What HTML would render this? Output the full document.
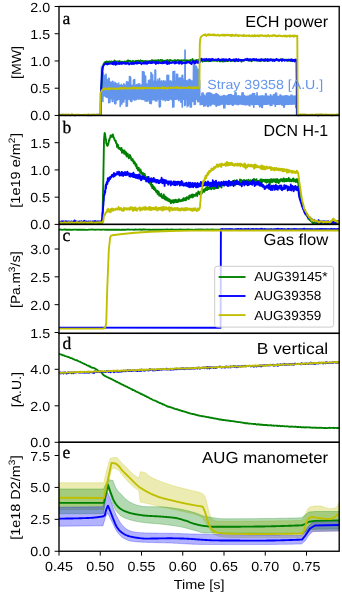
<!DOCTYPE html>
<html><head><meta charset="utf-8"><title>AUG ECH discharge overview</title>
<style>html,body{margin:0;padding:0;background:#fff;width:342px;height:593px;overflow:hidden}svg{display:block;will-change:transform}text{text-rendering:geometricPrecision}</style>
</head><body>
<svg width="342" height="593" viewBox="0 0 342 593"><g id="data">
<path d="M59 115 L60 115 L61 115.04 L62 114.96 L63 114.87 L64 114.93 L65 114.85 L66 115.01 L67 115.2 L68 114.93 L69 114.91 L70 115.07 L71 115.05 L72 115.02 L73 114.86 L74 115 L75 115.1 L76 114.8 L77 114.93 L78 114.71 L79 114.81 L80 114.72 L81 114.96 L82 114.81 L83 115.04 L84 115.02 L85 114.97 L86 114.62 L87 114.92 L88 114.99 L89 115.02 L90 114.77 L91 114.93 L92 114.85 L93 114.88 L94 115.16 L95 114.88 L96 115 L97 115.13 L98 114.91 L99 114.98 L100 115.02 L101 115.01 L101.3 66.3 L101.55 99.02 L101.8 68.37 L102.05 99.86 L102.3 70.04 L102.55 101.27 L102.8 71.91 L103.05 101.72 L103.3 72.61 L103.55 95.27 L103.8 74.1 L104.05 95.83 L104.3 75.52 L104.55 95.9 L104.8 76.51 L105.05 96.33 L105.3 75.7 L105.55 96.74 L105.8 74.2 L106.05 97.06 L106.3 74.29 L106.55 97.09 L106.8 79.39 L107.05 97.35 L107.3 80.03 L107.55 97.59 L107.8 79.71 L108.05 97.82 L108.3 78.4 L108.55 102.81 L108.8 78.12 L109.05 102.5 L109.3 78.07 L109.55 102.67 L109.8 81.62 L110.05 102.61 L110.3 82.46 L110.55 98.76 L110.8 81.93 L111.05 98.84 L111.3 83.01 L111.55 98.93 L111.8 82.43 L112.05 101.5 L112.3 81.23 L112.55 101.78 L112.8 81.06 L113.05 101.6 L113.3 81.84 L113.55 98.77 L113.8 83.62 L114.05 98.84 L114.3 83.7 L114.55 103.77 L114.8 81.95 L115.05 103.67 L115.3 82.47 L115.55 104.07 L115.8 83.51 L116.05 103.57 L116.3 83.24 L116.55 100.08 L116.8 83.72 L117.05 100.11 L117.3 83.64 L117.55 100.13 L117.8 85.23 L118.05 99.32 L118.3 84.84 L118.55 99.3 L118.8 82.69 L119.05 99.32 L119.3 84.63 L119.55 99.35 L119.8 85.21 L120.05 106.74 L120.3 85.48 L120.55 106.01 L120.8 84.81 L121.05 104.18 L121.3 83.98 L121.55 103.83 L121.8 84.89 L122.05 104.26 L122.3 85.27 L122.55 102.22 L122.8 85.37 L123.05 102.06 L123.3 84.86 L123.55 102.04 L123.8 83.42 L124.05 101.87 L124.3 84.56 L124.55 99.04 L124.8 84.3 L125.05 99.05 L125.3 85.72 L125.55 99.06 L125.8 85.75 L126.05 106.52 L126.3 81.85 L126.55 106.21 L126.8 81.68 L127.05 106.27 L127.3 81.89 L127.55 106.08 L127.8 82.2 L128.05 99.01 L128.3 82.15 L128.55 99.01 L128.8 84.18 L129.05 99.65 L129.3 76.41 L129.55 99.7 L129.8 76.72 L130.05 99.64 L130.3 76.5 L130.55 101.44 L130.8 77.2 L131.05 101.55 L131.3 84.84 L131.55 101.69 L131.8 85.43 L132.05 101.31 L132.3 85.8 L132.55 99.26 L132.8 84.8 L133.05 99.23 L133.3 80.28 L133.55 99.24 L133.8 79.31 L134.05 100.26 L134.3 80.2 L134.55 100.26 L134.8 79.35 L135.05 100.17 L135.3 85.8 L135.55 99.72 L135.8 85.13 L136.05 99.66 L136.3 84.56 L136.55 99.68 L136.8 84.66 L137.05 99 L137.3 85.56 L137.55 99 L137.8 84.06 L138.05 99.1 L138.3 83.9 L138.55 99.11 L138.8 83.89 L139.05 99.1 L139.3 85.02 L139.55 99.1 L139.8 83.65 L140.05 99.01 L140.3 85.11 L140.55 99.01 L140.8 85.9 L141.05 99.01 L141.3 84.75 L141.55 99.4 L141.8 85.55 L142.05 99.4 L142.3 71.3 L142.55 99.36 L142.8 72.02 L143.05 99.66 L143.3 71.68 L143.55 99.72 L143.8 71.5 L144.05 99.73 L144.3 71.99 L144.55 99.73 L144.8 75.94 L145.05 101.2 L145.3 75.96 L145.55 101.07 L145.8 75.91 L146.05 101.06 L146.3 85.64 L146.55 101.19 L146.8 83.89 L147.05 101.08 L147.3 85.3 L147.55 101.13 L147.8 83.91 L148.05 101.31 L148.3 80.54 L148.55 99.33 L148.8 80.18 L149.05 99.32 L149.3 80.85 L149.55 103.3 L149.8 79.95 L150.05 103.52 L150.3 82.75 L150.55 103.49 L150.8 72.41 L151.05 103.89 L151.3 72.69 L151.55 103.3 L151.8 73.15 L152.05 99.89 L152.3 74.74 L152.55 100 L152.8 74.77 L153.05 99.98 L153.3 81.75 L153.55 99.96 L153.8 81.11 L154.05 99.31 L154.3 81.94 L154.55 99.3 L154.8 70.05 L155.05 100.96 L155.3 69.96 L155.55 101.01 L155.8 70.08 L156.05 100.97 L156.3 81.12 L156.55 101.09 L156.8 81.22 L157.05 101.18 L157.3 81.62 L157.55 99.18 L157.8 79.06 L158.05 99.17 L158.3 81.26 L158.55 99.2 L158.8 80.86 L159.05 106.38 L159.3 78.25 L159.55 107.25 L159.8 78.48 L160.05 106.34 L160.3 81.95 L160.55 106.56 L160.8 81.4 L161.05 99.23 L161.3 80.62 L161.55 99.24 L161.8 81.74 L162.05 99.24 L162.3 81.99 L162.55 100.01 L162.8 80.97 L163.05 100.05 L163.3 80.92 L163.55 99.95 L163.8 80.64 L164.05 99.61 L164.3 81.01 L164.55 99.67 L164.8 81.56 L165.05 100.98 L165.3 80.93 L165.55 100.92 L165.8 81.9 L166.05 99.87 L166.3 81.7 L166.55 99.84 L166.8 75.26 L167.05 99.9 L167.3 75.13 L167.55 100.5 L167.8 75.32 L168.05 100.41 L168.3 75.57 L168.55 100.51 L168.8 75.21 L169.05 100.49 L169.3 80.89 L169.55 99.04 L169.8 81.19 L170.05 99.04 L170.3 80.57 L170.55 99.05 L170.8 81.46 L171.05 99.04 L171.3 81.15 L171.55 99.65 L171.8 81.79 L172.05 99.63 L172.3 81.89 L172.55 107.13 L172.8 71.51 L173.05 107.23 L173.3 71.67 L173.55 107.07 L173.8 71.62 L174.05 106.82 L174.3 71.36 L174.55 99.41 L174.8 71.06 L175.05 99.4 L175.3 81.96 L175.55 99.39 L175.8 80.91 L176.05 99.38 L176.3 74.25 L176.55 99.15 L176.8 74.12 L177.05 99.17 L177.3 74.01 L177.55 99.15 L177.8 74.39 L178.05 99.16 L178.3 77.86 L178.55 100.62 L178.8 78.32 L179.05 100.73 L179.3 78.11 L179.55 99.12 L179.8 77.87 L180.05 99.12 L180.3 78.2 L180.55 102.19 L180.8 77.96 L181.05 102.23 L181.3 81.23 L181.55 102.26 L181.8 75.55 L182.05 107.27 L182.3 75.35 L182.55 107.08 L182.8 74.94 L183.05 99.49 L183.3 78.61 L183.55 99.5 L183.8 80.24 L184.05 99.49 L184.3 80.56 L184.55 105.7 L184.8 50.01 L185.05 105.43 L185.3 49.81 L185.55 105.14 L185.8 80.41 L186.05 99.75 L186.3 81.73 L186.55 99.67 L186.8 80.25 L187.05 106.88 L187.3 81.15 L187.55 105.96 L187.8 81.66 L188.05 106 L188.3 79.93 L188.55 105.79 L188.8 79.26 L189.05 104.04 L189.3 79.99 L189.55 103.86 L189.8 79.2 L190.05 107.17 L190.3 80.76 L190.55 106.72 L190.8 80.22 L191.05 107.21 L191.3 80.56 L191.55 107.09 L191.8 81.69 L192.05 101.24 L192.3 80.87 L192.55 101.55 L192.8 81.58 L193.05 101.48 L193.3 64.99 L193.55 101.5 L193.8 64.59 L194.05 104.69 L194.3 64.47 L194.55 104.18 L194.8 65.04 L195.05 104.29 L195.3 66.47 L195.55 104.33 L195.8 66.19 L196.05 99.3 L196.3 66.02 L196.55 99.31 L196.8 66.54 L197.05 99.3 L197.3 69.39 L197.55 101.82 L197.8 68.99 L198.05 101.68 L198.3 69.27 L198.55 101.64 L198.8 69.46 L199.05 101.79 L199.3 81.17 L199.55 99.61 L199.8 80.68 L200.05 104.64 L200.3 96.26 L200.55 104.63 L200.8 96.26 L201.05 104.67 L201.3 96.26 L201.55 104.5 L201.8 92.98 L202.05 104.49 L202.3 93.04 L202.55 104.51 L202.8 92.85 L203.05 104.53 L203.3 92.79 L203.55 106.17 L203.8 95.04 L204.05 106.29 L204.3 94.96 L204.55 105.64 L204.8 95.76 L205.05 105.63 L205.3 95.79 L205.55 105.81 L205.8 95.75 L206.05 105.83 L206.3 93.42 L206.55 104.46 L206.8 93.35 L207.05 104.47 L207.3 92.9 L207.55 106.65 L207.8 92.78 L208.05 106.75 L208.3 92.87 L208.55 106.57 L208.8 92.77 L209.05 104.82 L209.3 92.62 L209.55 104.83 L209.8 92.96 L210.05 105.64 L210.3 92.76 L210.55 105.81 L210.8 93.28 L211.05 105.66 L211.3 93.64 L211.55 104.07 L211.8 93.4 L212.05 104.07 L212.3 94.64 L212.55 104.07 L212.8 94.82 L213.05 104.17 L213.3 94.77 L213.55 104.16 L213.8 94.79 L214.05 104.16 L214.3 94.53 L214.55 104.16 L214.8 94.33 L215.05 104.89 L215.3 94.43 L215.55 104.87 L215.8 93.41 L216.05 106.59 L216.3 93.57 L216.55 106.52 L216.8 93.28 L217.05 105.32 L217.3 94.57 L217.55 105.31 L217.8 94.47 L218.05 105.3 L218.3 94.53 L218.55 105.19 L218.8 95.96 L219.05 105.12 L219.3 95.95 L219.55 105.13 L219.8 95.96 L220.05 105.09 L220.3 96.28 L220.55 104.45 L220.8 96.28 L221.05 104.4 L221.3 96.28 L221.55 104.2 L221.8 96.05 L222.05 104.22 L222.3 96.02 L222.55 104.22 L222.8 96.04 L223.05 104.21 L223.3 95.4 L223.55 108.1 L223.8 95.44 L224.05 108.02 L224.3 95.37 L224.55 107.53 L224.8 95.42 L225.05 107.91 L225.3 96.1 L225.55 104.06 L225.8 96.1 L226.05 104.07 L226.3 96.08 L226.55 104.07 L226.8 95.63 L227.05 104.07 L227.3 95.68 L227.55 104.38 L227.8 95.67 L228.05 104.34 L228.3 94.67 L228.55 104.53 L228.8 94.51 L229.05 104.49 L229.3 94.56 L229.55 104.56 L229.8 94.57 L230.05 104.22 L230.3 94.71 L230.55 104.23 L230.8 94.38 L231.05 104.21 L231.3 94.53 L231.55 104.23 L231.8 94.52 L232.05 105.26 L232.3 95.56 L232.55 105.37 L232.8 95.61 L233.05 105.25 L233.3 95.59 L233.55 105.21 L233.8 95.54 L234.05 104.26 L234.3 95.59 L234.55 104.24 L234.8 92.66 L235.05 104.23 L235.3 92.6 L235.55 104.24 L235.8 92.62 L236.05 104.05 L236.3 92.88 L236.55 104.05 L236.8 96.16 L237.05 104.7 L237.3 96.16 L237.55 104.69 L237.8 95.54 L238.05 104.74 L238.3 95.58 L238.55 104.65 L238.8 95.49 L239.05 104.22 L239.3 96.07 L239.55 104.2 L239.8 96.08 L240.05 104.22 L240.3 96.08 L240.55 104.22 L240.8 96.07 L241.05 104.23 L241.3 96.1 L241.55 104.22 L241.8 92.9 L242.05 104.2 L242.3 92.9 L242.55 104.53 L242.8 92.6 L243.05 104.56 L243.3 92.7 L243.55 104.44 L243.8 95.34 L244.05 104.48 L244.3 95.31 L244.55 104.79 L244.8 95.42 L245.05 104.85 L245.3 96.27 L245.55 104.87 L245.8 96.28 L246.05 104.89 L246.3 96.27 L246.55 104.6 L246.8 96.28 L247.05 104.57 L247.3 96.1 L247.55 104.63 L247.8 96.09 L248.05 104.62 L248.3 96.08 L248.55 104.58 L248.8 96.09 L249.05 105.83 L249.3 95.34 L249.55 105.69 L249.8 95.43 L250.05 105.96 L250.3 95.13 L250.55 104.12 L250.8 94.98 L251.05 104.13 L251.3 95.11 L251.55 104.64 L251.8 94.95 L252.05 104.64 L252.3 93.41 L252.55 104.6 L252.8 93.63 L253.05 104.67 L253.3 93.7 L253.55 107.5 L253.8 93.31 L254.05 107.34 L254.3 93.27 L254.55 104.35 L254.8 93.56 L255.05 104.35 L255.3 95.74 L255.55 104.39 L255.8 95.78 L256.05 104.48 L256.3 95.77 L256.55 104.54 L256.8 92.51 L257.05 104.49 L257.3 92.97 L257.55 104.47 L257.8 96.16 L258.05 104.47 L258.3 96.16 L258.55 104.95 L258.8 96.17 L259.05 104.92 L259.3 96.17 L259.55 106.87 L259.8 96.07 L260.05 106.73 L260.3 96.07 L260.55 106.17 L260.8 95.78 L261.05 106.27 L261.3 95.75 L261.55 107.43 L261.8 95.73 L262.05 107.64 L262.3 95.7 L262.55 107.59 L262.8 95.73 L263.05 104.58 L263.3 96.15 L263.55 104.57 L263.8 96.13 L264.05 104.31 L264.3 96.15 L264.55 104.29 L264.8 96.14 L265.05 104.3 L265.3 93.82 L265.55 104.5 L265.8 93.48 L266.05 104.49 L266.3 93.53 L266.55 104.48 L266.8 96.17 L267.05 104.3 L267.3 96.18 L267.55 104.33 L267.8 95.95 L268.05 104.14 L268.3 95.95 L268.55 104.12 L268.8 96.29 L269.05 104.12 L269.3 96.29 L269.55 104.12 L269.8 96.29 L270.05 105.65 L270.3 94.59 L270.55 105.63 L270.8 94.67 L271.05 105.58 L271.3 95.54 L271.55 105.45 L271.8 96.21 L272.05 105.48 L272.3 96.21 L272.55 104.02 L272.8 96.22 L273.05 104.02 L273.3 94.65 L273.55 104.02 L273.8 94.54 L274.05 104.04 L274.3 94.67 L274.55 104.03 L274.8 94.51 L275.05 106.4 L275.3 92.98 L275.55 106.41 L275.8 92.79 L276.05 104.41 L276.3 93.17 L276.55 104.41 L276.8 93.14 L277.05 104.44 L277.3 96.28 L277.55 104.39 L277.8 96.28 L278.05 104.4 L278.3 96.28 L278.55 104.36 L278.8 96.28 L279.05 104.37 L279.3 96.28 L279.55 104.38 L279.8 94.9 L280.05 104.11 L280.3 94.87 L280.55 104.11 L280.8 94.89 L281.05 104.12 L281.3 95.87 L281.55 105.06 L281.8 95.88 L282.05 105.11 L282.3 95.86 L282.55 105.15 L282.8 96.27 L283.05 105.18 L283.3 96.27 L283.55 107.3 L283.8 95.87 L284.05 107.05 L284.3 95.85 L284.55 107.06 L284.8 95.85 L285.05 104.32 L285.3 95.81 L285.55 104.32 L285.8 95.69 L286.05 104.42 L286.3 95.69 L286.55 104.41 L286.8 95.71 L287.05 104.43 L287.3 95.69 L287.55 104.42 L287.8 96.01 L288.05 104.48 L288.3 96.01 L288.55 104.38 L288.8 96 L289.05 104.36 L289.3 96.23 L289.55 104.25 L289.8 96.24 L290.05 104.25 L290.3 96.24 L290.55 104.23 L290.8 95.11 L291.05 104.48 L291.3 95.13 L291.55 104.46 L291.8 95.25 L292.05 104.47 L292.3 95.2 L292.55 104.12 L292.8 96.15 L293.05 104.12 L293.3 96.14 L293.55 104.12 L293.8 96.15 L294.05 104.03 L294.3 96.14 L294.55 104.04 L294.8 96.14 L295.05 104.04 L295.3 95.97 L295.55 107.47 L295.8 96 L296.05 107.83 L296.3 96.06 L296.55 107.45 L296.8 96.05 L297.05 105.17 L297.3 94.45 L297.5 115 L298 114.92 L299 114.91 L300 114.86 L301 115.18 L302 115 L303 115.14 L304 114.96 L305 115.01 L306 114.97 L307 115.07 L308 115.12 L309 115.04 L310 114.9 L311 114.88 L312 115.25 L313 114.96 L314 114.96 L315 115.22 L316 115.16 L317 115.08 L318 114.94 L319 115.35 L320 115.06 L321 115.08 L322 114.97 L323 114.79 L324 114.8 L325 115.06 L326 115.06 L327 114.96 L328 114.82 L329 114.78 L330 114.95 L331 114.78 L332 115.13 L333 115.17 L334 115.42 L335 115.13 L336 114.91 L337 114.87 L338 114.48 L339 114.91" fill="none" stroke="#6495ed" stroke-width="1.2" stroke-linejoin="round" stroke-linecap="butt" />
<path d="M59 115 L60 114.97 L61 115.15 L62 115.09 L63 115.09 L64 115.03 L65 115.1 L66 115.22 L67 114.84 L68 114.93 L69 114.79 L70 115.24 L71 115.19 L72 115.11 L73 114.82 L74 115.03 L75 114.96 L76 115.01 L77 114.97 L78 115.08 L79 114.94 L80 115.13 L81 115.04 L82 114.96 L83 114.98 L84 114.93 L85 115.12 L86 114.96 L87 115.04 L88 114.94 L89 114.78 L90 115.14 L91 114.84 L92 115.1 L93 115.06 L94 114.75 L95 114.86 L96 114.92 L97 114.88 L98 114.82 L99 115.11 L100 114.96 L100.7 115.06 L100.9 93 L101.6 85 L102.2 75 L102.8 68 L103.6 64 L104.8 62.4 L105.5 62 L106 61.71 L106.5 62.03 L107 61.54 L107.5 61.86 L108 62.12 L108.5 61.87 L109 61.63 L109.5 61.34 L110 61.89 L110.5 61.96 L111 61.68 L111.5 61.44 L112 62.02 L112.5 62.88 L113 61.62 L113.5 61.9 L114 61.91 L114.5 60.57 L115 61.77 L115.5 61.39 L116 62.32 L116.5 61.57 L117 61.33 L117.5 61.57 L118 61.73 L118.5 61.39 L119 61.61 L119.5 61.01 L120 61.51 L120.5 61.95 L121 62.48 L121.5 61.9 L122 61.7 L122.5 62.1 L123 62.01 L123.5 62.29 L124 62.02 L124.5 61.47 L125 61.63 L125.5 61.58 L126 61.63 L126.5 61.57 L127 61.12 L127.5 60.51 L128 61.15 L128.5 60.53 L129 61.46 L129.5 61.42 L130 60.66 L130.5 61.71 L131 61.78 L131.5 61.42 L132 62.12 L132.5 62.2 L133 60.81 L133.5 61.8 L134 61.53 L134.5 61.51 L135 61.73 L135.5 60.97 L136 61.02 L136.5 60.9 L137 60.93 L137.5 61.21 L138 60.59 L138.5 60.76 L139 61.48 L139.5 61.18 L140 61.38 L140.5 60.34 L141 60.83 L141.5 60.92 L142 61.18 L142.5 60.89 L143 61.56 L143.5 61.11 L144 61.13 L144.5 61.12 L145 61.42 L145.5 60.88 L146 61.59 L146.5 61.28 L147 61.13 L147.5 61.07 L148 61.28 L148.5 61.49 L149 61.45 L149.5 61.18 L150 61.39 L150.5 61.05 L151 61.55 L151.5 60.97 L152 60.04 L152.5 61.57 L153 61.01 L153.5 60.42 L154 60.85 L154.5 60.54 L155 61.87 L155.5 61.15 L156 60.21 L156.5 61.15 L157 60.72 L157.5 61.76 L158 60.41 L158.5 59.87 L159 60.9 L159.5 60.71 L160 60.67 L160.5 59.89 L161 61.03 L161.5 61.59 L162 59.97 L162.5 61.35 L163 60.56 L163.5 61.86 L164 61 L164.5 60.71 L165 61.28 L165.5 61.02 L166 60.5 L166.5 61.08 L167 60.53 L167.5 59.95 L168 61.66 L168.5 60.58 L169 60.45 L169.5 60.87 L170 60.01 L170.5 60.1 L171 60.48 L171.5 60.46 L172 60.72 L172.5 61.18 L173 60.46 L173.5 60.89 L174 60.93 L174.5 60.16 L175 60.75 L175.5 60.21 L176 61.11 L176.5 60.83 L177 60.62 L177.5 60 L178 60.65 L178.5 60.25 L179 60.9 L179.5 60.52 L180 60.21 L180.5 60.98 L181 60.88 L181.5 60.28 L182 61.07 L182.5 60.4 L183 60.39 L183.5 60.58 L184 60.18 L184.5 60.31 L185 60.43 L185.5 61.18 L186 61.16 L186.5 60.36 L187 61.2 L187.5 60.44 L188 60.63 L188.5 60.85 L189 60.57 L189.5 61.52 L190 60.54 L190.5 59.88 L191 61 L191.5 60.22 L192 60.26 L192.5 59.05 L193 60.84 L193.5 60.75 L194 60.73 L194.5 60.8 L195 61.12 L195.5 60.33 L196 60.76 L196.5 60 L197 60.17 L197.5 60.8 L198 60.49 L198.5 59.71 L199 60.46 L199.5 60.34 L200 60.18 L200.5 60.87 L201 60.62 L201.5 60.09 L202 60.29 L202.5 61.58 L203 60.09 L203.5 60.87 L204 61.04 L204.5 61.04 L205 60.2 L205.5 60.6 L206 60.8 L206.5 61.09 L207 60.44 L207.5 60.2 L208 61.17 L208.5 61.21 L209 60.87 L209.5 60.42 L210 60.87 L210.5 60.73 L211 61.05 L211.5 60.11 L212 60.72 L212.5 60.59 L213 60.15 L213.5 60.74 L214 60.66 L214.5 60.45 L215 60.81 L215.5 59.98 L216 60.59 L216.5 60.8 L217 60.73 L217.5 61.08 L218 60.05 L218.5 59.91 L219 60.69 L219.5 60.78 L220 61.52 L220.5 60.84 L221 60.16 L221.5 60.91 L222 60.16 L222.5 59.87 L223 61.7 L223.5 60.67 L224 60.84 L224.5 60.77 L225 61.32 L225.5 60.63 L226 61.04 L226.5 60.03 L227 59.86 L227.5 61.12 L228 61.13 L228.5 60.69 L229 60.56 L229.5 60.53 L230 60.14 L230.5 61.13 L231 60.73 L231.5 60.65 L232 60.59 L232.5 60.89 L233 60.64 L233.5 60.74 L234 59.87 L234.5 60.62 L235 61.37 L235.5 60.14 L236 60.31 L236.5 60.77 L237 60.79 L237.5 60.63 L238 59.62 L238.5 60.57 L239 59.8 L239.5 59.96 L240 60.57 L240.5 60.18 L241 60.67 L241.5 61.72 L242 60.65 L242.5 60.62 L243 59.88 L243.5 59.99 L244 59.79 L244.5 60.03 L245 59.77 L245.5 59.96 L246 60.16 L246.5 59.79 L247 59.6 L247.5 59.62 L248 60.43 L248.5 60.25 L249 60.67 L249.5 60.68 L250 60.05 L250.5 60.5 L251 59.55 L251.5 61.22 L252 60.73 L252.5 60.09 L253 59.66 L253.5 60.36 L254 59.34 L254.5 59.83 L255 60.52 L255.5 60.21 L256 59.95 L256.5 60.6 L257 59.7 L257.5 60.3 L258 59.94 L258.5 59.78 L259 60.37 L259.5 59.71 L260 61.01 L260.5 59.89 L261 61.05 L261.5 59.66 L262 60.42 L262.5 59.61 L263 59.54 L263.5 60.21 L264 60.44 L264.5 59.56 L265 60.67 L265.5 59.77 L266 60.19 L266.5 60.3 L267 60.39 L267.5 59.32 L268 60.85 L268.5 60.37 L269 59.93 L269.5 59.66 L270 59.35 L270.5 59.5 L271 60.35 L271.5 59.95 L272 59.6 L272.5 59.87 L273 60.8 L273.5 59.95 L274 59.83 L274.5 60.7 L275 60.3 L275.5 60.11 L276 59.81 L276.5 59.39 L277 59.56 L277.5 59.87 L278 59.98 L278.5 60.24 L279 60.32 L279.5 60.17 L280 60.17 L280.5 59.62 L281 59.1 L281.5 59.83 L282 59.63 L282.5 59.77 L283 59.93 L283.5 59.5 L284 59.55 L284.5 60.01 L285 60.1 L285.5 59.75 L286 60.27 L286.5 59.94 L287 59.58 L287.5 60.06 L288 60.88 L288.5 59.73 L289 60.56 L289.5 60.65 L290 60.7 L290.5 59.66 L291 60.93 L291.5 60.07 L292 59.91 L292.5 59.91 L293 60.29 L293.5 60.04 L294 59.93 L294.5 60.59 L295 59.68 L295.5 59.53 L296 60.36 L296.5 60.32 L296.8 115 L297 115.16 L298 114.84 L299 115.16 L300 115.07 L301 115.26 L302 114.81 L303 115.03 L304 114.96 L305 114.76 L306 114.89 L307 115.17 L308 114.93 L309 114.89 L310 115.13 L311 115.15 L312 115.15 L313 114.88 L314 114.99 L315 115.15 L316 114.9 L317 114.89 L318 115.12 L319 115.23 L320 114.83 L321 114.61 L322 114.78 L323 114.85 L324 114.98 L325 115.09 L326 114.98 L327 114.89 L328 115.02 L329 114.86 L330 114.99 L331 114.9 L332 115.4 L333 115.12 L334 114.87 L335 114.85 L336 114.93 L337 114.75 L338 114.89 L339.2 114.89" fill="none" stroke="#008000" stroke-width="1.875" stroke-linejoin="round" stroke-linecap="butt" />
<path d="M59 115 L60 115.13 L61 114.94 L62 114.88 L63 114.8 L64 114.82 L65 114.99 L66 114.97 L67 115.17 L68 114.91 L69 115.16 L70 115.04 L71 115 L72 114.7 L73 114.81 L74 115.11 L75 115.21 L76 115.03 L77 115.11 L78 114.94 L79 114.94 L80 114.9 L81 115.15 L82 115.05 L83 114.96 L84 114.95 L85 115.08 L86 115.05 L87 114.88 L88 115.26 L89 115.04 L90 115 L91 115.22 L92 115.15 L93 114.99 L94 115.08 L95 114.84 L96 114.9 L97 114.66 L98 115.18 L99 114.72 L100 115.1 L100.7 114.88 L100.8 93 L101.2 88 L101.6 80 L102 72 L102.4 68.8 L103.1 66.2 L104 64.8 L105.3 63.9 L105.5 63.06 L105.9 63.49 L106.3 63.73 L106.7 63.92 L107.1 64.55 L107.5 63.77 L107.9 64.05 L108.3 63.23 L108.7 63.94 L109.1 63.63 L109.5 63.28 L109.9 63.48 L110.3 63.49 L110.7 63.62 L111.1 63.73 L111.5 63.23 L111.9 63.09 L112.3 63.9 L112.7 62.55 L113.1 63.14 L113.5 64.33 L113.9 61.98 L114.3 63.08 L114.7 63.83 L115.1 62.54 L115.5 64.87 L115.9 62.01 L116.3 64.22 L116.7 64.28 L117.1 63.92 L117.5 63.29 L117.9 63.6 L118.3 62.91 L118.7 63.84 L119.1 62.77 L119.5 63.23 L119.9 63.92 L120.3 62.75 L120.7 63.16 L121.1 63.44 L121.5 62.61 L121.9 63.98 L122.3 63.52 L122.7 62.5 L123.1 63.3 L123.5 62.89 L123.9 62.95 L124.3 63.35 L124.7 62.91 L125.1 63.82 L125.5 62.9 L125.9 63.82 L126.3 63.25 L126.7 63.74 L127.1 62.96 L127.5 62.98 L127.9 62.61 L128.3 63.56 L128.7 63.75 L129.1 64.39 L129.5 63.93 L129.9 63.35 L130.3 63.09 L130.7 63.42 L131.1 63.18 L131.5 64 L131.9 63.7 L132.3 62.72 L132.7 62.79 L133.1 63.92 L133.5 63.33 L133.9 63.03 L134.3 63.8 L134.7 62.93 L135.1 62.98 L135.5 62.87 L135.9 62.04 L136.3 63.59 L136.7 62.44 L137.1 62.79 L137.5 62.69 L137.9 63.49 L138.3 63.05 L138.7 63.09 L139.1 62.15 L139.5 63.02 L139.9 62.25 L140.3 63.22 L140.7 63.25 L141.1 63.03 L141.5 64.16 L141.9 63.32 L142.3 63.35 L142.7 63.09 L143.1 62.9 L143.5 63.53 L143.9 63.6 L144.3 62.27 L144.7 63.56 L145.1 63.26 L145.5 63.5 L145.9 63.22 L146.3 62.27 L146.7 62.31 L147.1 63.95 L147.5 63.08 L147.9 62.15 L148.3 63.12 L148.7 62.72 L149.1 61.9 L149.5 61.65 L149.9 62.02 L150.3 63.05 L150.7 62.87 L151.1 62.75 L151.5 63.04 L151.9 63.21 L152.3 61.72 L152.7 62.7 L153.1 62.41 L153.5 62.18 L153.9 62.55 L154.3 62.78 L154.7 62.7 L155.1 62.04 L155.5 62.57 L155.9 63.94 L156.3 62.24 L156.7 61.89 L157.1 62.97 L157.5 63.14 L157.9 63.06 L158.3 62.18 L158.7 63.34 L159.1 62.36 L159.5 62.16 L159.9 62.45 L160.3 62.72 L160.7 63.16 L161.1 63.11 L161.5 62.75 L161.9 63.27 L162.3 62.8 L162.7 63.24 L163.1 61.97 L163.5 61.87 L163.9 63.16 L164.3 61.96 L164.7 62.56 L165.1 62.66 L165.5 62.44 L165.9 62.46 L166.3 63.47 L166.7 61.31 L167.1 63.18 L167.5 63.95 L167.9 62.7 L168.3 62.67 L168.7 63.07 L169.1 63.67 L169.5 62.01 L169.9 62.71 L170.3 62.55 L170.7 62.96 L171.1 62.73 L171.5 63 L171.9 62.4 L172.3 62.66 L172.7 62.26 L173.1 62.25 L173.5 62.54 L173.9 62.53 L174.3 61.96 L174.7 63.46 L175.1 62.52 L175.5 61.83 L175.9 63.19 L176.3 62.17 L176.7 62.86 L177.1 62.56 L177.5 62.7 L177.9 62.66 L178.3 62.24 L178.7 62.57 L179.1 63.67 L179.5 61.31 L179.9 62.57 L180.3 62.77 L180.7 61.95 L181.1 61.77 L181.5 63.71 L181.9 62.31 L182.3 63.65 L182.7 62.8 L183.1 62.54 L183.5 62.76 L183.9 62.84 L184.3 63.13 L184.7 62.72 L185.1 62.55 L185.5 62.57 L185.9 63.21 L186.3 62.91 L186.7 61.9 L187.1 62.1 L187.5 62.63 L187.9 62.1 L188.3 62.23 L188.7 61.91 L189.1 62.28 L189.5 62.65 L189.9 62.96 L190.3 62.42 L190.7 63.55 L191.1 62.36 L191.5 64.15 L191.9 62.94 L192.3 62.66 L192.7 62.11 L193.1 60.82 L193.5 62.29 L193.9 62.47 L194.3 63.42 L194.7 61.6 L195.1 63.4 L195.5 62.21 L195.9 62.74 L196.3 60.94 L196.7 62.41 L197.1 62.14 L197.5 62.7 L197.9 62.37 L198.3 61.69 L198.7 62.83 L199.1 62.69 L199.5 62.63 L199.9 61.73 L200.3 60.67 L200.7 59.49 L201.1 58.76 L201.5 58.74 L201.9 60.25 L202.3 59.9 L202.7 59.57 L203.1 59.28 L203.5 59.54 L203.9 59.53 L204.3 59.34 L204.7 59.14 L205.1 60.72 L205.5 59.66 L205.9 59.2 L206.3 58.82 L206.7 59.14 L207.1 59.94 L207.5 59.96 L207.9 59.42 L208.3 59.58 L208.7 59.38 L209.1 58.94 L209.5 60.27 L209.9 59.76 L210.3 60.92 L210.7 59.15 L211.1 59.49 L211.5 60.05 L211.9 59.43 L212.3 58.81 L212.7 59.05 L213.1 59.63 L213.5 59.77 L213.9 59.53 L214.3 60.14 L214.7 60.13 L215.1 59.77 L215.5 59.61 L215.9 59.45 L216.3 59.9 L216.7 60.1 L217.1 59.63 L217.5 59.85 L217.9 59.43 L218.3 58.83 L218.7 59.06 L219.1 60.03 L219.5 59.86 L219.9 60.49 L220.3 59.65 L220.7 60.1 L221.1 60.35 L221.5 60.17 L221.9 59.29 L222.3 59.53 L222.7 59.71 L223.1 59.09 L223.5 59.9 L223.9 60.21 L224.3 59.38 L224.7 60.73 L225.1 59.49 L225.5 59.54 L225.9 59.52 L226.3 59.27 L226.7 59.89 L227.1 59.67 L227.5 60.58 L227.9 60 L228.3 59.96 L228.7 59.55 L229.1 58.9 L229.5 59.63 L229.9 59.21 L230.3 60.2 L230.7 59.67 L231.1 60.6 L231.5 60.09 L231.9 60.15 L232.3 59.82 L232.7 59.81 L233.1 60.06 L233.5 60.21 L233.9 59.31 L234.3 59.98 L234.7 61.15 L235.1 59.66 L235.5 59.57 L235.9 59.33 L236.3 58.92 L236.7 60.37 L237.1 59.76 L237.5 59.89 L237.9 60.74 L238.3 61.11 L238.7 59.24 L239.1 60.31 L239.5 60.08 L239.9 59.96 L240.3 60.01 L240.7 59.73 L241.1 60.62 L241.5 60.09 L241.9 59.94 L242.3 60.44 L242.7 60.25 L243.1 60.01 L243.5 59.94 L243.9 60.73 L244.3 60.05 L244.7 59.72 L245.1 59.3 L245.5 59.59 L245.9 59.2 L246.3 59.84 L246.7 59.92 L247.1 58.66 L247.5 59.8 L247.9 60.15 L248.3 59.88 L248.7 59.27 L249.1 60.49 L249.5 59.42 L249.9 59.13 L250.3 59.21 L250.7 59.8 L251.1 60.35 L251.5 60.46 L251.9 59.94 L252.3 59.17 L252.7 59.47 L253.1 59.34 L253.5 59.74 L253.9 58.87 L254.3 59.91 L254.7 60.21 L255.1 59.77 L255.5 60.11 L255.9 59.35 L256.3 59.07 L256.7 59.52 L257.1 60.51 L257.5 60.45 L257.9 59.63 L258.3 60.55 L258.7 59.71 L259.1 60.73 L259.5 60.17 L259.9 59.66 L260.3 60.35 L260.7 59.49 L261.1 59.4 L261.5 59.13 L261.9 60.07 L262.3 59.9 L262.7 59.89 L263.1 59.71 L263.5 60.74 L263.9 59.72 L264.3 59.55 L264.7 60.64 L265.1 60.74 L265.5 60.15 L265.9 59.01 L266.3 59.64 L266.7 60.32 L267.1 59.99 L267.5 60.84 L267.9 59.24 L268.3 60.37 L268.7 59.65 L269.1 60.73 L269.5 59.97 L269.9 60.58 L270.3 59.66 L270.7 59.25 L271.1 59.41 L271.5 59.7 L271.9 59.47 L272.3 60.7 L272.7 60.78 L273.1 60.2 L273.5 59.48 L273.9 59.99 L274.3 59.68 L274.7 60.86 L275.1 60.24 L275.5 60.34 L275.9 59.86 L276.3 58.97 L276.7 59.66 L277.1 59.48 L277.5 60.3 L277.9 60.15 L278.3 59.66 L278.7 59.89 L279.1 60.97 L279.5 59.59 L279.9 59.61 L280.3 60 L280.7 59.74 L281.1 59.9 L281.5 60.43 L281.9 61.09 L282.3 59.17 L282.7 60.14 L283.1 60.18 L283.5 60.11 L283.9 60.06 L284.3 59.98 L284.7 60.72 L285.1 59.92 L285.5 60.11 L285.9 60.18 L286.3 60.25 L286.7 60.1 L287.1 60.75 L287.5 60.2 L287.9 60.3 L288.3 60.18 L288.7 59.66 L289.1 59.76 L289.5 59.64 L289.9 60.33 L290.3 59.84 L290.7 59.65 L291.1 60.37 L291.5 60.53 L291.9 59.28 L292.3 61.18 L292.7 60.27 L293.1 60.2 L293.5 60.85 L293.9 60.31 L294.3 59.94 L294.7 61.48 L295.1 59.69 L295.5 60.23 L295.9 60.76 L296.3 59.71 L296.8 60.24 L297.1 115 L297.3 115.06 L298.3 115.36 L299.3 114.87 L300.3 114.99 L301.3 115.1 L302.3 115.01 L303.3 114.82 L304.3 115.06 L305.3 115.02 L306.3 115.07 L307.3 115.17 L308.3 115.15 L309.3 115.06 L310.3 115.05 L311.3 114.84 L312.3 114.98 L313.3 115.03 L314.3 114.94 L315.3 115.01 L316.3 114.88 L317.3 115.23 L318.3 115.32 L319.3 114.94 L320.3 115.06 L321.3 114.96 L322.3 115.19 L323.3 115.07 L324.3 115.01 L325.3 114.97 L326.3 115.02 L327.3 114.85 L328.3 115.1 L329.3 114.89 L330.3 115.08 L331.3 115.02 L332.3 115.16 L333.3 115 L334.3 115.15 L335.3 114.86 L336.3 115.09 L337.3 114.97 L338.3 115.03 L339.2 115.01" fill="none" stroke="#0000ff" stroke-width="1.875" stroke-linejoin="round" stroke-linecap="butt" />
<path d="M59 114.8 L60 114.94 L61 114.5 L62 114.85 L63 114.58 L64 114.98 L65 114.5 L66 114.65 L67 114.55 L68 115.05 L69 114.61 L70 114.82 L71 114.72 L72 114.53 L73 114.75 L74 114.9 L75 114.77 L76 114.94 L77 114.75 L78 114.8 L79 114.74 L80 114.85 L81 115.08 L82 114.85 L83 114.83 L84 114.71 L85 114.69 L86 115.02 L87 114.63 L88 114.66 L89 114.79 L90 114.74 L91 115.09 L92 114.45 L93 114.85 L94 114.91 L95 114.63 L96 114.7 L97 114.86 L98 115.04 L99 114.66 L100 114.56 L100.6 114.95 L100.8 93 L101.6 90.5 L103.5 89 L104 89.36 L104.4 88.79 L104.8 88.21 L105.2 89.3 L105.6 88.79 L106 89.17 L106.4 88.81 L106.8 88.7 L107.2 88.66 L107.6 89.23 L108 89.21 L108.4 88.12 L108.8 88.47 L109.2 89.27 L109.6 88.61 L110 88.3 L110.4 88.7 L110.8 88.65 L111.2 88.65 L111.6 88.52 L112 88.56 L112.4 88.5 L112.8 88.73 L113.2 88.37 L113.6 88.51 L114 88.54 L114.4 88.97 L114.8 88.67 L115.2 88.52 L115.6 88.7 L116 88.65 L116.4 88.84 L116.8 88.65 L117.2 89.03 L117.6 88.88 L118 88.45 L118.4 88.33 L118.8 88.7 L119.2 88.58 L119.6 88.38 L120 87.96 L120.4 87.85 L120.8 88.5 L121.2 88.62 L121.6 88.63 L122 87.99 L122.4 88.69 L122.8 88.21 L123.2 88.48 L123.6 88.49 L124 88.12 L124.4 88.18 L124.8 87.73 L125.2 88.07 L125.6 87.8 L126 88.47 L126.4 88.35 L126.8 88.61 L127.2 88.43 L127.6 88.13 L128 88.42 L128.4 88.2 L128.8 88.49 L129.2 88.4 L129.6 88.01 L130 88.3 L130.4 88.31 L130.8 88.2 L131.2 88.56 L131.6 88.8 L132 88.17 L132.4 88.17 L132.8 87.6 L133.2 88.23 L133.6 88.13 L134 87.61 L134.4 88.34 L134.8 88.43 L135.2 88.03 L135.6 88.13 L136 87.95 L136.4 88.46 L136.8 87.78 L137.2 88.13 L137.6 88.81 L138 88.24 L138.4 88.36 L138.8 88.17 L139.2 87.86 L139.6 88.19 L140 88.32 L140.4 87.89 L140.8 88.29 L141.2 88.56 L141.6 88.5 L142 87.71 L142.4 87.88 L142.8 87.69 L143.2 88.49 L143.6 88.35 L144 88.37 L144.4 87.89 L144.8 87.8 L145.2 88.17 L145.6 88.17 L146 87.88 L146.4 88.18 L146.8 88.33 L147.2 88.2 L147.6 87.81 L148 87.49 L148.4 88.04 L148.8 88.16 L149.2 88.03 L149.6 87.98 L150 87.89 L150.4 88.31 L150.8 88.08 L151.2 88.12 L151.6 87.79 L152 87.89 L152.4 88.13 L152.8 87.77 L153.2 87.69 L153.6 87.97 L154 88.42 L154.4 88.11 L154.8 88.49 L155.2 88.01 L155.6 87.95 L156 87.62 L156.4 87.86 L156.8 88.46 L157.2 88.13 L157.6 88.24 L158 88.23 L158.4 88.01 L158.8 87.95 L159.2 88.04 L159.6 88.21 L160 88.14 L160.4 88.14 L160.8 88.04 L161.2 87.76 L161.6 87.91 L162 87.7 L162.4 88.28 L162.8 87.34 L163.2 87.9 L163.6 88.68 L164 87.86 L164.4 87.61 L164.8 87.95 L165.2 88.33 L165.6 87.9 L166 88.12 L166.4 87.97 L166.8 87.82 L167.2 88.87 L167.6 87.94 L168 87.76 L168.4 87.77 L168.8 88.02 L169.2 88.03 L169.6 88.13 L170 87.94 L170.4 87.46 L170.8 88.05 L171.2 87.79 L171.6 87.8 L172 87.43 L172.4 87.7 L172.8 87.65 L173.2 87.86 L173.6 87.43 L174 87.87 L174.4 87.89 L174.8 87.51 L175.2 87.66 L175.6 87.58 L176 88.11 L176.4 87.08 L176.8 87.73 L177.2 87.33 L177.6 87.69 L178 88.07 L178.4 87.62 L178.8 87.85 L179.2 87.55 L179.6 88.38 L180 88.07 L180.4 88.13 L180.8 87.39 L181.2 87.45 L181.6 88.1 L182 87.72 L182.4 87.7 L182.8 87.87 L183.2 87.39 L183.6 87.99 L184 87.76 L184.4 87.9 L184.8 87.55 L185.2 87.9 L185.6 87.53 L186 88.02 L186.4 88.07 L186.8 88 L187.2 87.88 L187.6 87.91 L188 86.9 L188.4 87.96 L188.8 87.63 L189.2 87.73 L189.6 87.61 L190 87.28 L190.4 87.53 L190.8 87.88 L191.2 88.11 L191.6 87.49 L192 87.4 L192.4 88.11 L192.8 87.4 L193.2 88.29 L193.6 87.67 L194 87.39 L194.4 87.95 L194.8 88.15 L195.2 87.21 L195.6 88.11 L196 87.55 L196.4 88.08 L196.8 87.51 L197.2 87.15 L197.6 87.77 L198 87.89 L198.4 88.24 L198.8 88.12 L199.2 87.81 L199.4 87.53 L199.8 44 L200.3 38.5 L201.2 36.6 L202.8 35.5 L203.5 35.02 L203.9 35.07 L204.3 34.86 L204.7 35.03 L205.1 34.21 L205.5 35.14 L205.9 35.04 L206.3 35.93 L206.7 35.27 L207.1 34.81 L207.5 35.15 L207.9 34.5 L208.3 34.69 L208.7 34.23 L209.1 35.36 L209.5 35.04 L209.9 34.39 L210.3 34.78 L210.7 35.15 L211.1 35 L211.5 34.96 L211.9 34.54 L212.3 34.62 L212.7 34.89 L213.1 35.18 L213.5 34.58 L213.9 34.49 L214.3 35.29 L214.7 34.57 L215.1 35.28 L215.5 35 L215.9 35.23 L216.3 35.54 L216.7 35.18 L217.1 35.21 L217.5 34.63 L217.9 34.71 L218.3 35.19 L218.7 35.51 L219.1 35.47 L219.5 35.8 L219.9 35.11 L220.3 35.08 L220.7 35.37 L221.1 35.04 L221.5 35.03 L221.9 34.69 L222.3 35.42 L222.7 34.71 L223.1 35.28 L223.5 34.62 L223.9 35.51 L224.3 34.78 L224.7 35.45 L225.1 34.61 L225.5 35.02 L225.9 35.6 L226.3 34.92 L226.7 35.24 L227.1 35.06 L227.5 34.43 L227.9 35.36 L228.3 35.42 L228.7 34.89 L229.1 35.49 L229.5 35.03 L229.9 34.97 L230.3 35.33 L230.7 35.1 L231.1 36.16 L231.5 34.82 L231.9 35.64 L232.3 35.74 L232.7 34.71 L233.1 34.81 L233.5 35.63 L233.9 35.28 L234.3 35.59 L234.7 35.87 L235.1 35.35 L235.5 35.12 L235.9 34.55 L236.3 35.59 L236.7 35.21 L237.1 35.66 L237.5 35.64 L237.9 35.09 L238.3 36.19 L238.7 35.98 L239.1 35.91 L239.5 35.21 L239.9 35.49 L240.3 35.46 L240.7 35.52 L241.1 35.28 L241.5 35.84 L241.9 35.78 L242.3 35.84 L242.7 35.55 L243.1 36.19 L243.5 35.82 L243.9 34.81 L244.3 35.55 L244.7 35.77 L245.1 36.14 L245.5 35.69 L245.9 35.71 L246.3 35.56 L246.7 36.03 L247.1 35.63 L247.5 35.58 L247.9 35.53 L248.3 35.98 L248.7 35.6 L249.1 35.2 L249.5 36 L249.9 35.53 L250.3 35.9 L250.7 35.91 L251.1 36.2 L251.5 36.14 L251.9 35.57 L252.3 35.71 L252.7 35.32 L253.1 36.35 L253.5 35.92 L253.9 36.25 L254.3 35.65 L254.7 35.04 L255.1 36.3 L255.5 35.79 L255.9 35.8 L256.3 35.77 L256.7 35.98 L257.1 35.94 L257.5 35.19 L257.9 36.13 L258.3 35.56 L258.7 35.58 L259.1 36.35 L259.5 36.06 L259.9 35.62 L260.3 35.09 L260.7 35.79 L261.1 35.92 L261.5 35.71 L261.9 35.3 L262.3 35.45 L262.7 35.29 L263.1 35.8 L263.5 36.01 L263.9 36.08 L264.3 35.47 L264.7 35.8 L265.1 35.91 L265.5 35.54 L265.9 35.66 L266.3 36.46 L266.7 35.78 L267.1 36.02 L267.5 35.56 L267.9 35.72 L268.3 35.11 L268.7 35.7 L269.1 36.12 L269.5 36.44 L269.9 36.12 L270.3 35.94 L270.7 35.73 L271.1 35.5 L271.5 35.66 L271.9 35.94 L272.3 35.45 L272.7 36.06 L273.1 35.39 L273.5 35.12 L273.9 35.39 L274.3 35.16 L274.7 35.27 L275.1 36.15 L275.5 35.69 L275.9 35.84 L276.3 36.17 L276.7 36.21 L277.1 35.6 L277.5 36.25 L277.9 35.92 L278.3 35.79 L278.7 35.95 L279.1 35.3 L279.5 35.53 L279.9 35.77 L280.3 36.03 L280.7 35.69 L281.1 35.78 L281.5 36.17 L281.9 36.32 L282.3 36.1 L282.7 36.28 L283.1 35.7 L283.5 35.74 L283.9 35.96 L284.3 35.75 L284.7 35.68 L285.1 36.44 L285.5 35.8 L285.9 35.54 L286.3 36.05 L286.7 36.53 L287.1 35.92 L287.5 36.32 L287.9 35.74 L288.3 35.73 L288.7 35.66 L289.1 35.86 L289.5 36.56 L289.9 35.51 L290.3 36.5 L290.7 35.57 L291.1 35.85 L291.5 36.23 L291.9 36.16 L292.3 36.04 L292.7 35.37 L293.1 36.08 L293.5 35.6 L293.9 36.86 L294.3 35.89 L294.7 36.04 L295.1 35.57 L295.5 35.81 L295.9 35.53 L296.3 36.33 L296.7 35.9 L297.1 36.19 L297.3 35.76 L297.7 114.8 L298 114.62 L299 114.89 L300 114.55 L301 114.43 L302 114.76 L303 114.53 L304 114.63 L305 114.84 L306 114.58 L307 114.83 L308 114.6 L309 114.92 L310 114.9 L311 114.63 L312 114.67 L313 114.58 L314 114.73 L315 114.87 L316 114.48 L317 114.84 L318 114.5 L319 114.57 L320 114.43 L321 115.02 L322 114.71 L323 114.74 L324 114.6 L325 114.86 L326 114.38 L327 114.7 L328 115.03 L329 114.64 L330 114.7 L331 114.8 L332 114.58 L333 114.7 L334 114.84 L335 114.73 L336 114.76 L337 114.65 L338 114.75 L339.2 114.71" fill="none" stroke="#bfbf00" stroke-width="1.875" stroke-linejoin="round" stroke-linecap="butt" />
<path d="M59 223.04 L60 222.82 L61 222.53 L62 221.87 L63 222.81 L64 222.83 L65 222.32 L66 222 L67 222.26 L68 222.88 L69 222.28 L70 222.46 L71 222.67 L72 222.97 L73 222.59 L74 222.57 L75 222.44 L76 223.09 L77 222.92 L78 222.57 L79 222.18 L80 222.36 L81 222.77 L82 222.38 L83 222.87 L84 222.71 L85 222.69 L86 222.8 L87 222.75 L88 222.34 L89 222.5 L90 223.3 L91 222.24 L92 222.46 L93 222.92 L94 222.55 L95 222.36 L96 222.2 L97 222.76 L98 222.91 L99 223.02 L100 222.62 L101 222.91 L102 222.29 L102.4 222.65 L103.3 180 L104 140 L104.6 133 L105 133.79 L105.25 135.62 L105.5 137.52 L105.75 139.67 L106 139.32 L106.25 143.51 L106.5 143.5 L106.75 143.7 L107 145.38 L107.25 144.81 L107.5 145.92 L107.75 145.49 L108 144.25 L108.25 144.29 L108.5 142.67 L108.75 142.17 L109 139.82 L109.25 140.54 L109.5 138.77 L109.75 138.36 L110 137.9 L110.25 137.87 L110.5 135.6 L110.75 135.36 L111 136.35 L111.25 136.83 L111.5 136.38 L111.75 136.6 L112 136.7 L112.25 135.52 L112.5 134.98 L112.75 134.42 L113 135.01 L113.25 136.01 L113.5 137.28 L113.75 137.73 L114 138 L114.25 138.38 L114.5 139.73 L114.75 139.83 L115 140.46 L115.25 141 L115.5 140.64 L115.75 140.67 L116 142.8 L116.25 143.26 L116.5 143.13 L116.75 143.46 L117 146.82 L117.25 144.17 L117.5 145.27 L117.75 146.06 L118 144.86 L118.25 146.48 L118.5 148.53 L118.75 147.91 L119 147.88 L119.25 148.12 L119.5 147.9 L119.75 149.08 L120 148.19 L120.25 148.2 L120.5 149.04 L120.75 150.17 L121 149.85 L121.25 150.43 L121.5 147.82 L121.75 151.42 L122 152.85 L122.25 152.02 L122.5 150.51 L122.75 150.17 L123 151.58 L123.25 150.47 L123.5 152.5 L123.75 151.41 L124 153.19 L124.25 153.83 L124.5 150.49 L124.75 153.16 L125 152.34 L125.25 151.82 L125.5 152.87 L125.75 153.5 L126 154.97 L126.25 152.45 L126.5 155.31 L126.75 156.48 L127 155.14 L127.25 155.25 L127.5 154.82 L127.75 153.75 L128 155.71 L128.25 155.7 L128.5 156.23 L128.75 158.31 L129 156.54 L129.25 156.38 L129.5 157.73 L129.75 154.83 L130 155.2 L130.25 156.36 L130.5 156.41 L130.75 158.18 L131 157.47 L131.25 159.98 L131.5 160.1 L131.75 159.66 L132 158.79 L132.25 160.2 L132.5 160.75 L132.75 159.13 L133 160.97 L133.25 161.69 L133.5 161.53 L133.75 163.3 L134 163.27 L134.25 161.53 L134.5 162.93 L134.75 162.32 L135 164.2 L135.25 163.08 L135.5 165.36 L135.75 165.2 L136 166.21 L136.25 165.44 L136.5 164.46 L136.75 168.24 L137 166.6 L137.25 168.63 L137.5 168.04 L137.75 168.69 L138 170.3 L138.25 169.12 L138.5 170.52 L138.75 167.78 L139 170.55 L139.25 169.67 L139.5 170.07 L139.75 170.51 L140 171.16 L140.25 172.83 L140.5 169.43 L140.75 171.71 L141 171.21 L141.25 173.47 L141.5 172.1 L141.75 173.31 L142 172.71 L142.25 174.12 L142.5 174.77 L142.75 173.58 L143 174.34 L143.25 173.09 L143.5 175.19 L143.75 176.06 L144 174.87 L144.25 176.92 L144.5 173.86 L144.75 174.38 L145 175.16 L145.25 176.39 L145.5 177.21 L145.75 177.4 L146 177.7 L146.25 178.82 L146.5 177.86 L146.75 177.32 L147 177.63 L147.25 181.44 L147.5 177.05 L147.75 179.62 L148 181.63 L148.25 180.89 L148.5 179.81 L148.75 180.97 L149 182.17 L149.25 182.82 L149.5 180.89 L149.75 182.93 L150 182.68 L150.25 183.87 L150.5 184.46 L150.75 183.01 L151 182.22 L151.25 184.53 L151.5 186.35 L151.75 185.58 L152 185.47 L152.25 188.12 L152.5 184.88 L152.75 187.3 L153 186.12 L153.25 187.14 L153.5 187.56 L153.75 189.43 L154 187.22 L154.25 188.02 L154.5 187.28 L154.75 189.8 L155 189.12 L155.25 190.35 L155.5 189.09 L155.75 190.15 L156 191.93 L156.25 190.97 L156.5 192.12 L156.75 192.33 L157 191.71 L157.25 190.76 L157.5 193.74 L157.75 193.2 L158 194.36 L158.25 191.53 L158.5 192.21 L158.75 191.98 L159 193.48 L159.25 195.66 L159.5 195.33 L159.75 194.87 L160 195.21 L160.25 196.04 L160.5 195.09 L160.75 195.99 L161 195.89 L161.25 193.62 L161.5 195.68 L161.75 197.68 L162 196 L162.25 196.44 L162.5 196.12 L162.75 196.41 L163 198.27 L163.25 196.98 L163.5 196.35 L163.75 194.33 L164 197.16 L164.25 195.87 L164.5 196.18 L164.75 199.1 L165 199.15 L165.25 196.52 L165.5 199.55 L165.75 199.27 L166 198.09 L166.25 199.81 L166.5 197.46 L166.75 198.03 L167 197.91 L167.25 198.38 L167.5 200.59 L167.75 198.4 L168 198.72 L168.25 199.05 L168.5 200.39 L168.75 199.95 L169 201.34 L169.25 199.81 L169.5 199.33 L169.75 200.29 L170 200.98 L170.25 200.09 L170.5 201.48 L170.75 203.23 L171 200.79 L171.25 201.45 L171.5 202.83 L171.75 200.74 L172 200.53 L172.25 200.28 L172.5 201.86 L172.75 201.99 L173 201.3 L173.25 201.5 L173.5 202.8 L173.75 202.38 L174 200.01 L174.25 201.48 L174.5 201.6 L174.75 202.26 L175 201.27 L175.25 200.84 L175.5 201.04 L175.75 199.66 L176 201.51 L176.25 200.92 L176.5 202.04 L176.75 200.48 L177 201.11 L177.25 200.49 L177.5 200.32 L177.75 202.09 L178 200.78 L178.25 201.65 L178.5 199.93 L178.75 201.12 L179 199.17 L179.25 200.35 L179.5 200.25 L179.75 201.3 L180 200.8 L180.25 200.34 L180.5 201.32 L180.75 200.56 L181 200.84 L181.25 201 L181.5 200.04 L181.75 199.72 L182 200.29 L182.25 199.43 L182.5 200.19 L182.75 200.86 L183 200.52 L183.25 199.13 L183.5 198.09 L183.75 199.29 L184 199.12 L184.25 200.32 L184.5 198.67 L184.75 198.76 L185 199.65 L185.25 198.29 L185.5 198.53 L185.75 200.4 L186 200.07 L186.25 199.08 L186.5 198.61 L186.75 197.22 L187 198.73 L187.25 198.11 L187.5 198.19 L187.75 197.32 L188 197.76 L188.25 197.48 L188.5 197.91 L188.75 198.99 L189 197.78 L189.25 195.57 L189.5 196.19 L189.75 195.43 L190 196.15 L190.25 197.46 L190.5 197.18 L190.75 196.02 L191 196.81 L191.25 195.63 L191.5 194.82 L191.75 194.73 L192 195.19 L192.25 197.47 L192.5 194.46 L192.75 197.06 L193 197.03 L193.25 195.34 L193.5 195.37 L193.75 194.66 L194 195.17 L194.25 195.77 L194.5 194.98 L194.75 195.9 L195 195.99 L195.25 195.02 L195.5 194.91 L195.75 194.41 L196 194.75 L196.25 193.13 L196.5 194.63 L196.75 194.33 L197 193.12 L197.25 196.19 L197.5 192.83 L197.75 192.85 L198 193.96 L198.25 191.55 L198.5 192.66 L198.75 191.8 L199 192.29 L199.25 193.08 L199.5 193.46 L199.75 194.19 L200 193.79 L200.25 194.04 L200.5 193.27 L200.75 192.01 L201 193.53 L201.25 191.7 L201.5 191.42 L201.75 193.52 L202 192.6 L202.25 191.86 L202.5 192.27 L202.75 192.25 L203 189.76 L203.25 190.94 L203.5 189.66 L203.75 190.87 L204 189.9 L204.25 191.88 L204.5 190.85 L204.75 189.31 L205 189.99 L205.25 188.6 L205.5 189.76 L205.75 190.15 L206 189.7 L206.25 187.26 L206.5 188.78 L206.75 189.52 L207 189.16 L207.25 189.99 L207.5 187.35 L207.75 189.17 L208 187.87 L208.25 188.69 L208.5 188.83 L208.75 189.06 L209 187.66 L209.25 188.39 L209.5 186.9 L209.75 186.57 L210 188.56 L210.25 187.85 L210.5 186.13 L210.75 186.87 L211 187.71 L211.25 189.25 L211.5 188.64 L211.75 188.31 L212 185.53 L212.25 187.23 L212.5 187.76 L212.75 187.6 L213 187.55 L213.25 186.8 L213.5 188.82 L213.75 188.45 L214 186.73 L214.25 185.73 L214.5 188.84 L214.75 186.03 L215 187.79 L215.25 188.48 L215.5 185.43 L215.75 186.66 L216 185.93 L216.25 186.78 L216.5 186.51 L216.75 188.16 L217 186.68 L217.25 185.99 L217.5 187.12 L217.75 185.59 L218 185.44 L218.25 188.11 L218.5 184.84 L218.75 185.13 L219 185.62 L219.25 184.41 L219.5 183.24 L219.75 186.51 L220 184.51 L220.25 184.71 L220.5 184.83 L220.75 184.13 L221 183.97 L221.25 185.21 L221.5 187.5 L221.75 185.69 L222 185.64 L222.25 183.22 L222.5 184.71 L222.75 183.44 L223 185.43 L223.25 184.32 L223.5 184.54 L223.75 184.35 L224 183.77 L224.25 182.72 L224.5 184.87 L224.75 182.75 L225 182.9 L225.25 183.79 L225.5 183.33 L225.75 184.31 L226 185.07 L226.25 184.23 L226.5 184.15 L226.75 183.93 L227 184.77 L227.25 181.9 L227.5 184.19 L227.75 182.79 L228 182.44 L228.25 183.71 L228.5 183.26 L228.75 184.25 L229 184.76 L229.25 181.13 L229.5 183.46 L229.75 185.56 L230 184.38 L230.25 184.96 L230.5 183.51 L230.75 181.86 L231 182.16 L231.25 184.05 L231.5 184.28 L231.75 182.47 L232 182.92 L232.25 183.45 L232.5 181.3 L232.75 182.74 L233 184.77 L233.25 185.33 L233.5 182.89 L233.75 184.89 L234 182.39 L234.25 182.05 L234.5 180.52 L234.75 183.84 L235 182.41 L235.25 185.23 L235.5 183.09 L235.75 182.9 L236 180.78 L236.25 184.21 L236.5 182.22 L236.75 182.4 L237 180.22 L237.25 183.48 L237.5 183.51 L237.75 181.8 L238 182.5 L238.25 182.79 L238.5 183.35 L238.75 182.42 L239 184.08 L239.25 181.99 L239.5 181.57 L239.75 181.68 L240 179.48 L240.25 181.28 L240.5 183.17 L240.75 182.38 L241 181.23 L241.25 182.45 L241.5 179.95 L241.75 181.76 L242 182.59 L242.25 182.76 L242.5 181.2 L242.75 182.96 L243 183.96 L243.25 181.53 L243.5 182.75 L243.75 180.32 L244 179.88 L244.25 182.57 L244.5 181.96 L244.75 182.12 L245 181.28 L245.25 181.57 L245.5 182.72 L245.75 183.66 L246 181.62 L246.25 180.1 L246.5 183.16 L246.75 182.44 L247 182.51 L247.25 181.97 L247.5 184.21 L247.75 181.84 L248 182.29 L248.25 179.79 L248.5 181.11 L248.75 180.99 L249 181.66 L249.25 182.05 L249.5 180.88 L249.75 183.48 L250 180.53 L250.25 181.16 L250.5 181.87 L250.75 180.29 L251 182.2 L251.25 182.25 L251.5 181.26 L251.75 183.56 L252 181.63 L252.25 181.83 L252.5 180.51 L252.75 179.75 L253 180.83 L253.25 181.15 L253.5 180.99 L253.75 182.27 L254 178.94 L254.25 180.24 L254.5 179.5 L254.75 182.82 L255 180.8 L255.25 180.84 L255.5 180.21 L255.75 182.3 L256 180.91 L256.25 181.57 L256.5 179.18 L256.75 182.54 L257 181.71 L257.25 181.86 L257.5 182.57 L257.75 181.06 L258 181.07 L258.25 181.99 L258.5 181.67 L258.75 180.95 L259 181.24 L259.25 180.66 L259.5 181.92 L259.75 182.14 L260 181.15 L260.25 183.12 L260.5 179.52 L260.75 180.88 L261 182.92 L261.25 180.67 L261.5 179.42 L261.75 182.56 L262 181.66 L262.25 179.83 L262.5 181.89 L262.75 179.99 L263 179.65 L263.25 180.89 L263.5 180.54 L263.75 179.88 L264 180.65 L264.25 179.97 L264.5 181.08 L264.75 180.98 L265 181.78 L265.25 180.51 L265.5 179.58 L265.75 179.59 L266 180.71 L266.25 182.58 L266.5 181.85 L266.75 180.27 L267 181.93 L267.25 179.71 L267.5 181.99 L267.75 180.51 L268 181.72 L268.25 181.56 L268.5 180.6 L268.75 181.23 L269 179.76 L269.25 180.8 L269.5 182.01 L269.75 185.17 L270 181.59 L270.25 180.94 L270.5 179.77 L270.75 181.94 L271 179.08 L271.25 179.97 L271.5 181.18 L271.75 179.53 L272 182.41 L272.25 181.93 L272.5 180.18 L272.75 180.18 L273 179.37 L273.25 179.28 L273.5 181.21 L273.75 181.4 L274 181.1 L274.25 181 L274.5 180.13 L274.75 181.09 L275 179.15 L275.25 180.7 L275.5 182.24 L275.75 182.07 L276 180.18 L276.25 180.31 L276.5 182.11 L276.75 182.53 L277 179.06 L277.25 180.18 L277.5 180.87 L277.75 181.9 L278 179.73 L278.25 181.28 L278.5 180.28 L278.75 183.09 L279 181.04 L279.25 180.43 L279.5 180.21 L279.75 181.67 L280 181.27 L280.25 179.4 L280.5 180.77 L280.75 179.12 L281 179.73 L281.25 179.15 L281.5 179.11 L281.75 179.78 L282 179.46 L282.25 181.05 L282.5 181.32 L282.75 180.22 L283 179.29 L283.25 181.31 L283.5 178.32 L283.75 178.41 L284 181.21 L284.25 181.13 L284.5 181.45 L284.75 180.19 L285 179.08 L285.25 179.87 L285.5 181 L285.75 179.58 L286 179.64 L286.25 178.91 L286.5 179.14 L286.75 181.25 L287 180.84 L287.25 179.12 L287.5 179.2 L287.75 179.74 L288 180.91 L288.25 179.09 L288.5 180.14 L288.75 178.05 L289 178.97 L289.25 180.74 L289.5 181.23 L289.75 179.06 L290 179.46 L290.25 181.11 L290.5 179.85 L290.75 179.68 L291 180.79 L291.25 180.44 L291.5 181.4 L291.75 181.06 L292 179.61 L292.25 180.08 L292.5 180.14 L292.75 178.77 L293 179.16 L293.25 181.21 L293.5 178.5 L293.75 181.22 L294 180.46 L294.25 180.01 L294.5 180.71 L294.75 180.64 L295 181.41 L295.25 179.7 L295.5 179.88 L295.75 179.85 L296 182.09 L296.25 181.1 L296.5 179.12 L296.75 179.73 L297 179.33 L297.25 180.09 L297.5 180.29 L297.75 182.47 L298 179.25 L298.3 183.33 L298.7 185.51 L299.1 187.66 L299.5 190.58 L299.9 193.09 L300.3 195.35 L300.7 197.59 L301.1 198.25 L301.5 201.33 L301.9 202.36 L302.3 204.51 L302.7 205.15 L303.1 206.66 L303.5 207.49 L303.9 208.86 L304.3 209.53 L304.7 210.26 L305.1 211.99 L305.5 212.8 L305.9 214.23 L306.3 213.18 L306.7 214.79 L307.1 216.16 L307.5 215.92 L307.9 217.18 L308.3 218.8 L308.7 218.96 L309.1 218.41 L309.5 219.93 L309.9 220.3 L310.3 220.6 L310.7 220.9 L311.1 221.31 L311.5 221.29 L311.9 221.93 L312.3 222.65 L312.7 222.44 L313.1 223.26 L313.5 222.32 L313.9 221.44 L314.3 222.42 L314.7 222.75 L315.1 222.85 L315.5 222.75 L315.9 222.4 L316.3 223.46 L316.7 222.49 L317.1 223.11 L317.5 222.66 L317.9 222.25 L318.3 223.42 L318.7 221.66 L319.1 222.4 L319.5 222.98 L319.9 222.63 L320.3 223.13 L320.7 222.74 L321.1 222.58 L321.5 223.76 L321.9 222.69 L322.3 222.72 L322.7 222.3 L323.1 222.45 L323.5 223.08 L323.9 223.04 L324.3 222.79 L324.7 222.47 L325.1 223.1 L325.5 222.02 L325.9 222.64 L326.3 222.68 L326.7 222.41 L327.1 222.86 L327.5 222.49 L327.9 222.43 L328.3 223.6 L328.7 223.13 L329.1 223.33 L329.5 222.82 L329.9 223.23 L330.3 223.15 L330.7 223.34 L331.1 223.86 L331.5 222.69 L331.9 222.91 L332.3 222.77 L332.7 221.21 L333.1 222.17 L333.5 222.8 L333.9 223.08 L334.3 222.54 L334.7 223.31 L335.1 223.37 L335.5 222.61 L335.9 223.44 L336.3 223.59 L336.7 223.01 L337.1 222.36 L337.5 223.46 L337.9 222.72 L338.3 222.63 L338.7 222.85 L339.2 222.56" fill="none" stroke="#008000" stroke-width="1.875" stroke-linejoin="round" stroke-linecap="butt" />
<path d="M59 221.87 L59.7 221.77 L60.4 221.93 L61.1 221.7 L61.8 221.22 L62.5 221.44 L63.2 221.81 L63.9 221.36 L64.6 222.52 L65.3 221.42 L66 221.29 L66.7 221.9 L67.4 221.76 L68.1 221.49 L68.8 221.42 L69.5 221.65 L70.2 221.79 L70.9 221.77 L71.6 221.39 L72.3 221.65 L73 221.8 L73.7 221.77 L74.4 220.42 L75.1 221.19 L75.8 221.23 L76.5 221.42 L77.2 221.56 L77.9 221.82 L78.6 221.72 L79.3 221.46 L80 221.51 L80.7 222.12 L81.4 221.29 L82.1 221.61 L82.8 222.05 L83.5 221.62 L84.2 220.78 L84.9 221.63 L85.6 221.36 L86.3 221.46 L87 221.87 L87.7 221.66 L88.4 221.41 L89.1 221.81 L89.8 221.65 L90.5 221.54 L91.2 221.61 L91.9 221.59 L92.6 221.38 L93.3 221.34 L94 221.51 L94.7 221.17 L95.4 221.06 L96.1 221.96 L96.8 221.42 L97.5 221.49 L98.2 221.45 L98.9 221.51 L99.6 221.51 L100.3 221.52 L101 221.22 L101.8 221.83 L102 218.81 L102.2 219.03 L102.4 213.63 L102.6 212.57 L102.8 212.72 L103 209.04 L103.2 206.09 L103.4 205.17 L103.6 201.29 L103.8 200.45 L104 195.52 L104.2 195.46 L104.4 194.12 L104.6 194.45 L104.8 193.75 L105 190.57 L105.2 192.43 L105.4 188.79 L105.6 186.03 L105.8 184.64 L106 188.35 L106.2 185.39 L106.4 183.72 L106.6 182.87 L106.8 181.99 L107 184.46 L107.2 182.27 L107.4 184.05 L107.6 181.19 L107.8 178.15 L108 181.51 L108.2 179.59 L108.4 179.39 L108.6 181.3 L108.8 178.85 L109 180.3 L109.2 178.65 L109.4 177.5 L109.6 178.75 L109.8 177.17 L110 179.11 L110.2 178.53 L110.4 177.2 L110.6 177.67 L110.8 177.48 L111 176.34 L111.2 177.62 L111.4 176.14 L111.6 177.02 L111.8 175.01 L112 176.14 L112.2 176.39 L112.4 174.81 L112.6 175.13 L112.8 174.86 L113 176.24 L113.2 174.37 L113.4 175.63 L113.6 176.87 L113.8 175.4 L114 172.97 L114.2 174.99 L114.4 176.02 L114.6 174.36 L114.8 175.97 L115 175.32 L115.2 175.01 L115.4 174.13 L115.6 173.76 L115.8 174 L116 174.32 L116.2 174.8 L116.4 174.62 L116.6 173.68 L116.8 174.06 L117 174.38 L117.2 171.93 L117.4 172.93 L117.6 172.86 L117.8 173.55 L118 173.43 L118.2 173.42 L118.4 172.66 L118.6 174.48 L118.8 173.98 L119 171.64 L119.2 173.6 L119.4 172.2 L119.6 175.56 L119.8 172.95 L120 172.99 L120.2 173.53 L120.4 173.16 L120.6 173.3 L120.8 175.2 L121 173.58 L121.2 174.28 L121.4 174.6 L121.6 172.05 L121.8 175.25 L122 174.06 L122.2 174.39 L122.4 172.21 L122.6 174.23 L122.8 173.75 L123 172.62 L123.2 176.01 L123.4 173.95 L123.6 172.99 L123.8 173.52 L124 174.39 L124.2 174.66 L124.4 174 L124.6 174.77 L124.8 175.08 L125 171.84 L125.2 172.78 L125.4 172.28 L125.6 173.57 L125.8 175.22 L126 174.32 L126.2 172.32 L126.4 173.26 L126.6 174.89 L126.8 173.06 L127 173.62 L127.2 174.15 L127.4 171.64 L127.6 174.8 L127.8 174.32 L128 174.63 L128.2 172.82 L128.4 173.11 L128.6 173.36 L128.8 174.42 L129 174.24 L129.2 174.35 L129.4 176.39 L129.6 175.85 L129.8 173.46 L130 173.6 L130.2 176.5 L130.4 174.13 L130.6 176.22 L130.8 176.55 L131 174.04 L131.2 174.43 L131.4 174.91 L131.6 173.84 L131.8 173.76 L132 174.51 L132.2 176.08 L132.4 174.58 L132.6 174.93 L132.8 174.68 L133 173.66 L133.2 177.14 L133.4 172.61 L133.6 174.7 L133.8 176.21 L134 173.93 L134.2 176.39 L134.4 177.23 L134.6 174.76 L134.8 176.1 L135 174.58 L135.2 176.58 L135.4 176.14 L135.6 176.35 L135.8 177.79 L136 176.78 L136.2 177.89 L136.4 177.1 L136.6 174.96 L136.8 176.77 L137 177.11 L137.2 174.84 L137.4 178.24 L137.6 176.78 L137.8 177.2 L138 175.75 L138.2 176.96 L138.4 177.29 L138.6 176.59 L138.8 177.13 L139 174.55 L139.2 178.78 L139.4 175.86 L139.6 174.63 L139.8 176.15 L140 176.36 L140.2 178.07 L140.4 176.37 L140.6 177.86 L140.8 176.42 L141 180.28 L141.2 178.34 L141.4 180.08 L141.6 176.57 L141.8 178.64 L142 176.75 L142.2 178.64 L142.4 178.82 L142.6 176.14 L142.8 176.74 L143 176.76 L143.2 176.41 L143.4 177.39 L143.6 177.17 L143.8 176.64 L144 178.55 L144.2 179.14 L144.4 176.96 L144.6 177.92 L144.8 178.65 L145 178.42 L145.2 177.91 L145.4 179.77 L145.6 179.87 L145.8 179.72 L146 178.71 L146.2 181.4 L146.4 181.14 L146.6 178.6 L146.8 178.97 L147 180.58 L147.2 178.22 L147.4 179.7 L147.6 179.31 L147.8 178.44 L148 179.04 L148.2 177.47 L148.4 178.74 L148.6 177.03 L148.8 182.19 L149 181.3 L149.2 181 L149.4 179.92 L149.6 180.79 L149.8 181.15 L150 180.88 L150.2 180.79 L150.4 178.63 L150.6 180.27 L150.8 179.15 L151 178.41 L151.2 178.49 L151.4 180.41 L151.6 181.19 L151.8 178.32 L152 182.09 L152.2 181.79 L152.4 179.61 L152.6 179.54 L152.8 180.04 L153 181.34 L153.2 179.74 L153.4 178.9 L153.6 180.68 L153.8 177.82 L154 180.5 L154.2 181.76 L154.4 180.77 L154.6 181.37 L154.8 181.06 L155 181.37 L155.2 180.71 L155.4 179.57 L155.6 180.32 L155.8 180.54 L156 182.17 L156.2 182.64 L156.4 181.22 L156.6 179.85 L156.8 179.91 L157 180.59 L157.2 182.51 L157.4 181.28 L157.6 180.84 L157.8 180.02 L158 182.03 L158.2 181.35 L158.4 180.97 L158.6 181.19 L158.8 183.12 L159 180.93 L159.2 183.18 L159.4 182.68 L159.6 181.28 L159.8 182.31 L160 181.13 L160.2 180.32 L160.4 181.02 L160.6 180.29 L160.8 182.02 L161 181.46 L161.2 182.15 L161.4 182.49 L161.6 177.79 L161.8 181.94 L162 179.43 L162.2 181.82 L162.4 180.6 L162.6 181.81 L162.8 183.36 L163 179.7 L163.2 182.01 L163.4 181.72 L163.6 179.57 L163.8 182.65 L164 181.95 L164.2 181.33 L164.4 181.1 L164.6 185.86 L164.8 181.55 L165 179.88 L165.2 180.94 L165.4 181.64 L165.6 181.63 L165.8 182.02 L166 180.88 L166.2 182.8 L166.4 181.59 L166.6 180.56 L166.8 181.23 L167 181.77 L167.2 183.27 L167.4 182.85 L167.6 181.88 L167.8 182.33 L168 182.59 L168.2 184.79 L168.4 181.62 L168.6 182.95 L168.8 183.28 L169 181.28 L169.2 182.67 L169.4 182.66 L169.6 181.92 L169.8 183.18 L170 183.75 L170.2 183.89 L170.4 182.33 L170.6 182.8 L170.8 185.42 L171 181.29 L171.2 182.9 L171.4 183.72 L171.6 182.85 L171.8 183.48 L172 182.92 L172.2 183.64 L172.4 184.29 L172.6 182.5 L172.8 183.03 L173 182.74 L173.2 182.34 L173.4 182.82 L173.6 181.51 L173.8 183.78 L174 184.95 L174.2 184.97 L174.4 184.47 L174.6 181.8 L174.8 184.8 L175 182.14 L175.2 182.97 L175.4 185.28 L175.6 181.8 L175.8 184.13 L176 183.49 L176.2 183 L176.4 182.16 L176.6 183.75 L176.8 182.71 L177 184.55 L177.2 184.8 L177.4 181.7 L177.6 182.78 L177.8 183.04 L178 182.03 L178.2 182.14 L178.4 183.62 L178.6 183.29 L178.8 181.59 L179 182.95 L179.2 184.25 L179.4 182.21 L179.6 182.58 L179.8 185.63 L180 185.33 L180.2 181.83 L180.4 182.19 L180.6 184.29 L180.8 182.44 L181 183.6 L181.2 183.39 L181.4 184.63 L181.6 180.96 L181.8 181.38 L182 182.58 L182.2 185.3 L182.4 183.92 L182.6 182.09 L182.8 184.76 L183 185.05 L183.2 183.93 L183.4 183.86 L183.6 184.82 L183.8 185.77 L184 184.53 L184.2 185.02 L184.4 184.35 L184.6 183.98 L184.8 183.37 L185 184.81 L185.2 184.15 L185.4 184.24 L185.6 185.66 L185.8 185.14 L186 185.61 L186.2 182.69 L186.4 185.27 L186.6 183.9 L186.8 183.66 L187 183.62 L187.2 186.11 L187.4 185.66 L187.6 183.82 L187.8 183.33 L188 184.73 L188.2 184.17 L188.4 186.73 L188.6 183 L188.8 182.57 L189 184.47 L189.2 184.81 L189.4 184.97 L189.6 185.73 L189.8 187.32 L190 184.44 L190.2 184.21 L190.4 182.77 L190.6 185.18 L190.8 185.93 L191 184.61 L191.2 186.35 L191.4 184.98 L191.6 186.78 L191.8 185.38 L192 183.72 L192.2 184.24 L192.4 183.18 L192.6 182.95 L192.8 185.37 L193 186.1 L193.2 187.42 L193.4 185.02 L193.6 184.82 L193.8 183.79 L194 186.31 L194.2 185.61 L194.4 184.44 L194.6 186 L194.8 185.86 L195 182.96 L195.2 186.08 L195.4 185.33 L195.6 184.68 L195.8 184.64 L196 187.22 L196.2 186.95 L196.4 187.28 L196.6 183.69 L196.8 184.27 L197 186.13 L197.2 183.57 L197.4 184.14 L197.6 182.83 L197.8 187.2 L198 186.24 L198.2 185.49 L198.4 185.19 L198.6 184.41 L198.8 184.42 L199 185.62 L199.2 184.01 L199.4 186.32 L199.6 184.24 L199.8 183.77 L200 186.36 L200.2 184.61 L200.4 185.43 L200.6 184.25 L200.8 182.04 L201 185.38 L201.2 183.09 L201.4 185.99 L201.6 182.81 L201.8 182.42 L202 185.01 L202.2 185.13 L202.4 184.74 L202.6 183.14 L202.8 185.64 L203 182.8 L203.2 183.99 L203.4 183.58 L203.6 184.06 L203.8 185.52 L204 183.72 L204.2 185.14 L204.4 185.28 L204.6 182.38 L204.8 183.02 L205 183.94 L205.2 183.67 L205.4 184.74 L205.6 182.03 L205.8 185.2 L206 185.21 L206.2 184.1 L206.4 182.63 L206.6 184.28 L206.8 183.61 L207 184.92 L207.2 184.12 L207.4 185.08 L207.6 183.67 L207.8 185.91 L208 181.39 L208.2 182.92 L208.4 184.72 L208.6 182.3 L208.8 184.98 L209 182.62 L209.2 184.18 L209.4 182.95 L209.6 183.5 L209.8 184.23 L210 183.87 L210.2 183.54 L210.4 186.57 L210.6 183.99 L210.8 182.81 L211 185.08 L211.2 184.94 L211.4 185.42 L211.6 186.09 L211.8 182.81 L212 185.2 L212.2 185.29 L212.4 183.92 L212.6 184.21 L212.8 180.3 L213 183.21 L213.2 186.04 L213.4 181.74 L213.6 183.24 L213.8 184.22 L214 184.56 L214.2 185.82 L214.4 181.74 L214.6 183.9 L214.8 184.87 L215 182.26 L215.2 183.78 L215.4 186.08 L215.6 185.39 L215.8 184.45 L216 180.66 L216.2 183.64 L216.4 184.25 L216.6 183.41 L216.8 183.69 L217 187.47 L217.2 183.5 L217.4 182.59 L217.6 184.04 L217.8 183.36 L218 183.36 L218.2 183.62 L218.4 184.65 L218.6 184 L218.8 182.26 L219 183.54 L219.2 184.26 L219.4 183.13 L219.6 185.06 L219.8 184.61 L220 182.48 L220.2 184.04 L220.4 186.03 L220.6 185.52 L220.8 183.57 L221 184.71 L221.2 182.82 L221.4 181.88 L221.6 184.28 L221.8 183.9 L222 184.22 L222.2 183.56 L222.4 183.98 L222.6 182.96 L222.8 184.14 L223 184.57 L223.2 183.49 L223.4 184.53 L223.6 181.42 L223.8 182.6 L224 185.27 L224.2 185.64 L224.4 183.82 L224.6 183.39 L224.8 181.99 L225 183.94 L225.2 184.43 L225.4 181.72 L225.6 184.17 L225.8 184.09 L226 184.03 L226.2 182.15 L226.4 184.15 L226.6 181.7 L226.8 185.29 L227 183.66 L227.2 182.1 L227.4 185.11 L227.6 184.88 L227.8 182.72 L228 186.14 L228.2 182.3 L228.4 183.88 L228.6 184.92 L228.8 180.78 L229 184.7 L229.2 183.42 L229.4 183.48 L229.6 182.21 L229.8 183.9 L230 182.17 L230.2 182.34 L230.4 182.96 L230.6 182.03 L230.8 185.39 L231 181.91 L231.2 182.59 L231.4 183.12 L231.6 183.5 L231.8 184.45 L232 184.48 L232.2 183.14 L232.4 183.04 L232.6 183.54 L232.8 184.49 L233 184.34 L233.2 182.88 L233.4 181.03 L233.6 186.07 L233.8 184.64 L234 183.82 L234.2 183.91 L234.4 182.87 L234.6 182.3 L234.8 183.1 L235 183.23 L235.2 182.75 L235.4 181.75 L235.6 183.12 L235.8 184.19 L236 182.91 L236.2 183.53 L236.4 181.02 L236.6 183.25 L236.8 183.35 L237 182.03 L237.2 181.42 L237.4 183.99 L237.6 182.53 L237.8 184.09 L238 183 L238.2 184.25 L238.4 183.09 L238.6 181.69 L238.8 183.4 L239 183.11 L239.2 184.29 L239.4 182.96 L239.6 183.03 L239.8 184.53 L240 184.9 L240.2 184.41 L240.4 184.74 L240.6 184.04 L240.8 184.42 L241 184.55 L241.2 183.98 L241.4 183.57 L241.6 183.66 L241.8 186.37 L242 183.5 L242.2 183.2 L242.4 183.05 L242.6 183.44 L242.8 183.77 L243 182.12 L243.2 181.1 L243.4 183.83 L243.6 181.55 L243.8 183.79 L244 183.64 L244.2 184.86 L244.4 185.47 L244.6 183.91 L244.8 182.8 L245 182.06 L245.2 182.52 L245.4 183.51 L245.6 180.98 L245.8 183.55 L246 183.45 L246.2 184.23 L246.4 183.06 L246.6 183.58 L246.8 182.57 L247 182.9 L247.2 181.32 L247.4 183.6 L247.6 185.31 L247.8 183.64 L248 183.89 L248.2 182.27 L248.4 185.16 L248.6 182.52 L248.8 184.4 L249 183.57 L249.2 182.29 L249.4 184.67 L249.6 183.45 L249.8 183.65 L250 183.98 L250.2 183.41 L250.4 182.98 L250.6 183.99 L250.8 182.94 L251 183.51 L251.2 182.62 L251.4 181.64 L251.6 182.61 L251.8 182.83 L252 183.44 L252.2 184.84 L252.4 181.39 L252.6 183.57 L252.8 180.76 L253 182.16 L253.2 182.8 L253.4 180.71 L253.6 181.18 L253.8 183.59 L254 183.5 L254.2 183.27 L254.4 182.44 L254.6 185.99 L254.8 183.21 L255 182.37 L255.2 185.42 L255.4 184.15 L255.6 182.97 L255.8 184.86 L256 183.62 L256.2 184.21 L256.4 183.73 L256.6 182.22 L256.8 184.63 L257 183.66 L257.2 182.26 L257.4 182.56 L257.6 184.63 L257.8 183.05 L258 183.56 L258.2 184.29 L258.4 183.67 L258.6 181.69 L258.8 184.29 L259 184.66 L259.2 184.58 L259.4 185.49 L259.6 183.99 L259.8 184.49 L260 185.47 L260.2 183.22 L260.4 185.66 L260.6 185.67 L260.8 184.53 L261 185.81 L261.2 184.84 L261.4 182.97 L261.6 185.6 L261.8 184.85 L262 185.16 L262.2 185.07 L262.4 186.72 L262.6 185.97 L262.8 184.69 L263 186.32 L263.2 186.82 L263.4 185.29 L263.6 185.85 L263.8 186.13 L264 186.07 L264.2 187.23 L264.4 188.04 L264.6 189.1 L264.8 188.27 L265 188.08 L265.2 188.23 L265.4 188.47 L265.6 186.43 L265.8 187.72 L266 187.29 L266.2 186.75 L266.4 186.37 L266.6 186.32 L266.8 186.62 L267 185.47 L267.2 187.59 L267.4 186.94 L267.6 187.11 L267.8 187.4 L268 187.87 L268.2 186.3 L268.4 186.89 L268.6 185.1 L268.8 184.38 L269 184.72 L269.2 188.9 L269.4 184.88 L269.6 187.65 L269.8 188.86 L270 186.55 L270.2 189.07 L270.4 189.34 L270.6 188.26 L270.8 189.99 L271 187.9 L271.2 186.29 L271.4 187.8 L271.6 186.65 L271.8 185.63 L272 185.67 L272.2 189.99 L272.4 186.58 L272.6 187.21 L272.8 186.45 L273 187.42 L273.2 186.98 L273.4 186.79 L273.6 185.84 L273.8 185.61 L274 186.42 L274.2 187.68 L274.4 189.83 L274.6 188.61 L274.8 189.54 L275 187.95 L275.2 187.27 L275.4 185.8 L275.6 187.4 L275.8 184.84 L276 187.06 L276.2 189.38 L276.4 187.84 L276.6 188.81 L276.8 187 L277 185.82 L277.2 186.91 L277.4 187.02 L277.6 188.95 L277.8 189.89 L278 186.64 L278.2 187.11 L278.4 187.37 L278.6 187.14 L278.8 186.08 L279 187.69 L279.2 188.02 L279.4 188.06 L279.6 186.16 L279.8 187.48 L280 185.54 L280.2 188.74 L280.4 186.42 L280.6 187.33 L280.8 187.13 L281 186.97 L281.2 186.41 L281.4 185.57 L281.6 189.78 L281.8 188.01 L282 188.03 L282.2 190.24 L282.4 187.61 L282.6 188.4 L282.8 187.77 L283 189.18 L283.2 188.37 L283.4 188.15 L283.6 187.47 L283.8 188.13 L284 189.19 L284.2 185.31 L284.4 187.66 L284.6 187.32 L284.8 187.47 L285 185.47 L285.2 188.72 L285.4 186.84 L285.6 187.59 L285.8 187.27 L286 185.88 L286.2 187.35 L286.4 185.68 L286.6 186.77 L286.8 187.53 L287 187.91 L287.2 187.99 L287.4 187.77 L287.6 190.51 L287.8 188.47 L288 186.49 L288.2 187.23 L288.4 187.19 L288.6 187.77 L288.8 187.27 L289 186.97 L289.2 189.99 L289.4 188.07 L289.6 187.62 L289.8 187.73 L290 187.78 L290.2 189.72 L290.4 188.63 L290.6 189.41 L290.8 184.33 L291 188.47 L291.2 189.36 L291.4 190.47 L291.6 188.14 L291.8 186.05 L292 188.83 L292.2 187.41 L292.4 185.99 L292.6 187.4 L292.8 189.42 L293 189.6 L293.2 189.04 L293.4 186.92 L293.6 191.21 L293.8 186.79 L294 188.11 L294.2 186.48 L294.4 189.8 L294.6 188.76 L294.8 189.3 L295 188.35 L295.2 188.17 L295.4 188.47 L295.6 186 L295.8 189.47 L296 189.38 L296.2 187.82 L296.4 188.29 L296.6 188.67 L296.8 190.2 L297 188.85 L297.2 188.39 L297.4 187.73 L297.6 186.76 L297.8 188.27 L298 189.5 L298.3 189.87 L298.65 192.68 L299 195.68 L299.35 197.49 L299.7 198.55 L300.05 199.94 L300.4 200.82 L300.75 201.85 L301.1 203.32 L301.45 203.16 L301.8 206.03 L302.15 205.39 L302.5 207.54 L302.85 207.93 L303.2 209.47 L303.55 209.7 L303.9 210 L304.25 212.09 L304.6 212.43 L304.95 213.27 L305.3 213.68 L305.65 214.58 L306 214.82 L306.35 214.82 L306.7 214.1 L307.05 215.14 L307.4 215.79 L307.75 217.16 L308.1 216.66 L308.45 216.73 L308.8 217.85 L309.15 217.41 L309.5 217.82 L309.85 218.28 L310.2 217.58 L310.55 219.32 L310.9 219.27 L311.25 219.11 L311.6 218.86 L311.95 219.94 L312.3 220.92 L312.65 219.96 L313 219.97 L313.35 221.1 L313.7 219.98 L314.05 219.69 L314.4 220.85 L314.75 220.79 L315.1 221.13 L315.45 221.05 L315.8 221.67 L316.15 221.43 L316.5 221.29 L316.85 221.47 L317.2 222.21 L317.55 222.49 L317.9 222.55 L318.25 222.45 L318.6 220.06 L318.95 221.43 L319.3 221.85 L319.65 222.16 L320 221.06 L320.35 222.89 L320.7 222.22 L321.05 221.66 L321.4 222.13 L321.75 221.83 L322.1 221.58 L322.45 222.34 L322.8 221.76 L323.15 221.19 L323.5 221.66 L323.85 221.97 L324.2 221.39 L324.55 222.79 L324.9 221.38 L325.25 223.09 L325.6 222.57 L325.95 221.47 L326.3 222.12 L326.65 222.75 L327 221.92 L327.35 221.32 L327.7 222.11 L328.05 223.23 L328.4 221.14 L328.75 222.37 L329.1 222.04 L329.45 221.97 L329.8 221.81 L330.15 221.85 L330.5 222.66 L330.85 222.4 L331.2 221.44 L331.55 222.98 L331.9 221.26 L332.25 222.44 L332.6 222.15 L332.95 222.76 L333.3 222.26 L333.65 222.68 L334 222.03 L334.35 222.63 L334.7 222.25 L335.05 223.33 L335.4 221.63 L335.75 222.76 L336.1 222.32 L336.45 222.15 L336.8 221.7 L337.15 222.31 L337.5 221.16 L337.85 221.22 L338.2 222.47 L338.55 221.11 L338.9 222.91 L339.2 221.88" fill="none" stroke="#0000ff" stroke-width="1.875" stroke-linejoin="round" stroke-linecap="butt" />
<path d="M59 222.6 L59.5 222.54 L60 222.65 L60.5 222.44 L61 222.41 L61.5 222.48 L62 222.84 L62.5 222.86 L63 222.9 L63.5 222.63 L64 222.46 L64.5 222.02 L65 222.72 L65.5 222.77 L66 222.4 L66.5 222.76 L67 222.91 L67.5 222.55 L68 222.84 L68.5 222.62 L69 222 L69.5 222.38 L70 222.4 L70.5 222.68 L71 222.26 L71.5 222.39 L72 222.23 L72.5 222.51 L73 222.54 L73.5 222.82 L74 222.76 L74.5 222.57 L75 222.6 L75.5 222.56 L76 222.56 L76.5 222.99 L77 221.78 L77.5 222.47 L78 222.62 L78.5 222.86 L79 222.19 L79.5 222.63 L80 222.78 L80.5 222.39 L81 221.95 L81.5 222.42 L82 222.16 L82.5 222.72 L83 222.27 L83.5 223.06 L84 222.57 L84.5 222.28 L85 222.37 L85.5 222.2 L86 222.64 L86.5 222.97 L87 222.46 L87.5 222.8 L88 222.24 L88.5 222.62 L89 223.21 L89.5 222.1 L90 222.89 L90.5 222.88 L91 221.96 L91.5 222.09 L92 222.23 L92.5 222.81 L93 222.39 L93.5 222.47 L94 222.74 L94.5 222.56 L95 222.59 L95.5 222.43 L96 222.86 L96.5 222.29 L97 223.03 L97.5 222.42 L98 222.28 L98.5 222.72 L99 222.66 L99.5 221.93 L100 222.59 L100.5 222.12 L101 222.27 L101.5 222.76 L102 222.26 L102.6 222.63 L103 220.74 L103.25 221.77 L103.5 219.04 L103.75 217.01 L104 215.96 L104.25 215.01 L104.5 215.22 L104.75 214.55 L105 214.81 L105.25 213.56 L105.5 212.97 L105.75 212.88 L106 212.25 L106.25 212.36 L106.5 212.52 L106.75 212.27 L107 210.89 L107.25 209.6 L107.5 210.31 L107.75 211.16 L108 208.73 L108.25 210.37 L108.5 211.08 L108.75 210.14 L109 209.6 L109.25 211.96 L109.5 211.57 L109.75 210.1 L110 211.37 L110.25 211.28 L110.5 209.14 L110.75 212.3 L111 209.15 L111.25 209.65 L111.5 208.87 L111.75 209.79 L112 208.53 L112.25 209.63 L112.5 210.55 L112.75 209.8 L113 209.39 L113.25 210.92 L113.5 208.83 L113.75 210.41 L114 209.32 L114.25 209.75 L114.5 209.59 L114.75 209.66 L115 209.5 L115.25 208.87 L115.5 209.04 L115.75 209.89 L116 209.42 L116.25 208.51 L116.5 208.89 L116.75 208.89 L117 209.43 L117.25 209.62 L117.5 209.53 L117.75 208.89 L118 209.45 L118.25 208.26 L118.5 206.97 L118.75 209.36 L119 208 L119.25 208.59 L119.5 208.36 L119.75 209.91 L120 208.34 L120.25 209.59 L120.5 208.93 L120.75 208.29 L121 207.99 L121.25 209.71 L121.5 209.64 L121.75 209.96 L122 210.85 L122.25 209.51 L122.5 209.51 L122.75 209.16 L123 209.34 L123.25 208.95 L123.5 208.47 L123.75 210.92 L124 207.63 L124.25 209.42 L124.5 209.57 L124.75 209.32 L125 208.36 L125.25 209.01 L125.5 208.77 L125.75 208.24 L126 209.1 L126.25 208.79 L126.5 208.65 L126.75 209.7 L127 208.21 L127.25 209.47 L127.5 208.57 L127.75 209.44 L128 209.13 L128.25 209.26 L128.5 208.22 L128.75 208.38 L129 208.31 L129.25 209.17 L129.5 209.65 L129.75 209.92 L130 208.57 L130.25 209.07 L130.5 207.62 L130.75 207.1 L131 208.25 L131.25 208.41 L131.5 207.66 L131.75 207.46 L132 209.42 L132.25 208.28 L132.5 207.53 L132.75 210.92 L133 209.1 L133.25 208.68 L133.5 209.52 L133.75 208.29 L134 210.28 L134.25 207.62 L134.5 207.82 L134.75 208.8 L135 208.27 L135.25 210.11 L135.5 207.55 L135.75 208.28 L136 209.1 L136.25 209.37 L136.5 209.74 L136.75 209.18 L137 210.75 L137.25 208.48 L137.5 209.02 L137.75 209.6 L138 208.6 L138.25 208.61 L138.5 208.47 L138.75 208.31 L139 207.89 L139.25 208.38 L139.5 207.53 L139.75 209.16 L140 207.49 L140.25 210.58 L140.5 210.27 L140.75 209.76 L141 208.64 L141.25 208.32 L141.5 209.85 L141.75 208.96 L142 209.28 L142.25 208.19 L142.5 209.7 L142.75 208.11 L143 208.88 L143.25 207.32 L143.5 208.23 L143.75 209.2 L144 208.39 L144.25 208.39 L144.5 209.43 L144.75 208.7 L145 209.81 L145.25 206.71 L145.5 209.23 L145.75 209.18 L146 207.44 L146.25 207.64 L146.5 209.48 L146.75 207.83 L147 208.19 L147.25 209.23 L147.5 208.44 L147.75 209.12 L148 207.98 L148.25 208.96 L148.5 209.63 L148.75 208.98 L149 206.84 L149.25 209.25 L149.5 208.74 L149.75 207.92 L150 209.87 L150.25 207.21 L150.5 210.27 L150.75 208.14 L151 210.01 L151.25 208.63 L151.5 207.54 L151.75 208.74 L152 208.94 L152.25 209.12 L152.5 209.55 L152.75 207.89 L153 209.06 L153.25 209.27 L153.5 208.41 L153.75 207.84 L154 207.82 L154.25 209.26 L154.5 209.3 L154.75 207.92 L155 207.49 L155.25 209.67 L155.5 207.3 L155.75 208.74 L156 207.92 L156.25 207.12 L156.5 208.7 L156.75 208.44 L157 209.81 L157.25 210.51 L157.5 208.43 L157.75 209.45 L158 209.46 L158.25 208.13 L158.5 207.84 L158.75 209.93 L159 208.26 L159.25 208.54 L159.5 208.31 L159.75 208.44 L160 208.04 L160.25 209.19 L160.5 209.63 L160.75 208.26 L161 207.41 L161.25 208.63 L161.5 207.34 L161.75 208.06 L162 209.65 L162.25 210.58 L162.5 208.95 L162.75 207.73 L163 209.3 L163.25 206.75 L163.5 208.07 L163.75 209.95 L164 209.3 L164.25 207.51 L164.5 207.28 L164.75 209.42 L165 208.66 L165.25 208.21 L165.5 209.07 L165.75 208.24 L166 207.11 L166.25 209.42 L166.5 208.2 L166.75 207.91 L167 207.63 L167.25 208.98 L167.5 208.1 L167.75 209.31 L168 208.57 L168.25 209.71 L168.5 208.48 L168.75 208.26 L169 207.16 L169.25 207.9 L169.5 209.45 L169.75 211.43 L170 207.79 L170.25 207.98 L170.5 209.15 L170.75 209.28 L171 208.31 L171.25 208.96 L171.5 207.54 L171.75 208.65 L172 209.67 L172.25 210.3 L172.5 208.79 L172.75 208.72 L173 209.33 L173.25 209.89 L173.5 209.37 L173.75 208.33 L174 209.27 L174.25 209.8 L174.5 208.39 L174.75 207.87 L175 209.43 L175.25 209.32 L175.5 209.84 L175.75 209.1 L176 208.49 L176.25 208.67 L176.5 208.18 L176.75 208.26 L177 208.59 L177.25 208.66 L177.5 210.02 L177.75 208.05 L178 209.06 L178.25 208.61 L178.5 210.37 L178.75 209.34 L179 208.81 L179.25 209.82 L179.5 209.2 L179.75 208.75 L180 210.46 L180.25 209.76 L180.5 210.63 L180.75 210.15 L181 209.83 L181.25 209.29 L181.5 208.27 L181.75 209.79 L182 209.25 L182.25 209.77 L182.5 209.19 L182.75 208.62 L183 208.36 L183.25 209.8 L183.5 210.31 L183.75 208.98 L184 209.61 L184.25 210.4 L184.5 208.53 L184.75 208.95 L185 208.29 L185.25 210.24 L185.5 209.47 L185.75 208.86 L186 207.86 L186.25 209.11 L186.5 210.11 L186.75 209.02 L187 208.91 L187.25 209.82 L187.5 208.24 L187.75 209.33 L188 209.79 L188.25 208.63 L188.5 208.6 L188.75 209.51 L189 209.22 L189.25 209.11 L189.5 209.49 L189.75 209.5 L190 208.54 L190.25 208.76 L190.5 209.71 L190.75 210.28 L191 210.48 L191.25 208.62 L191.5 210.27 L191.75 209.99 L192 209.33 L192.25 209.77 L192.5 210.06 L192.75 210.87 L193 208.48 L193.25 209.88 L193.5 209.26 L193.75 209.21 L194 210.35 L194.25 210.08 L194.5 208.54 L194.75 209.16 L195 209.59 L195.25 208.21 L195.5 210.14 L195.75 209.35 L196 209.55 L196.25 209.7 L196.5 210.95 L196.75 209.46 L197 209.13 L197.25 210.9 L197.5 209.02 L197.75 209 L198 208.28 L198.25 210.36 L198.5 209.68 L198.75 209.86 L199 209.6 L199.25 209.35 L199.5 208.81 L199.75 208.2 L200 206.16 L200.25 202.83 L200.5 201.03 L200.75 195.95 L201 194.25 L201.25 192.17 L201.5 192.55 L201.75 188.71 L202 188.76 L202.25 187.68 L202.5 184.71 L202.75 184.42 L203 181.42 L203.25 182.28 L203.5 180.61 L203.75 181.55 L204 180.8 L204.25 179.55 L204.5 180.38 L204.75 179.29 L205 177.94 L205.25 177.35 L205.5 175.94 L205.75 176.69 L206 178.29 L206.25 175.57 L206.5 176.19 L206.75 175.04 L207 175.84 L207.25 175.2 L207.5 174.3 L207.75 172.66 L208 173.39 L208.25 174.49 L208.5 172.94 L208.75 173.34 L209 172.07 L209.25 170.7 L209.5 172.41 L209.75 172.11 L210 171.14 L210.25 171.1 L210.5 171.45 L210.75 170.49 L211 171.07 L211.25 170.39 L211.5 168.37 L211.75 170.02 L212 169.42 L212.25 169.01 L212.5 169.84 L212.75 168.88 L213 169.53 L213.25 169.78 L213.5 168.77 L213.75 167.14 L214 167.66 L214.25 168.86 L214.5 167.7 L214.75 167.07 L215 167.49 L215.25 167.82 L215.5 167.44 L215.75 167.58 L216 166.17 L216.25 166.46 L216.5 166.3 L216.75 166.32 L217 164.4 L217.25 165.79 L217.5 164.69 L217.75 166.81 L218 166.77 L218.25 166.7 L218.5 165.85 L218.75 164.72 L219 165.89 L219.25 164.87 L219.5 165.51 L219.75 164.2 L220 164.42 L220.25 165.26 L220.5 166.32 L220.75 164.76 L221 166.64 L221.25 167.02 L221.5 163.58 L221.75 164.59 L222 163.77 L222.25 164.41 L222.5 164.04 L222.75 164.39 L223 165.21 L223.25 165.18 L223.5 164.61 L223.75 164.4 L224 164.5 L224.25 164.51 L224.5 164.89 L224.75 164.41 L225 164.84 L225.25 163.32 L225.5 165.09 L225.75 165.89 L226 164.58 L226.25 163.24 L226.5 165.57 L226.75 164.16 L227 161.93 L227.25 164.26 L227.5 164.96 L227.75 164.78 L228 165.5 L228.25 164.98 L228.5 164.57 L228.75 162.81 L229 163.54 L229.25 164.63 L229.5 165.05 L229.75 163.62 L230 163.97 L230.25 164.89 L230.5 162.9 L230.75 162.87 L231 164.33 L231.25 164.74 L231.5 164.13 L231.75 162.61 L232 164.57 L232.25 163.44 L232.5 165.11 L232.75 164.49 L233 164.8 L233.25 165.13 L233.5 164.15 L233.75 165.3 L234 165.66 L234.25 164.95 L234.5 165.74 L234.75 164.1 L235 165.41 L235.25 164.87 L235.5 163.82 L235.75 164.6 L236 164.22 L236.25 164.21 L236.5 164.76 L236.75 165.59 L237 164.43 L237.25 164.81 L237.5 163.48 L237.75 164.81 L238 165.7 L238.25 165.42 L238.5 165.14 L238.75 164.31 L239 163.94 L239.25 164.69 L239.5 163.65 L239.75 163.74 L240 165.58 L240.25 164.05 L240.5 166.36 L240.75 163.67 L241 165.26 L241.25 163.94 L241.5 165.1 L241.75 164.11 L242 165.04 L242.25 164.91 L242.5 164.69 L242.75 165.52 L243 166.39 L243.25 164.65 L243.5 165.92 L243.75 165.27 L244 165.2 L244.25 167.1 L244.5 163.46 L244.75 164.74 L245 163.82 L245.25 165.1 L245.5 165.2 L245.75 168.63 L246 165.74 L246.25 166.99 L246.5 166.6 L246.75 165.16 L247 165.96 L247.25 166.99 L247.5 165.76 L247.75 165.82 L248 166.09 L248.25 164.43 L248.5 165.04 L248.75 166.04 L249 166.24 L249.25 165.03 L249.5 165.56 L249.75 165.76 L250 165.76 L250.25 166.5 L250.5 166.03 L250.75 166.11 L251 164.81 L251.25 165.14 L251.5 166.32 L251.75 164.74 L252 166.34 L252.25 165.58 L252.5 165.48 L252.75 166.74 L253 165.65 L253.25 165.52 L253.5 165.7 L253.75 166.35 L254 168.64 L254.25 164.57 L254.5 166.36 L254.75 166.2 L255 167.24 L255.25 166.15 L255.5 164.41 L255.75 167.63 L256 165.62 L256.25 166.52 L256.5 165.44 L256.75 165.7 L257 166.23 L257.25 167.4 L257.5 167.42 L257.75 166.23 L258 167.18 L258.25 166.47 L258.5 166.91 L258.75 166.97 L259 167.39 L259.25 166.38 L259.5 166.81 L259.75 167.14 L260 167.05 L260.25 166.34 L260.5 168.5 L260.75 166.69 L261 167.75 L261.25 167.31 L261.5 168.2 L261.75 165.36 L262 168.97 L262.25 167.09 L262.5 166.26 L262.75 167.44 L263 169.27 L263.25 167.83 L263.5 166.39 L263.75 167.07 L264 168.62 L264.25 166.34 L264.5 167.41 L264.75 167.34 L265 169.46 L265.25 167.41 L265.5 168.8 L265.75 167.15 L266 167.08 L266.25 168.64 L266.5 168.35 L266.75 166.39 L267 168.42 L267.25 168.46 L267.5 167.43 L267.75 168.17 L268 168.24 L268.25 167.64 L268.5 167.58 L268.75 167.54 L269 167.91 L269.25 167.05 L269.5 168.17 L269.75 166.98 L270 168.34 L270.25 168.23 L270.5 167.46 L270.75 169.09 L271 170.04 L271.25 169.55 L271.5 167.31 L271.75 169.57 L272 168.72 L272.25 168.52 L272.5 168.09 L272.75 168.62 L273 169.83 L273.25 169.15 L273.5 168.38 L273.75 168.19 L274 168.44 L274.25 169.32 L274.5 170.43 L274.75 168 L275 168.92 L275.25 168.63 L275.5 168.35 L275.75 169.35 L276 169.52 L276.25 167.89 L276.5 168.24 L276.75 170.16 L277 169.45 L277.25 169.65 L277.5 168.82 L277.75 168.96 L278 169.7 L278.25 168.92 L278.5 168.44 L278.75 169.41 L279 170.2 L279.25 168.61 L279.5 170.4 L279.75 170.13 L280 168.84 L280.25 169.62 L280.5 169.62 L280.75 170.23 L281 170.3 L281.25 168.68 L281.5 168.68 L281.75 170.72 L282 169.99 L282.25 170.29 L282.5 170.26 L282.75 171.31 L283 169.04 L283.25 171.02 L283.5 169.45 L283.75 170.79 L284 171.35 L284.25 169.1 L284.5 170.64 L284.75 170.11 L285 170.14 L285.25 170.46 L285.5 169.58 L285.75 169.7 L286 171.1 L286.25 171.3 L286.5 170.15 L286.75 169.45 L287 172.66 L287.25 171.68 L287.5 171.1 L287.75 169.97 L288 170.38 L288.25 171.12 L288.5 170.15 L288.75 172.34 L289 171.15 L289.25 171.41 L289.5 170.25 L289.75 170.4 L290 170.54 L290.25 171.47 L290.5 171.06 L290.75 171.08 L291 171.63 L291.25 171.59 L291.5 172.69 L291.75 171.32 L292 170.68 L292.25 171.56 L292.5 172.83 L292.75 171.18 L293 171.73 L293.25 171.43 L293.5 172.11 L293.75 172.03 L294 171.17 L294.25 171.7 L294.5 172.72 L294.75 172.89 L295 172.79 L295.25 172.78 L295.5 171.82 L295.75 171.83 L296 172.96 L296.25 171.24 L296.5 172.21 L296.75 170.75 L297 172.02 L297.25 171.79 L297.5 171.42 L297.75 172.95 L298 172.73 L298.3 174.35 L298.6 175.87 L298.95 178.33 L299.3 181.96 L299.65 183.79 L300 186.77 L300.35 188.5 L300.7 191.25 L301.05 193.71 L301.4 196.1 L301.75 198.23 L302.1 199.95 L302.45 201.97 L302.8 202.63 L303.15 204.02 L303.5 205.31 L303.85 208.01 L304.2 209 L304.55 209.24 L304.9 210.02 L305.25 210.1 L305.6 211.06 L305.95 211.93 L306.3 212.6 L306.65 212.88 L307 213.63 L307.35 214.91 L307.7 215.36 L308.05 214.71 L308.4 216.1 L308.75 217.04 L309.1 216.61 L309.45 217.41 L309.8 217.08 L310.15 218.51 L310.5 218.07 L310.85 218.42 L311.2 219.25 L311.55 220.85 L311.9 219.77 L312.25 219.57 L312.6 220.42 L312.95 220.41 L313.3 221.13 L313.65 219.93 L314 219.88 L314.35 220.53 L314.7 220.93 L315.05 221.01 L315.4 221.42 L315.75 220.37 L316.1 220.76 L316.45 221.15 L316.8 221.67 L317.15 221.6 L317.5 221.29 L317.85 221.12 L318.2 222.05 L318.55 222.11 L318.9 222.9 L319.25 221.63 L319.6 222.44 L319.95 221.2 L320.3 221.5 L320.65 221.45 L321 221.55 L321.35 221.38 L321.7 221.53 L322.05 221.76 L322.4 221.59 L322.75 222.09 L323.1 221.77 L323.45 221.82 L323.8 222.48 L324.15 221.98 L324.5 221.91 L324.85 221.85 L325.2 221.89 L325.55 222.13 L325.9 221.53 L326.25 222.4 L326.6 222.59 L326.95 222.42 L327.3 221.7 L327.65 221.22 L328 221.74 L328.35 222.01 L328.7 222.32 L329.05 221.88 L329.4 221.84 L329.75 222.65 L330.1 221.63 L330.45 222.19 L330.8 221.91 L331.15 220.71 L331.5 221.21 L331.85 220.63 L332.2 220.25 L332.55 219.57 L332.9 219 L333.25 219.17 L333.6 218.57 L333.95 219.73 L334.3 220.02 L334.65 220.88 L335 220.97 L335.35 220.49 L335.7 220.51 L336.05 221.51 L336.4 221.46 L336.75 221.05 L337.1 221.5 L337.45 221.91 L337.8 222.5 L338.15 221.37 L338.5 222.11 L338.85 222.85 L339.2 222.02" fill="none" stroke="#bfbf00" stroke-width="1.875" stroke-linejoin="round" stroke-linecap="butt" />
<path d="M59 229.84 L60.5 229.44 L62 229.84 L63.5 229.69 L65 229.51 L66.5 229.77 L68 229.8 L69.5 229.81 L71 229.81 L72.5 229.69 L74 229.62 L75.5 229.65 L77 229.69 L78.5 229.73 L80 229.64 L81.5 229.69 L83 229.77 L84.5 229.72 L86 229.91 L87.5 229.9 L89 229.57 L90.5 229.63 L92 229.56 L93.5 229.57 L95 229.74 L96.5 229.59 L98 229.58 L99.5 229.66 L101 229.76 L102.5 229.65 L104 229.65 L105.5 229.77 L107 229.73 L108.5 229.72 L110 229.77 L111.5 229.58 L113 229.7 L114.5 229.62 L116 229.78 L117.5 229.76 L119 229.57 L120.5 229.81 L122 229.56 L123.5 229.79 L125 229.69 L126.5 229.59 L128 229.56 L129.5 229.64 L131 229.67 L132.5 229.6 L134 229.73 L135.5 229.53 L137 229.67 L138.5 229.67 L140 229.48 L141.5 229.7 L143 229.54 L144.5 229.42 L146 229.61 L147.5 229.64 L149 229.75 L150.5 229.62 L152 229.81 L153.5 229.8 L155 229.77 L156.5 229.79 L158 229.7 L159.5 229.61 L161 229.72 L162.5 229.76 L164 229.68 L165.5 229.63 L167 229.5 L168.5 229.72 L170 229.69 L171.5 229.53 L173 229.67 L174.5 229.73 L176 229.64 L177.5 229.73 L179 229.73 L180.5 229.51 L182 229.62 L183.5 229.7 L185 229.74 L186.5 229.79 L188 229.46 L189.5 229.64 L191 229.72 L192.5 229.77 L194 229.82 L195.5 229.56 L197 229.61 L198.5 229.54 L200 229.73 L201.5 229.52 L203 229.76 L204.5 229.74 L206 229.69 L207.5 229.43 L209 229.58 L210.5 229.72 L212 229.5 L213.5 229.62 L215 229.63 L216.5 229.73 L218 229.67 L219.5 229.67 L221 229.6 L222.5 229.64 L224 229.62 L225.5 229.71 L227 229.62 L228.5 229.74 L230 229.47 L231.5 229.75 L233 229.62 L234.5 229.75 L236 229.64 L237.5 229.72 L239 229.78 L240.5 229.58 L242 229.64 L243.5 229.61 L245 229.65 L246.5 229.47 L248 229.61 L249.5 229.6 L251 229.55 L252.5 229.61 L254 229.47 L255.5 229.76 L257 229.67 L258.5 229.81 L260 229.54 L261.5 229.51 L263 229.65 L264.5 229.46 L266 229.65 L267.5 229.55 L269 229.59 L270.5 229.65 L272 229.63 L273.5 229.8 L275 229.68 L276.5 229.49 L278 229.72 L279.5 229.49 L281 229.63 L282.5 229.49 L284 229.53 L285.5 229.75 L287 229.56 L288.5 229.55 L290 229.56 L291.5 229.58 L293 229.76 L294.5 229.5 L296 229.49 L297.5 229.67 L299 229.45 L300.5 229.57 L302 229.72 L303.5 229.61 L305 229.56 L306.5 229.54 L308 229.52 L309.5 229.55 L311 229.62 L312.5 229.73 L314 229.7 L315.5 229.55 L317 229.53 L318.5 229.67 L320 229.42 L321.5 229.56 L323 229.57 L324.5 229.49 L326 229.5 L327.5 229.63 L329 229.44 L330.5 229.51 L332 229.53 L333.5 229.61 L335 229.46 L336.5 229.7 L338 229.56 L339.2 229.57" fill="none" stroke="#008000" stroke-width="1.875" stroke-linejoin="round" stroke-linecap="butt" />
<path d="M59 327.6 L220.6 327.8 L220.9 229.4 L221 229.2 L221.8 229.12 L222.6 229.04 L223.4 229.57 L224.2 229.34 L225 229.26 L225.8 229.53 L226.6 229.11 L227.4 229.44 L228.2 229.29 L229 229.06 L229.8 229.47 L230.6 228.92 L231.4 229.44 L232.2 229.07 L233 229.38 L233.8 229.62 L234.6 229.42 L235.4 229.13 L236.2 229.28 L237 229.19 L237.8 228.99 L238.6 229.01 L239.4 229.29 L240.2 229.41 L241 228.85 L241.8 229.26 L242.6 229.41 L243.4 229.31 L244.2 229.03 L245 229.53 L245.8 228.98 L246.6 229.44 L247.4 229.67 L248.2 228.78 L249 229.34 L249.8 229.36 L250.6 229.33 L251.4 229.09 L252.2 229.2 L253 228.93 L253.8 229.31 L254.6 229.41 L255.4 229.11 L256.2 229.05 L257 229.16 L257.8 229.28 L258.6 229.29 L259.4 229.25 L260.2 229.29 L261 228.96 L261.8 228.61 L262.6 229.43 L263.4 229.63 L264.2 228.93 L265 229.11 L265.8 229.35 L266.6 229.51 L267.4 229.44 L268.2 229.59 L269 229.26 L269.8 229.38 L270.6 229.38 L271.4 229.17 L272.2 229.57 L273 229.43 L273.8 229.52 L274.6 229.18 L275.4 229.53 L276.2 229.02 L277 229.37 L277.8 228.64 L278.6 229.03 L279.4 229.46 L280.2 229.17 L281 229.32 L281.8 228.88 L282.6 229.65 L283.4 229.42 L284.2 229.27 L285 229.38 L285.8 229.36 L286.6 229.62 L287.4 229.33 L288.2 228.91 L289 229.21 L289.8 229.59 L290.6 229.41 L291.4 229.17 L292.2 229.42 L293 229.3 L293.8 229.42 L294.6 228.89 L295.4 229.06 L296.2 229.44 L297 229.22 L297.8 229.36 L298.6 229.75 L299.4 229.2 L300.2 229.33 L301 229.14 L301.8 229.12 L302.6 229.26 L303.4 228.92 L304.2 228.76 L305 229.61 L305.8 229.25 L306.6 229.55 L307.4 229.3 L308.2 229.31 L309 229.44 L309.8 229.45 L310.6 228.98 L311.4 229.57 L312.2 229.04 L313 229.32 L313.8 229.9 L314.6 229.29 L315.4 229.68 L316.2 229.19 L317 229.43 L317.8 229.29 L318.6 229.38 L319.4 229.07 L320.2 229.05 L321 229.36 L321.8 228.89 L322.6 229.07 L323.4 229.43 L324.2 229.13 L325 229.06 L325.8 229 L326.6 229.31 L327.4 229.19 L328.2 229.31 L329 229.23 L329.8 229.73 L330.6 229.17 L331.4 228.8 L332.2 229.3 L333 229.28 L333.8 229.31 L334.6 228.88 L335.4 229.55 L336.2 229.27 L337 229.27 L337.8 228.89 L338.6 229.39 L339.2 229.26" fill="none" stroke="#0000ff" stroke-width="1.875" stroke-linejoin="round" stroke-linecap="butt" />
<path d="M59 328.6 L103.8 328.5 L105.4 326.8 L106.2 323.7 L107.2 290 L108.8 250 L110.2 237 L111.2 235.6 L112.5 235.2 L120 234.2 L135 232.8 L150 231.8 L170 231 L190 230.6 L220 230.5 L260 230.5 L339.2 230.5" fill="none" stroke="#bfbf00" stroke-width="1.875" stroke-linejoin="round" stroke-linecap="butt" />
<path d="M59 354.05 L59.8 354.11 L60.6 354.29 L61.4 354.73 L62.2 354.88 L63 355.31 L63.8 355.41 L64.6 355.79 L65.4 356.06 L66.2 356.35 L67 356.57 L67.8 356.81 L68.6 357.18 L69.4 357.4 L70.2 357.8 L71 358.07 L71.8 358.16 L72.6 358.73 L73.4 359.22 L74.2 359.41 L75 359.77 L75.8 360.07 L76.6 360.28 L77.4 360.5 L78.2 361.07 L79 361.41 L79.8 361.7 L80.6 362.09 L81.4 362.48 L82.2 362.84 L83 363.27 L83.8 363.64 L84.6 364.08 L85.4 364.33 L86.2 364.77 L87 365.3 L87.8 365.6 L88.6 365.76 L89.4 366.45 L90.2 366.51 L91 367.3 L91.8 367.46 L92.6 367.76 L93.4 367.91 L94.2 368.16 L95 368.56 L95.8 369.05 L96.6 369.41 L97.4 369.98 L98.2 370.5 L99 370.94 L99.8 371.21 L100.6 371.62 L101.4 372.42 L102.2 373.44 L103 374.58 L103.8 375.28 L104.6 375.83 L105.4 376.08 L106.2 376.58 L107 377.05 L107.8 377.28 L108.6 377.71 L109.4 378.19 L110.2 378.49 L111 378.83 L111.8 379.2 L112.6 379.69 L113.4 380.02 L114.2 380.58 L115 380.85 L115.8 381.46 L116.6 381.83 L117.4 381.95 L118.2 382.61 L119 382.84 L119.8 383.45 L120.6 383.75 L121.4 384.09 L122.2 384.57 L123 384.83 L123.8 385.33 L124.6 385.73 L125.4 386.07 L126.2 386.53 L127 386.77 L127.8 387.34 L128.6 387.54 L129.4 388.14 L130.2 388.52 L131 388.95 L131.8 389.2 L132.6 390.01 L133.4 390.03 L134.2 390.48 L135 390.77 L135.8 391.42 L136.6 391.6 L137.4 392.16 L138.2 392.34 L139 392.88 L139.8 393.2 L140.6 393.75 L141.4 394.01 L142.2 394.34 L143 394.89 L143.8 395.11 L144.6 395.53 L145.4 396.13 L146.2 396.23 L147 396.93 L147.8 397.2 L148.6 397.54 L149.4 398.07 L150.2 398.52 L151 398.78 L151.8 399.22 L152.6 399.74 L153.4 400.13 L154.2 400.4 L155 400.66 L155.8 401 L156.6 401.39 L157.4 401.88 L158.2 402.22 L159 402.54 L159.8 403.01 L160.6 403.17 L161.4 403.52 L162.2 403.87 L163 404.48 L163.8 404.38 L164.6 404.99 L165.4 405.36 L166.2 405.67 L167 406.28 L167.8 406.5 L168.6 406.74 L169.4 406.81 L170.2 407.23 L171 407.39 L171.8 407.69 L172.6 407.97 L173.4 408.15 L174.2 408.53 L175 408.9 L175.8 409.09 L176.6 409.26 L177.4 409.27 L178.2 409.87 L179 410.13 L179.8 410.24 L180.6 410.47 L181.4 410.85 L182.2 410.95 L183 411.38 L183.8 411.41 L184.6 411.67 L185.4 412.01 L186.2 412.09 L187 412.49 L187.8 412.8 L188.6 412.83 L189.4 413.32 L190.2 413.38 L191 413.7 L191.8 413.85 L192.6 413.97 L193.4 414.16 L194.2 414.21 L195 414.52 L195.8 414.7 L196.6 415.17 L197.4 415.29 L198.2 415.21 L199 415.65 L199.8 415.78 L200.6 415.86 L201.4 416.1 L202.2 416.28 L203 416.26 L203.8 416.44 L204.6 416.63 L205.4 416.64 L206.2 416.91 L207 417.03 L207.8 417.1 L208.6 417.22 L209.4 417.49 L210.2 417.7 L211 417.78 L211.8 417.79 L212.6 418.12 L213.4 418.2 L214.2 418.4 L215 418.61 L215.8 418.53 L216.6 418.77 L217.4 418.87 L218.2 418.99 L219 419.46 L219.8 419.49 L220.6 419.34 L221.4 419.73 L222.2 419.76 L223 420.06 L223.8 420.05 L224.6 420.13 L225.4 420.27 L226.2 420.41 L227 420.48 L227.8 420.55 L228.6 420.67 L229.4 420.85 L230.2 420.78 L231 421.01 L231.8 421.1 L232.6 421.17 L233.4 421.42 L234.2 421.3 L235 421.52 L235.8 421.58 L236.6 421.85 L237.4 421.85 L238.2 422.03 L239 422.18 L239.8 422.07 L240.6 422.42 L241.4 422.4 L242.2 422.57 L243 422.7 L243.8 422.92 L244.6 423.03 L245.4 423.25 L246.2 423.16 L247 423.19 L247.8 423.28 L248.6 423.51 L249.4 423.71 L250.2 423.66 L251 423.66 L251.8 423.85 L252.6 423.94 L253.4 424.01 L254.2 424.02 L255 423.92 L255.8 424.24 L256.6 424.48 L257.4 424.45 L258.2 424.24 L259 424.55 L259.8 424.41 L260.6 424.9 L261.4 424.76 L262.2 424.67 L263 424.95 L263.8 424.84 L264.6 425.05 L265.4 425.06 L266.2 424.98 L267 425.23 L267.8 425.06 L268.6 425.41 L269.4 425.31 L270.2 425.24 L271 425.2 L271.8 425.63 L272.6 425.66 L273.4 425.4 L274.2 425.78 L275 425.66 L275.8 425.66 L276.6 425.72 L277.4 425.75 L278.2 425.99 L279 425.9 L279.8 425.72 L280.6 426.21 L281.4 426.13 L282.2 425.96 L283 426.09 L283.8 426.08 L284.6 426.23 L285.4 426.32 L286.2 426.35 L287 426.31 L287.8 426.34 L288.6 426.57 L289.4 426.51 L290.2 426.81 L291 426.5 L291.8 426.72 L292.6 426.68 L293.4 426.62 L294.2 426.9 L295 426.8 L295.8 426.72 L296.6 426.82 L297.4 427.01 L298.2 426.8 L299 427.13 L299.8 427.09 L300.6 427.02 L301.4 427.24 L302.2 427.32 L303 427.23 L303.8 427.22 L304.6 427.45 L305.4 427.45 L306.2 427.21 L307 427.33 L307.8 427.37 L308.6 427.39 L309.4 427.3 L310.2 427.61 L311 427.54 L311.8 427.57 L312.6 427.75 L313.4 427.55 L314.2 427.64 L315 427.7 L315.8 427.65 L316.6 427.72 L317.4 427.84 L318.2 427.78 L319 427.96 L319.8 427.75 L320.6 427.89 L321.4 427.73 L322.2 427.89 L323 427.83 L323.8 428.07 L324.6 428 L325.4 427.98 L326.2 428.13 L327 428.09 L327.8 428.02 L328.6 427.86 L329.4 427.78 L330.2 427.95 L331 427.91 L331.8 427.88 L332.6 427.93 L333.4 427.78 L334.2 428.14 L335 427.85 L335.8 427.9 L336.6 428.05 L337.4 427.81 L338.2 428.1 L339.2 428.11" fill="none" stroke="#008000" stroke-width="1.875" stroke-linejoin="round" stroke-linecap="butt" />
<path d="M59 373 L59.5 372.73 L60 372.91 L60.5 372.45 L61 373.5 L61.5 373.04 L62 372.77 L62.5 372.7 L63 373.17 L63.5 373.47 L64 372.53 L64.5 372.75 L65 372.34 L65.5 373.13 L66 372.95 L66.5 373.63 L67 372.83 L67.5 372.71 L68 372.6 L68.5 373.1 L69 372.27 L69.5 373.04 L70 372.86 L70.5 372.6 L71 372.45 L71.5 373.08 L72 373.34 L72.5 372.56 L73 372.87 L73.5 373.25 L74 372.46 L74.5 372.56 L75 372.23 L75.5 372.57 L76 372.58 L76.5 372.45 L77 372.33 L77.5 372.03 L78 372.1 L78.5 372.2 L79 372.73 L79.5 372.33 L80 372.2 L80.5 372.69 L81 372.64 L81.5 372.19 L82 372.22 L82.5 372.63 L83 372.52 L83.5 372.1 L84 372.45 L84.5 372.34 L85 372.71 L85.5 372.04 L86 372.6 L86.5 372.44 L87 371.94 L87.5 372.62 L88 372.55 L88.5 371.8 L89 372.88 L89.5 371.82 L90 371.89 L90.5 372.07 L91 372.42 L91.5 372.34 L92 372.1 L92.5 372.58 L93 372.24 L93.5 372.56 L94 373.02 L94.5 372.13 L95 371.18 L95.5 371.88 L96 371.66 L96.5 372.03 L97 372.02 L97.5 371.56 L98 371.57 L98.5 371.86 L99 371.86 L99.5 371.04 L100 372.23 L100.5 371.89 L101 371.86 L101.5 371.94 L102 371.48 L102.5 371.79 L103 372.14 L103.5 372.13 L104 371.9 L104.5 371.63 L105 371.43 L105.5 372.14 L106 371.85 L106.5 371.51 L107 370.9 L107.5 371.32 L108 370.94 L108.5 372 L109 371.62 L109.5 371.29 L110 371.43 L110.5 372.39 L111 371.9 L111.5 371 L112 371.4 L112.5 371.01 L113 370.82 L113.5 371.45 L114 372.19 L114.5 371.88 L115 371.34 L115.5 371.18 L116 371.36 L116.5 371.63 L117 370.75 L117.5 370.59 L118 371.86 L118.5 371.29 L119 371.73 L119.5 371.24 L120 371.65 L120.5 370.91 L121 371.27 L121.5 371.62 L122 371.42 L122.5 370.89 L123 371.33 L123.5 370.78 L124 370.5 L124.5 371.15 L125 371.43 L125.5 371.22 L126 370.48 L126.5 371.19 L127 371.11 L127.5 370.7 L128 369.98 L128.5 371.17 L129 371.11 L129.5 370.95 L130 370.16 L130.5 370.22 L131 371.07 L131.5 370.98 L132 370.86 L132.5 370.58 L133 370.78 L133.5 370.44 L134 370.5 L134.5 370.29 L135 370.66 L135.5 370.41 L136 370.86 L136.5 370.76 L137 370.21 L137.5 371.11 L138 370.07 L138.5 370.59 L139 370.8 L139.5 370.85 L140 369.61 L140.5 370.71 L141 370.77 L141.5 370.82 L142 369.53 L142.5 370.05 L143 370.23 L143.5 370.09 L144 370.7 L144.5 369.97 L145 370.62 L145.5 370.37 L146 369.64 L146.5 369.79 L147 369.95 L147.5 370.13 L148 370.42 L148.5 369.99 L149 370.36 L149.5 369.47 L150 368.93 L150.5 369.86 L151 370.12 L151.5 369.81 L152 369.57 L152.5 370.05 L153 370.56 L153.5 369.82 L154 369.59 L154.5 369.52 L155 370.49 L155.5 369.77 L156 369.97 L156.5 370.17 L157 370.1 L157.5 369.38 L158 370.01 L158.5 369.96 L159 369.81 L159.5 369.97 L160 369.4 L160.5 369.55 L161 369.38 L161.5 369.81 L162 369.29 L162.5 369.64 L163 369.1 L163.5 369.42 L164 369.31 L164.5 369.38 L165 369.45 L165.5 369.32 L166 369.28 L166.5 368.62 L167 369.71 L167.5 369.08 L168 369.19 L168.5 368.97 L169 369.59 L169.5 368.9 L170 369.38 L170.5 369.59 L171 369.74 L171.5 369.56 L172 369.34 L172.5 368.68 L173 369.53 L173.5 369.48 L174 369.33 L174.5 369.3 L175 369.03 L175.5 368.8 L176 369.34 L176.5 369.39 L177 368.56 L177.5 369.22 L178 368.97 L178.5 369.17 L179 368.94 L179.5 369.21 L180 369.16 L180.5 369.09 L181 368.28 L181.5 369.03 L182 368.74 L182.5 368.31 L183 368.93 L183.5 368.19 L184 368.96 L184.5 369.22 L185 368.43 L185.5 368.91 L186 368.72 L186.5 368.77 L187 368.06 L187.5 368.72 L188 368.53 L188.5 368.72 L189 368.45 L189.5 368.81 L190 368.5 L190.5 368.62 L191 368.84 L191.5 368.41 L192 368.67 L192.5 368.39 L193 368.47 L193.5 368.09 L194 368.52 L194.5 368.65 L195 368.18 L195.5 368.46 L196 368.32 L196.5 367.77 L197 368.25 L197.5 368.57 L198 367.92 L198.5 367.46 L199 368.12 L199.5 367.81 L200 368.67 L200.5 367.98 L201 367.97 L201.5 367.73 L202 368.02 L202.5 367.72 L203 367.58 L203.5 367.85 L204 367.57 L204.5 368.29 L205 367.41 L205.5 367.77 L206 367.54 L206.5 367.28 L207 368.3 L207.5 366.99 L208 368.19 L208.5 367.19 L209 367.68 L209.5 368.41 L210 366.88 L210.5 367.12 L211 368.02 L211.5 367.61 L212 367.34 L212.5 367.5 L213 367.16 L213.5 367.51 L214 367.97 L214.5 367.3 L215 367.46 L215.5 367.81 L216 368.05 L216.5 367.15 L217 367.44 L217.5 367.12 L218 367.07 L218.5 367.14 L219 367.04 L219.5 366.64 L220 366.53 L220.5 366.94 L221 367.22 L221.5 367.57 L222 366.95 L222.5 367.06 L223 367.32 L223.5 367.33 L224 367.01 L224.5 367.01 L225 367.65 L225.5 366.88 L226 366.8 L226.5 366.39 L227 367.08 L227.5 366.82 L228 367.55 L228.5 366.76 L229 367.13 L229.5 367.15 L230 367.38 L230.5 366.34 L231 367.31 L231.5 366.76 L232 366.7 L232.5 366.61 L233 366.56 L233.5 366.55 L234 365.85 L234.5 366.81 L235 366.63 L235.5 366.27 L236 366.55 L236.5 367.34 L237 366.66 L237.5 366.38 L238 367.08 L238.5 366.2 L239 366.4 L239.5 366.24 L240 366.33 L240.5 366.64 L241 366.57 L241.5 366.1 L242 366.29 L242.5 366.34 L243 366.15 L243.5 366.26 L244 366.01 L244.5 365.98 L245 366.23 L245.5 365.84 L246 366.31 L246.5 366.09 L247 365.82 L247.5 365.9 L248 365.93 L248.5 366.02 L249 366.09 L249.5 365.96 L250 365.72 L250.5 366.48 L251 366.28 L251.5 365.99 L252 366.25 L252.5 366.02 L253 365.8 L253.5 365.89 L254 366.75 L254.5 366.16 L255 366.16 L255.5 365.65 L256 365.96 L256.5 366.51 L257 365.86 L257.5 366.06 L258 366.1 L258.5 365.87 L259 366.17 L259.5 365.69 L260 365.76 L260.5 365.36 L261 366.44 L261.5 365.63 L262 365.54 L262.5 365.96 L263 365.3 L263.5 365.44 L264 365.16 L264.5 365.41 L265 365.25 L265.5 365.54 L266 365.29 L266.5 365.11 L267 365.2 L267.5 365.23 L268 365.08 L268.5 365.55 L269 365.44 L269.5 365.24 L270 364.77 L270.5 365.32 L271 364.69 L271.5 365.17 L272 365.1 L272.5 364.86 L273 364.76 L273.5 364.79 L274 365.7 L274.5 364.89 L275 364.89 L275.5 365.26 L276 365.06 L276.5 365.25 L277 364.46 L277.5 364.49 L278 365.96 L278.5 364.8 L279 364.69 L279.5 364.82 L280 365.08 L280.5 364.33 L281 364.8 L281.5 364.68 L282 364.89 L282.5 364.7 L283 364.44 L283.5 364.31 L284 363.76 L284.5 364.89 L285 364.04 L285.5 364.38 L286 365.06 L286.5 364.34 L287 364.66 L287.5 364.36 L288 364.65 L288.5 364.4 L289 364.2 L289.5 364.81 L290 364.24 L290.5 363.86 L291 364.18 L291.5 364.45 L292 363.87 L292.5 364.49 L293 364.46 L293.5 364.9 L294 363.95 L294.5 364.36 L295 363.56 L295.5 363.96 L296 364.11 L296.5 364.19 L297 364.02 L297.5 363.98 L298 363.79 L298.5 363.82 L299 364.05 L299.5 364.12 L300 364.12 L300.5 364.22 L301 364.27 L301.5 363.24 L302 363.65 L302.5 363.75 L303 363.57 L303.5 364.12 L304 364 L304.5 363.69 L305 363.75 L305.5 364.11 L306 363.55 L306.5 363.54 L307 363.93 L307.5 363.76 L308 364.06 L308.5 363.69 L309 363.79 L309.5 363.34 L310 363.19 L310.5 363.48 L311 362.57 L311.5 363.58 L312 363.74 L312.5 363.42 L313 363.3 L313.5 363.72 L314 363.32 L314.5 363.65 L315 364.03 L315.5 363.52 L316 363.57 L316.5 363.4 L317 363.3 L317.5 363.29 L318 363.2 L318.5 363.52 L319 362.59 L319.5 363.02 L320 363.31 L320.5 362.79 L321 363.02 L321.5 362.8 L322 363.16 L322.5 363.28 L323 363.46 L323.5 363.12 L324 362.69 L324.5 362.99 L325 363.08 L325.5 363.34 L326 362.13 L326.5 362.95 L327 362.2 L327.5 363.03 L328 362.92 L328.5 362.91 L329 363.02 L329.5 362.83 L330 362.47 L330.5 362.78 L331 363.05 L331.5 362.58 L332 362.61 L332.5 362.18 L333 362.95 L333.5 362.37 L334 362.27 L334.5 362.35 L335 362.19 L335.5 362.38 L336 362.87 L336.5 362.68 L337 362.88 L337.5 362.88 L338 362.06 L338.5 362.5 L339 362.82 L339.2 363.08" fill="none" stroke="#0000ff" stroke-width="1.875" stroke-linejoin="round" stroke-linecap="butt" />
<path d="M59 372.64 L59.6 372.61 L60.2 372.95 L60.8 372.78 L61.4 372.63 L62 372.87 L62.6 372.62 L63.2 372.32 L63.8 372.72 L64.4 372.73 L65 372.81 L65.6 372.84 L66.2 372.68 L66.8 372.57 L67.4 372.47 L68 372.26 L68.6 372.47 L69.2 372.72 L69.8 372.63 L70.4 372.88 L71 372.44 L71.6 372.1 L72.2 372.58 L72.8 372.6 L73.4 372.15 L74 372.05 L74.6 372.36 L75.2 372.45 L75.8 372.08 L76.4 372.2 L77 372.1 L77.6 372 L78.2 371.95 L78.8 372.21 L79.4 372.09 L80 372.01 L80.6 371.62 L81.2 372.43 L81.8 371.89 L82.4 372.02 L83 371.81 L83.6 372.08 L84.2 371.69 L84.8 371.98 L85.4 371.9 L86 372.09 L86.6 371.68 L87.2 371.75 L87.8 371.8 L88.4 372.23 L89 371.52 L89.6 371.84 L90.2 371.64 L90.8 371.8 L91.4 371.84 L92 371.72 L92.6 371.72 L93.2 371.7 L93.8 371.52 L94.4 371.57 L95 371.27 L95.6 371.5 L96.2 371.39 L96.8 371.47 L97.4 371.64 L98 371.55 L98.6 371.54 L99.2 371.64 L99.8 370.95 L100.4 371.47 L101 371.36 L101.6 371.33 L102.2 371.07 L102.8 371.41 L103.4 371.5 L104 371.45 L104.6 371.22 L105.2 371.34 L105.8 371.37 L106.4 371.52 L107 371.38 L107.6 371.15 L108.2 371.12 L108.8 371.12 L109.4 371.11 L110 370.95 L110.6 371.17 L111.2 370.87 L111.8 370.82 L112.4 371.02 L113 370.82 L113.6 370.86 L114.2 370.49 L114.8 371.02 L115.4 370.85 L116 370.8 L116.6 370.89 L117.2 370.82 L117.8 370.63 L118.4 371.12 L119 370.63 L119.6 370.88 L120.2 371.02 L120.8 370.53 L121.4 370.65 L122 370.45 L122.6 370.79 L123.2 370.5 L123.8 370.33 L124.4 370.77 L125 370.68 L125.6 370.31 L126.2 370.68 L126.8 370.47 L127.4 370.93 L128 370.72 L128.6 370.26 L129.2 370.3 L129.8 370.16 L130.4 370.33 L131 370.29 L131.6 370.4 L132.2 370.26 L132.8 369.94 L133.4 370.04 L134 370.45 L134.6 370.38 L135.2 370.1 L135.8 370.09 L136.4 370.06 L137 370.07 L137.6 369.73 L138.2 370.2 L138.8 369.88 L139.4 370.01 L140 369.48 L140.6 369.98 L141.2 370.17 L141.8 369.47 L142.4 370.16 L143 369.94 L143.6 369.69 L144.2 369.51 L144.8 370.01 L145.4 369.82 L146 369.86 L146.6 369.67 L147.2 369.55 L147.8 369.85 L148.4 369.48 L149 369.81 L149.6 369.3 L150.2 369.42 L150.8 369.3 L151.4 369.8 L152 369.2 L152.6 369.29 L153.2 369.62 L153.8 369.51 L154.4 369.87 L155 369.78 L155.6 369.53 L156.2 369.52 L156.8 369.02 L157.4 369.18 L158 369.27 L158.6 369.27 L159.2 369.02 L159.8 369.09 L160.4 369.08 L161 369.43 L161.6 369.29 L162.2 369.12 L162.8 369.11 L163.4 369.2 L164 368.99 L164.6 369.05 L165.2 368.75 L165.8 369.19 L166.4 369.23 L167 369.09 L167.6 369.09 L168.2 369.05 L168.8 369.35 L169.4 368.98 L170 368.67 L170.6 368.7 L171.2 369.02 L171.8 369.06 L172.4 368.99 L173 368.98 L173.6 368.83 L174.2 368.49 L174.8 368.62 L175.4 368.39 L176 368.64 L176.6 368.43 L177.2 368.69 L177.8 368.62 L178.4 368.26 L179 368.75 L179.6 368.74 L180.2 368.31 L180.8 368.58 L181.4 368.67 L182 368.46 L182.6 368.65 L183.2 368.51 L183.8 368.66 L184.4 368.46 L185 368.38 L185.6 368.49 L186.2 368.52 L186.8 368.4 L187.4 368.24 L188 368.15 L188.6 368.21 L189.2 368.16 L189.8 368.28 L190.4 368.26 L191 368.19 L191.6 368.18 L192.2 368.2 L192.8 368.44 L193.4 368.35 L194 367.99 L194.6 368.16 L195.2 368 L195.8 368.02 L196.4 367.97 L197 367.88 L197.6 367.72 L198.2 367.48 L198.8 367.98 L199.4 368.15 L200 367.72 L200.6 367.97 L201.2 367.78 L201.8 367.88 L202.4 367.65 L203 367.74 L203.6 367.74 L204.2 367.28 L204.8 367.76 L205.4 367.66 L206 367.19 L206.6 367.77 L207.2 367.62 L207.8 367.64 L208.4 367.65 L209 367.47 L209.6 367.32 L210.2 367.42 L210.8 367.4 L211.4 367.89 L212 367.8 L212.6 367.32 L213.2 367.31 L213.8 367.43 L214.4 367.46 L215 367.19 L215.6 367.11 L216.2 367.65 L216.8 367.46 L217.4 366.93 L218 366.87 L218.6 367.03 L219.2 367.21 L219.8 367.25 L220.4 367.05 L221 366.78 L221.6 367.12 L222.2 367.17 L222.8 367.03 L223.4 366.91 L224 367.09 L224.6 366.95 L225.2 366.72 L225.8 366.93 L226.4 366.64 L227 367.06 L227.6 366.94 L228.2 366.63 L228.8 366.84 L229.4 367.02 L230 366.34 L230.6 366.7 L231.2 367.03 L231.8 366.38 L232.4 366.63 L233 366.36 L233.6 366.6 L234.2 366.13 L234.8 366.26 L235.4 366.44 L236 366.55 L236.6 366.58 L237.2 366.56 L237.8 366.68 L238.4 366.57 L239 366.56 L239.6 366.2 L240.2 366.34 L240.8 366.97 L241.4 366.76 L242 366.46 L242.6 366.42 L243.2 366.45 L243.8 366.15 L244.4 366.59 L245 366.11 L245.6 366.15 L246.2 366.56 L246.8 365.71 L247.4 366.16 L248 365.73 L248.6 365.92 L249.2 366.01 L249.8 365.93 L250.4 366.01 L251 365.8 L251.6 365.91 L252.2 365.67 L252.8 365.81 L253.4 365.59 L254 365.96 L254.6 365.56 L255.2 365.92 L255.8 365.68 L256.4 365.68 L257 365.95 L257.6 365.71 L258.2 365.29 L258.8 365.74 L259.4 365.05 L260 365.65 L260.6 365.49 L261.2 365.27 L261.8 365.54 L262.4 365.44 L263 365.87 L263.6 365.36 L264.2 365.81 L264.8 365.68 L265.4 365.26 L266 365.19 L266.6 365.59 L267.2 365.28 L267.8 365.31 L268.4 365.21 L269 364.99 L269.6 365.14 L270.2 365 L270.8 364.86 L271.4 365.08 L272 365.47 L272.6 365.41 L273.2 365.05 L273.8 365.07 L274.4 365.12 L275 365.26 L275.6 365.03 L276.2 364.85 L276.8 364.84 L277.4 365.12 L278 365.39 L278.6 364.73 L279.2 364.42 L279.8 364.96 L280.4 364.76 L281 364.78 L281.6 364.98 L282.2 364.72 L282.8 364.42 L283.4 364.27 L284 364.62 L284.6 364.38 L285.2 364.64 L285.8 364.31 L286.4 364.47 L287 364.22 L287.6 364.42 L288.2 364.38 L288.8 364.56 L289.4 364.69 L290 364.36 L290.6 364.2 L291.2 364.74 L291.8 364.39 L292.4 364.42 L293 364.4 L293.6 364.54 L294.2 364.43 L294.8 364.34 L295.4 364.33 L296 363.98 L296.6 364.01 L297.2 364.09 L297.8 364.1 L298.4 364.06 L299 364.1 L299.6 364.02 L300.2 363.9 L300.8 363.63 L301.4 364.09 L302 364.01 L302.6 363.69 L303.2 363.93 L303.8 363.88 L304.4 363.78 L305 363.37 L305.6 363.47 L306.2 363.56 L306.8 363.97 L307.4 363.45 L308 363.52 L308.6 363.33 L309.2 363.43 L309.8 363.56 L310.4 363.05 L311 362.87 L311.6 363.54 L312.2 363.38 L312.8 363.22 L313.4 363.5 L314 363.47 L314.6 362.83 L315.2 363.19 L315.8 363.41 L316.4 363.02 L317 363.06 L317.6 363.29 L318.2 363.01 L318.8 362.8 L319.4 362.87 L320 362.71 L320.6 363.05 L321.2 362.57 L321.8 363.08 L322.4 362.52 L323 362.83 L323.6 362.5 L324.2 362.7 L324.8 362.93 L325.4 362.92 L326 362.93 L326.6 362.62 L327.2 362.63 L327.8 362.62 L328.4 362.67 L329 362.44 L329.6 362.7 L330.2 362.52 L330.8 362.65 L331.4 362.49 L332 362.5 L332.6 362.19 L333.2 362.22 L333.8 362.01 L334.4 362.18 L335 362.17 L335.6 362.35 L336.2 361.9 L336.8 362.76 L337.4 362.06 L338 362.31 L338.6 362.23 L339.2 361.49" fill="none" stroke="#bfbf00" stroke-width="1.875" stroke-linejoin="round" stroke-linecap="butt" />
<path d="M59 482.8 L103.8 482.8 L104.44 479.78 L105.08 476.88 L105.72 474.11 L106.36 471.48 L107 469 L107.64 466.65 L108.28 464.41 L108.92 462.28 L109.56 460.27 L110.2 458.4 L114 457.5 L117.3 457.8 L118.05 458.7 L118.8 459.58 L119.55 460.44 L120.3 461.28 L121.05 462.1 L121.8 462.9 L122.55 463.67 L123.3 464.41 L124.05 465.13 L124.8 465.84 L125.55 466.56 L126.3 467.3 L127.03 468.05 L127.77 468.82 L128.5 469.59 L129.23 470.36 L129.97 471.1 L130.7 471.8 L131.38 472.42 L132.05 473.02 L132.72 473.61 L133.4 474.19 L134.07 474.75 L134.75 475.29 L135.42 475.81 L136.1 476.3 L136.76 476.76 L137.43 477.2 L138.09 477.61 L138.75 478 L140.3 471.8 L140.97 471.82 L141.64 471.89 L142.31 472 L142.99 472.14 L143.66 472.3 L144.33 472.49 L145 472.7 L145.63 473.01 L146.27 473.5 L146.9 474.09 L147.53 474.72 L148.17 475.31 L148.8 475.8 L149.53 476.26 L150.25 476.69 L150.98 477.1 L151.7 477.5 L152.43 477.88 L153.15 478.24 L153.88 478.59 L154.6 478.93 L155.32 479.26 L156.05 479.58 L156.78 479.89 L157.5 480.2 L158.23 480.51 L158.97 480.81 L159.7 481.1 L160.43 481.39 L161.17 481.67 L161.9 481.95 L162.63 482.23 L163.37 482.5 L164.1 482.76 L164.83 483.02 L165.57 483.28 L166.3 483.53 L167.03 483.78 L167.77 484.03 L168.5 484.27 L169.23 484.51 L169.97 484.74 L170.7 484.97 L171.43 485.2 L172.17 485.43 L172.9 485.65 L173.63 485.87 L174.37 486.09 L175.1 486.3 L175.83 486.51 L176.56 486.72 L177.29 486.92 L178.02 487.11 L178.75 487.31 L179.47 487.5 L180.2 487.68 L180.93 487.87 L181.66 488.05 L182.39 488.23 L183.12 488.4 L183.85 488.58 L184.58 488.76 L185.31 488.93 L186.04 489.1 L186.77 489.28 L187.5 489.45 L188.22 489.63 L188.95 489.8 L189.68 489.98 L190.41 490.15 L191.14 490.33 L191.87 490.52 L192.6 490.7 L193.34 490.88 L194.08 491.05 L194.82 491.22 L195.56 491.38 L196.3 491.55 L197.04 491.72 L197.78 491.91 L198.52 492.12 L199.26 492.35 L200 492.6 L200.7 492.89 L201.4 493.24 L202.1 493.63 L202.8 494.06 L203.5 494.5 L204.17 495.27 L204.83 496.49 L205.5 498 L206.1 499.88 L206.7 502.37 L207.3 505.05 L207.9 507.5 L208.55 509.96 L209.2 512.43 L209.85 514.63 L210.5 516.3 L211.18 517.62 L211.85 518.78 L212.52 519.67 L213.2 520.2 L213.89 520.4 L214.57 520.61 L215.26 520.81 L215.94 521 L216.63 521.16 L217.31 521.26 L218 521.3 L218.73 521.3 L219.47 521.3 L220.2 521.3 L220.93 521.3 L221.67 521.3 L222.4 521.3 L223.13 521.3 L223.87 521.3 L224.6 521.3 L225.33 521.3 L226.07 521.3 L226.8 521.3 L227.53 521.3 L228.27 521.3 L229 521.3 L229.73 521.3 L230.47 521.3 L231.2 521.3 L231.93 521.3 L232.67 521.3 L233.4 521.3 L234.13 521.3 L234.87 521.3 L235.6 521.3 L236.33 521.3 L237.07 521.3 L237.8 521.3 L238.53 521.3 L239.27 521.3 L240 521.3 L240.74 521.3 L241.48 521.3 L242.22 521.3 L242.96 521.29 L243.7 521.29 L244.44 521.29 L245.19 521.28 L245.93 521.28 L246.67 521.28 L247.41 521.27 L248.15 521.26 L248.89 521.26 L249.63 521.25 L250.37 521.24 L251.11 521.24 L251.85 521.23 L252.59 521.22 L253.33 521.21 L254.07 521.2 L254.81 521.19 L255.56 521.18 L256.3 521.17 L257.04 521.16 L257.78 521.15 L258.52 521.14 L259.26 521.13 L260 521.12 L260.74 521.1 L261.48 521.09 L262.22 521.08 L262.96 521.07 L263.7 521.06 L264.44 521.05 L265.19 521.03 L265.93 521.02 L266.67 521.01 L267.41 521 L268.15 520.98 L268.89 520.97 L269.63 520.96 L270.37 520.95 L271.11 520.93 L271.85 520.92 L272.59 520.91 L273.33 520.9 L274.07 520.89 L274.81 520.88 L275.56 520.86 L276.3 520.85 L277.04 520.84 L277.78 520.83 L278.52 520.82 L279.26 520.81 L280 520.8 L280.74 520.79 L281.48 520.78 L282.22 520.77 L282.97 520.76 L283.71 520.75 L284.45 520.74 L285.19 520.73 L285.93 520.72 L286.67 520.71 L287.41 520.7 L288.16 520.69 L288.9 520.68 L289.64 520.67 L290.38 520.66 L291.12 520.65 L291.86 520.64 L292.6 520.63 L293.34 520.62 L294.09 520.61 L294.83 520.6 L295.57 520.59 L296.31 520.57 L297.05 520.56 L297.79 520.55 L298.53 520.54 L299.28 520.53 L300.02 520.52 L300.76 520.51 L301.5 520.5 L305 515.7 L305.75 513.44 L306.5 511.4 L307.25 509.76 L308 508.7 L308.67 508.09 L309.33 507.54 L310 507.08 L310.67 506.71 L311.33 506.48 L312 506.4 L312.73 506.28 L313.45 506.17 L314.18 506.09 L314.91 506.03 L315.64 505.98 L316.36 505.95 L317.09 505.92 L317.82 505.91 L318.55 505.9 L319.27 505.9 L320 505.9 L320.75 505.96 L321.5 506.12 L322.25 506.36 L323 506.65 L323.75 506.97 L324.5 507.28 L325.25 507.57 L326 507.8 L326.67 507.99 L327.33 508.19 L328 508.38 L328.67 508.54 L329.33 508.66 L330 508.7 L330.75 508.68 L331.5 508.62 L332.25 508.52 L333 508.39 L333.75 508.22 L334.5 508.01 L335.25 507.77 L336 507.5 L336.64 507.03 L337.28 506.19 L337.92 505.08 L338.56 503.81 L339.2 502.5 L339.2 531 L312 531.2 L309 532 L305 535.5 L301.5 537.4 L300.76 537.41 L300.02 537.42 L299.28 537.42 L298.54 537.43 L297.79 537.44 L297.05 537.45 L296.31 537.45 L295.57 537.46 L294.83 537.47 L294.09 537.47 L293.35 537.48 L292.61 537.49 L291.87 537.49 L291.12 537.5 L290.38 537.5 L289.64 537.51 L288.9 537.51 L288.16 537.52 L287.42 537.52 L286.68 537.53 L285.94 537.53 L285.2 537.54 L284.46 537.54 L283.71 537.55 L282.97 537.55 L282.23 537.55 L281.49 537.56 L280.75 537.56 L280.01 537.56 L279.27 537.57 L278.53 537.57 L277.79 537.57 L277.04 537.57 L276.3 537.58 L275.56 537.58 L274.82 537.58 L274.08 537.58 L273.34 537.58 L272.6 537.59 L271.86 537.59 L271.12 537.59 L270.38 537.59 L269.63 537.59 L268.89 537.59 L268.15 537.59 L267.41 537.6 L266.67 537.6 L265.93 537.6 L265.19 537.6 L264.45 537.6 L263.71 537.6 L262.96 537.6 L262.22 537.6 L261.48 537.6 L260.74 537.6 L260 537.6 L259.25 537.6 L258.5 537.6 L257.75 537.6 L257 537.6 L256.25 537.6 L255.5 537.6 L254.75 537.59 L254 537.59 L253.25 537.59 L252.5 537.59 L251.75 537.59 L251 537.58 L250.25 537.58 L249.5 537.58 L248.75 537.57 L248 537.57 L247.25 537.57 L246.5 537.56 L245.75 537.56 L245 537.55 L244.25 537.55 L243.5 537.54 L242.75 537.54 L242 537.53 L241.25 537.53 L240.5 537.52 L239.75 537.51 L239 537.51 L238.25 537.5 L237.5 537.49 L236.75 537.48 L236 537.48 L235.25 537.47 L234.5 537.46 L233.75 537.45 L233 537.44 L232.25 537.43 L231.5 537.42 L230.75 537.41 L230 537.4 L229.29 537.39 L228.57 537.36 L227.86 537.33 L227.14 537.29 L226.43 537.24 L225.71 537.18 L225 537.12 L224.29 537.05 L223.57 536.97 L222.86 536.89 L222.14 536.8 L221.43 536.71 L220.71 536.6 L220 536.5 L219.3 536.37 L218.6 536.2 L217.9 536 L217.2 535.76 L216.5 535.49 L215.8 535.21 L215.1 534.9 L214.4 534.57 L213.7 534.24 L213 533.9 L212.25 532.79 L211.5 531.69 L210.75 530.57 L210 529.46 L209.25 528.35 L208.5 527.23 L207.75 526.12 L207 525 L206.29 523.93 L205.57 522.87 L204.86 521.8 L204.14 520.72 L203.43 519.65 L202.71 518.58 L202 517.5 L201.33 517.13 L200.67 516.77 L200 516.41 L199.33 516.07 L198.67 515.77 L198 515.5 L197.25 515.23 L196.5 514.98 L195.75 514.74 L195 514.5 L194.25 514.28 L193.5 514.06 L192.75 513.85 L192 513.65 L191.25 513.46 L190.5 513.27 L189.75 513.09 L189 512.92 L188.25 512.74 L187.5 512.57 L186.75 512.41 L186 512.24 L185.25 512.08 L184.5 511.91 L183.75 511.75 L183 511.58 L182.25 511.42 L181.5 511.25 L180.75 511.08 L180 510.9 L179.26 510.73 L178.52 510.55 L177.78 510.38 L177.04 510.21 L176.3 510.05 L175.56 509.88 L174.81 509.72 L174.07 509.56 L173.33 509.39 L172.59 509.23 L171.85 509.07 L171.11 508.91 L170.37 508.75 L169.63 508.6 L168.89 508.44 L168.15 508.28 L167.41 508.12 L166.67 507.96 L165.93 507.8 L165.19 507.64 L164.44 507.48 L163.7 507.32 L162.96 507.16 L162.22 507 L161.48 506.83 L160.74 506.67 L160 506.5 L159.25 506.33 L158.5 506.15 L157.75 505.98 L157 505.8 L156.25 505.62 L155.5 505.44 L154.75 505.26 L154 505.08 L153.25 504.89 L152.5 504.71 L151.75 504.53 L151 504.35 L150.25 504.17 L149.5 504 L148.75 503.82 L148 503.65 L147.25 503.48 L146.5 503.32 L145.75 503.16 L145 503 L144.33 502.86 L143.66 502.73 L142.99 502.6 L142.31 502.47 L141.64 502.35 L140.97 502.22 L140.3 502.1 L138.75 490.5 L138.06 490.1 L137.38 489.68 L136.69 489.23 L136 488.75 L135.34 488.26 L134.68 487.75 L134.01 487.22 L133.35 486.67 L132.69 486.09 L132.02 485.51 L131.36 484.91 L130.7 484.3 L129.97 483.61 L129.23 482.89 L128.5 482.14 L127.77 481.38 L127.03 480.6 L126.3 479.8 L125.55 478.96 L124.8 478.1 L124.05 477.22 L123.3 476.32 L122.55 475.41 L121.8 474.5 L121.08 473.53 L120.36 472.46 L119.64 471.42 L118.92 470.56 L118.2 470 L117.51 469.67 L116.82 469.36 L116.13 469.08 L115.44 468.83 L114.76 468.61 L114.07 468.44 L113.38 468.31 L112.69 468.23 L112 468.2 L107.5 487 L103.8 509.4 L59 509.6Z" fill="#bfbf00" fill-opacity="0.3" stroke="#bfbf00" stroke-opacity="0.3" stroke-width="0.9" stroke-linejoin="round"/>
<path d="M59 489 L103.6 489 L104.32 487.23 L105.05 485.61 L105.78 484.19 L106.5 483 L107.2 482.01 L107.9 481.13 L108.6 480.38 L109.3 479.8 L112.9 480.5 L113.6 482.45 L114.3 484.3 L115 485.99 L115.7 487.5 L116.4 488.75 L117.08 489.76 L117.75 490.66 L118.42 491.48 L119.1 492.23 L119.78 492.93 L120.45 493.61 L121.12 494.3 L121.8 495 L122.55 495.81 L123.3 496.61 L124.05 497.4 L124.8 498.15 L125.55 498.86 L126.3 499.5 L127.03 500.08 L127.77 500.64 L128.5 501.16 L129.23 501.65 L129.97 502.1 L130.7 502.5 L131.42 502.87 L132.14 503.22 L132.86 503.57 L133.58 503.89 L134.3 504.2 L135.02 504.49 L135.74 504.76 L136.46 505 L137.18 505.21 L137.9 505.4 L138.61 505.57 L139.32 505.73 L140.03 505.9 L140.74 506.05 L141.45 506.19 L142.16 506.31 L142.87 506.42 L143.58 506.5 L144.29 506.57 L145 506.6 L145.75 506.62 L146.5 506.64 L147.25 506.65 L148 506.66 L148.75 506.67 L149.5 506.68 L150.25 506.69 L151 506.7 L151.75 506.7 L152.5 506.71 L153.25 506.71 L154 506.72 L154.75 506.73 L155.5 506.73 L156.25 506.74 L157 506.75 L157.75 506.76 L158.5 506.77 L159.25 506.78 L160 506.8 L160.74 506.82 L161.48 506.85 L162.22 506.88 L162.96 506.93 L163.7 506.97 L164.44 507.03 L165.19 507.09 L165.93 507.16 L166.67 507.23 L167.41 507.3 L168.15 507.39 L168.89 507.47 L169.63 507.56 L170.37 507.66 L171.11 507.75 L171.85 507.85 L172.59 507.96 L173.33 508.06 L174.07 508.17 L174.81 508.29 L175.56 508.4 L176.3 508.51 L177.04 508.63 L177.78 508.75 L178.52 508.86 L179.26 508.98 L180 509.1 L180.75 509.22 L181.5 509.36 L182.25 509.5 L183 509.65 L183.75 509.81 L184.5 509.97 L185.25 510.15 L186 510.33 L186.75 510.51 L187.5 510.7 L188.25 510.9 L189 511.1 L189.75 511.3 L190.5 511.51 L191.25 511.72 L192 511.93 L192.75 512.15 L193.5 512.36 L194.25 512.58 L195 512.8 L195.71 513.02 L196.43 513.27 L197.14 513.53 L197.86 513.81 L198.57 514.09 L199.29 514.38 L200 514.67 L200.71 514.96 L201.43 515.23 L202.14 515.49 L202.86 515.74 L203.57 515.95 L204.29 516.14 L205 516.3 L205.74 516.44 L206.48 516.59 L207.22 516.73 L207.96 516.87 L208.7 517 L209.44 517.14 L210.19 517.27 L210.93 517.4 L211.67 517.52 L212.41 517.65 L213.15 517.76 L213.89 517.88 L214.63 517.98 L215.37 518.09 L216.11 518.18 L216.85 518.28 L217.59 518.36 L218.33 518.44 L219.07 518.51 L219.81 518.58 L220.56 518.63 L221.3 518.68 L222.04 518.72 L222.78 518.76 L223.52 518.78 L224.26 518.8 L225 518.8 L225.74 518.8 L226.49 518.8 L227.23 518.8 L227.98 518.8 L228.72 518.8 L229.47 518.8 L230.21 518.79 L230.96 518.79 L231.7 518.79 L232.45 518.79 L233.19 518.79 L233.94 518.78 L234.68 518.78 L235.43 518.78 L236.17 518.77 L236.91 518.77 L237.66 518.77 L238.4 518.76 L239.15 518.76 L239.89 518.75 L240.64 518.75 L241.38 518.74 L242.13 518.74 L242.87 518.74 L243.62 518.73 L244.36 518.73 L245.11 518.72 L245.85 518.72 L246.6 518.71 L247.34 518.7 L248.09 518.7 L248.83 518.69 L249.57 518.69 L250.32 518.68 L251.06 518.68 L251.81 518.67 L252.55 518.66 L253.3 518.66 L254.04 518.65 L254.79 518.64 L255.53 518.64 L256.28 518.63 L257.02 518.63 L257.77 518.62 L258.51 518.61 L259.26 518.61 L260 518.6 L260.74 518.59 L261.48 518.59 L262.22 518.58 L262.96 518.57 L263.71 518.56 L264.45 518.55 L265.19 518.55 L265.93 518.54 L266.67 518.53 L267.41 518.52 L268.15 518.51 L268.89 518.5 L269.63 518.49 L270.38 518.48 L271.12 518.46 L271.86 518.45 L272.6 518.44 L273.34 518.43 L274.08 518.42 L274.82 518.4 L275.56 518.39 L276.3 518.38 L277.04 518.36 L277.79 518.35 L278.53 518.34 L279.27 518.32 L280.01 518.31 L280.75 518.29 L281.49 518.28 L282.23 518.26 L282.97 518.25 L283.71 518.23 L284.46 518.22 L285.2 518.2 L285.94 518.18 L286.68 518.17 L287.42 518.15 L288.16 518.13 L288.9 518.12 L289.64 518.1 L290.38 518.08 L291.12 518.06 L291.87 518.05 L292.61 518.03 L293.35 518.01 L294.09 517.99 L294.83 517.97 L295.57 517.95 L296.31 517.94 L297.05 517.92 L297.79 517.9 L298.54 517.88 L299.28 517.86 L300.02 517.84 L300.76 517.82 L301.5 517.8 L305 515 L309 512 L315 511.5 L339.2 511.5 L339.2 529 L315 529.2 L309 529.8 L305 532 L301.5 533.5 L300.76 533.49 L300.02 533.48 L299.28 533.47 L298.54 533.46 L297.79 533.45 L297.05 533.44 L296.31 533.43 L295.57 533.42 L294.83 533.41 L294.09 533.4 L293.35 533.4 L292.61 533.39 L291.87 533.38 L291.12 533.37 L290.38 533.36 L289.64 533.35 L288.9 533.34 L288.16 533.33 L287.42 533.32 L286.68 533.31 L285.94 533.31 L285.2 533.3 L284.46 533.29 L283.71 533.28 L282.97 533.27 L282.23 533.26 L281.49 533.26 L280.75 533.25 L280.01 533.24 L279.27 533.23 L278.53 533.23 L277.79 533.22 L277.04 533.21 L276.3 533.21 L275.56 533.2 L274.82 533.19 L274.08 533.19 L273.34 533.18 L272.6 533.17 L271.86 533.17 L271.12 533.16 L270.38 533.16 L269.63 533.15 L268.89 533.15 L268.15 533.14 L267.41 533.14 L266.67 533.13 L265.93 533.13 L265.19 533.12 L264.45 533.12 L263.71 533.11 L262.96 533.11 L262.22 533.11 L261.48 533.11 L260.74 533.1 L260 533.1 L259.26 533.1 L258.51 533.1 L257.77 533.09 L257.03 533.09 L256.28 533.09 L255.54 533.09 L254.8 533.09 L254.05 533.08 L253.31 533.08 L252.57 533.08 L251.82 533.08 L251.08 533.08 L250.34 533.08 L249.59 533.08 L248.85 533.08 L248.11 533.07 L247.36 533.07 L246.62 533.07 L245.88 533.07 L245.14 533.07 L244.39 533.07 L243.65 533.07 L242.91 533.07 L242.16 533.07 L241.42 533.07 L240.68 533.07 L239.93 533.07 L239.19 533.07 L238.45 533.06 L237.7 533.06 L236.96 533.06 L236.22 533.06 L235.47 533.06 L234.73 533.06 L233.99 533.06 L233.24 533.06 L232.5 533.06 L231.76 533.06 L231.01 533.06 L230.27 533.06 L229.53 533.06 L228.78 533.06 L228.04 533.06 L227.3 533.06 L226.55 533.06 L225.81 533.05 L225.07 533.05 L224.32 533.05 L223.58 533.05 L222.84 533.05 L222.09 533.05 L221.35 533.05 L220.61 533.05 L219.86 533.05 L219.12 533.04 L218.38 533.04 L217.64 533.04 L216.89 533.04 L216.15 533.04 L215.41 533.04 L214.66 533.03 L213.92 533.03 L213.18 533.03 L212.43 533.03 L211.69 533.03 L210.95 533.02 L210.2 533.02 L209.46 533.02 L208.72 533.02 L207.97 533.01 L207.23 533.01 L206.49 533.01 L205.74 533 L205 533 L204.29 532.97 L203.57 532.9 L202.86 532.79 L202.14 532.64 L201.43 532.47 L200.71 532.27 L200 532.06 L199.29 531.83 L198.57 531.6 L197.86 531.36 L197.14 531.13 L196.43 530.9 L195.71 530.69 L195 530.5 L194.25 530.31 L193.5 530.11 L192.75 529.91 L192 529.71 L191.25 529.5 L190.5 529.29 L189.75 529.08 L189 528.88 L188.25 528.67 L187.5 528.46 L186.75 528.26 L186 528.06 L185.25 527.87 L184.5 527.68 L183.75 527.49 L183 527.32 L182.25 527.15 L181.5 526.99 L180.75 526.84 L180 526.7 L179.26 526.57 L178.52 526.44 L177.78 526.32 L177.04 526.19 L176.3 526.08 L175.56 525.96 L174.81 525.85 L174.07 525.73 L173.33 525.63 L172.59 525.52 L171.85 525.41 L171.11 525.31 L170.37 525.21 L169.63 525.12 L168.89 525.02 L168.15 524.93 L167.41 524.83 L166.67 524.74 L165.93 524.66 L165.19 524.57 L164.44 524.48 L163.7 524.4 L162.96 524.32 L162.22 524.24 L161.48 524.16 L160.74 524.08 L160 524 L159.25 523.92 L158.5 523.85 L157.75 523.79 L157 523.72 L156.25 523.66 L155.5 523.6 L154.75 523.54 L154 523.49 L153.25 523.43 L152.5 523.38 L151.75 523.32 L151 523.26 L150.25 523.21 L149.5 523.14 L148.75 523.08 L148 523.01 L147.25 522.94 L146.5 522.87 L145.75 522.79 L145 522.7 L144.28 522.61 L143.57 522.52 L142.85 522.42 L142.14 522.32 L141.43 522.22 L140.71 522.1 L140 521.99 L139.28 521.87 L138.56 521.74 L137.85 521.61 L137.13 521.47 L136.42 521.33 L135.7 521.19 L134.99 521.03 L134.27 520.87 L133.56 520.71 L132.84 520.54 L132.13 520.37 L131.41 520.19 L130.7 520 L129.96 519.8 L129.22 519.58 L128.47 519.35 L127.73 519.11 L126.99 518.85 L126.25 518.57 L125.51 518.27 L124.77 517.95 L124.02 517.6 L123.28 517.23 L122.54 516.83 L121.8 516.4 L121.12 515.96 L120.45 515.45 L119.78 514.87 L119.1 514.22 L118.42 513.51 L117.75 512.74 L117.08 511.9 L116.4 511 L115.7 509.92 L115 508.63 L114.3 507.16 L113.6 505.57 L112.9 503.9 L112.3 501.87 L111.7 499.87 L111.1 497.92 L110.5 496 L109.8 493.81 L109.1 491.68 L108.4 489.6 L107.8 490.67 L107.2 492.37 L106.6 494.54 L106 497 L105.4 500.04 L104.8 503.93 L104.2 508.5 L103.6 513.6 L59 513.8Z" fill="#008000" fill-opacity="0.3" stroke="#008000" stroke-opacity="0.3" stroke-width="0.9" stroke-linejoin="round"/>
<path d="M59 507.2 L103 506.8 L105.5 498 L107.5 492.3 L110.2 498.6 L112.9 506.6 L113.6 508.59 L114.3 510.5 L115 512.31 L115.7 513.98 L116.4 515.5 L117.08 516.85 L117.75 518.15 L118.42 519.38 L119.1 520.55 L119.78 521.66 L120.45 522.68 L121.12 523.63 L121.8 524.5 L122.55 525.39 L123.3 526.24 L124.05 527.02 L124.8 527.73 L125.55 528.36 L126.3 528.9 L127.03 529.37 L127.77 529.81 L128.5 530.2 L129.23 530.56 L129.97 530.86 L130.7 531.1 L131.42 531.3 L132.14 531.49 L132.86 531.67 L133.58 531.83 L134.3 531.98 L135.02 532.12 L135.74 532.24 L136.46 532.34 L137.18 532.43 L137.9 532.5 L138.61 532.56 L139.32 532.61 L140.03 532.67 L140.74 532.71 L141.45 532.75 L142.16 532.79 L142.87 532.82 L143.58 532.85 L144.29 532.88 L145 532.9 L145.74 532.92 L146.47 532.94 L147.21 532.96 L147.94 532.97 L148.68 532.99 L149.41 533 L150.15 533.02 L150.88 533.03 L151.62 533.04 L152.35 533.05 L153.09 533.06 L153.82 533.08 L154.56 533.09 L155.29 533.1 L156.03 533.1 L156.76 533.11 L157.5 533.12 L158.24 533.13 L158.97 533.14 L159.71 533.15 L160.44 533.16 L161.18 533.17 L161.91 533.17 L162.65 533.18 L163.38 533.19 L164.12 533.2 L164.85 533.21 L165.59 533.22 L166.32 533.23 L167.06 533.25 L167.79 533.26 L168.53 533.27 L169.26 533.29 L170 533.3 L170.75 533.32 L171.5 533.33 L172.25 533.35 L173 533.37 L173.75 533.39 L174.5 533.41 L175.25 533.43 L176 533.45 L176.75 533.48 L177.5 533.5 L178.25 533.52 L179 533.55 L179.75 533.57 L180.5 533.6 L181.25 533.62 L182 533.65 L182.75 533.67 L183.5 533.7 L184.25 533.73 L185 533.75 L185.75 533.78 L186.5 533.8 L187.25 533.83 L188 533.85 L188.75 533.88 L189.5 533.91 L190.25 533.93 L191 533.96 L191.75 533.98 L192.5 534 L193.25 534.03 L194 534.05 L194.75 534.07 L195.5 534.09 L196.25 534.11 L197 534.13 L197.75 534.15 L198.5 534.17 L199.25 534.18 L200 534.2 L200.74 534.21 L201.48 534.23 L202.22 534.24 L202.96 534.26 L203.7 534.27 L204.44 534.29 L205.19 534.3 L205.93 534.32 L206.67 534.33 L207.41 534.34 L208.15 534.36 L208.89 534.37 L209.63 534.38 L210.37 534.4 L211.11 534.41 L211.85 534.42 L212.59 534.44 L213.33 534.45 L214.07 534.46 L214.81 534.47 L215.56 534.49 L216.3 534.5 L217.04 534.51 L217.78 534.52 L218.52 534.53 L219.26 534.54 L220 534.55 L220.74 534.57 L221.48 534.58 L222.22 534.59 L222.96 534.6 L223.7 534.61 L224.44 534.62 L225.19 534.63 L225.93 534.64 L226.67 534.65 L227.41 534.66 L228.15 534.67 L228.89 534.68 L229.63 534.69 L230.37 534.7 L231.11 534.71 L231.85 534.71 L232.59 534.72 L233.33 534.73 L234.07 534.74 L234.81 534.75 L235.56 534.76 L236.3 534.76 L237.04 534.77 L237.78 534.78 L238.52 534.79 L239.26 534.79 L240 534.8 L240.75 534.81 L241.5 534.81 L242.25 534.82 L243 534.83 L243.75 534.83 L244.5 534.84 L245.25 534.85 L246 534.86 L246.75 534.86 L247.5 534.87 L248.25 534.88 L249 534.88 L249.75 534.89 L250.5 534.9 L251.25 534.9 L252 534.91 L252.75 534.92 L253.5 534.92 L254.25 534.93 L255 534.94 L255.75 534.94 L256.5 534.95 L257.25 534.96 L258 534.96 L258.75 534.97 L259.5 534.97 L260.25 534.98 L261 534.99 L261.75 534.99 L262.5 535 L263.25 535 L264 535.01 L264.75 535.02 L265.5 535.02 L266.25 535.03 L267 535.03 L267.75 535.04 L268.5 535.05 L269.25 535.05 L270 535.06 L270.75 535.06 L271.5 535.07 L272.25 535.07 L273 535.08 L273.75 535.08 L274.5 535.09 L275.25 535.09 L276 535.1 L276.75 535.1 L277.5 535.11 L278.25 535.11 L279 535.12 L279.75 535.12 L280.5 535.12 L281.25 535.13 L282 535.13 L282.75 535.14 L283.5 535.14 L284.25 535.14 L285 535.15 L285.75 535.15 L286.5 535.15 L287.25 535.16 L288 535.16 L288.75 535.16 L289.5 535.17 L290.25 535.17 L291 535.17 L291.75 535.18 L292.5 535.18 L293.25 535.18 L294 535.18 L294.75 535.19 L295.5 535.19 L296.25 535.19 L297 535.19 L297.75 535.19 L298.5 535.19 L299.25 535.2 L300 535.2 L300.75 535.2 L301.5 535.2 L305 531.5 L309 525.5 L313 521.8 L339.2 521.5 L339.2 531 L313 531.5 L309 535 L305 541 L301.5 544 L300.75 544.01 L300 544.03 L299.25 544.04 L298.5 544.05 L297.75 544.07 L297 544.08 L296.25 544.09 L295.5 544.11 L294.75 544.12 L294 544.13 L293.25 544.15 L292.5 544.16 L291.75 544.17 L291 544.18 L290.25 544.19 L289.5 544.2 L288.75 544.22 L288 544.23 L287.25 544.24 L286.5 544.25 L285.75 544.26 L285 544.27 L284.25 544.28 L283.5 544.29 L282.75 544.3 L282 544.31 L281.25 544.32 L280.5 544.33 L279.75 544.34 L279 544.35 L278.25 544.36 L277.5 544.37 L276.75 544.38 L276 544.39 L275.25 544.4 L274.5 544.4 L273.75 544.41 L273 544.42 L272.25 544.43 L271.5 544.44 L270.75 544.44 L270 544.45 L269.25 544.46 L268.5 544.47 L267.75 544.47 L267 544.48 L266.25 544.49 L265.5 544.49 L264.75 544.5 L264 544.5 L263.25 544.51 L262.5 544.52 L261.75 544.52 L261 544.53 L260.25 544.53 L259.5 544.54 L258.75 544.54 L258 544.55 L257.25 544.55 L256.5 544.55 L255.75 544.56 L255 544.56 L254.25 544.57 L253.5 544.57 L252.75 544.57 L252 544.58 L251.25 544.58 L250.5 544.58 L249.75 544.58 L249 544.59 L248.25 544.59 L247.5 544.59 L246.75 544.59 L246 544.59 L245.25 544.6 L244.5 544.6 L243.75 544.6 L243 544.6 L242.25 544.6 L241.5 544.6 L240.75 544.6 L240 544.6 L239.26 544.6 L238.52 544.6 L237.78 544.6 L237.04 544.6 L236.3 544.6 L235.56 544.6 L234.81 544.6 L234.07 544.6 L233.33 544.59 L232.59 544.59 L231.85 544.59 L231.11 544.59 L230.37 544.59 L229.63 544.59 L228.89 544.58 L228.15 544.58 L227.41 544.58 L226.67 544.58 L225.93 544.57 L225.19 544.57 L224.44 544.57 L223.7 544.56 L222.96 544.56 L222.22 544.56 L221.48 544.55 L220.74 544.55 L220 544.55 L219.26 544.54 L218.52 544.54 L217.78 544.53 L217.04 544.53 L216.3 544.53 L215.56 544.52 L214.81 544.52 L214.07 544.51 L213.33 544.51 L212.59 544.5 L211.85 544.5 L211.11 544.49 L210.37 544.49 L209.63 544.48 L208.89 544.48 L208.15 544.47 L207.41 544.46 L206.67 544.46 L205.93 544.45 L205.19 544.45 L204.44 544.44 L203.7 544.43 L202.96 544.43 L202.22 544.42 L201.48 544.41 L200.74 544.41 L200 544.4 L199.25 544.39 L198.5 544.38 L197.75 544.36 L197 544.35 L196.25 544.33 L195.5 544.3 L194.75 544.28 L194 544.25 L193.25 544.22 L192.5 544.19 L191.75 544.16 L191 544.12 L190.25 544.09 L189.5 544.05 L188.75 544.01 L188 543.97 L187.25 543.92 L186.5 543.88 L185.75 543.84 L185 543.8 L184.25 543.75 L183.5 543.71 L182.75 543.66 L182 543.62 L181.25 543.57 L180.5 543.53 L179.75 543.48 L179 543.44 L178.25 543.39 L177.5 543.35 L176.75 543.31 L176 543.27 L175.25 543.23 L174.5 543.19 L173.75 543.16 L173 543.12 L172.25 543.09 L171.5 543.06 L170.75 543.03 L170 543 L169.26 542.98 L168.53 542.95 L167.79 542.93 L167.06 542.91 L166.32 542.89 L165.59 542.87 L164.85 542.85 L164.12 542.83 L163.38 542.81 L162.65 542.79 L161.91 542.78 L161.18 542.76 L160.44 542.74 L159.71 542.73 L158.97 542.71 L158.24 542.7 L157.5 542.68 L156.76 542.66 L156.03 542.65 L155.29 542.63 L154.56 542.61 L153.82 542.59 L153.09 542.57 L152.35 542.55 L151.62 542.53 L150.88 542.51 L150.15 542.49 L149.41 542.47 L148.68 542.44 L147.94 542.42 L147.21 542.39 L146.47 542.36 L145.74 542.33 L145 542.3 L144.28 542.27 L143.57 542.23 L142.85 542.2 L142.14 542.16 L141.43 542.13 L140.71 542.08 L140 542.04 L139.28 541.99 L138.56 541.94 L137.85 541.89 L137.13 541.83 L136.42 541.77 L135.7 541.71 L134.99 541.64 L134.27 541.56 L133.56 541.48 L132.84 541.39 L132.13 541.3 L131.41 541.2 L130.7 541.1 L129.97 540.96 L129.23 540.75 L128.5 540.5 L127.77 540.22 L127.03 539.91 L126.3 539.6 L125.55 539.26 L124.8 538.9 L124.05 538.49 L123.3 538.04 L122.55 537.55 L121.8 537 L121.12 536.45 L120.45 535.82 L119.78 535.12 L119.1 534.35 L118.42 533.53 L117.75 532.64 L117.08 531.69 L116.4 530.7 L115.7 529.55 L115 528.24 L114.3 526.78 L113.6 525.23 L112.9 523.6 L110.2 518.2 L107.5 512.9 L105.5 517 L103 525.8 L59 526.2Z" fill="#0000ff" fill-opacity="0.3" stroke="#0000ff" stroke-opacity="0.3" stroke-width="0.9" stroke-linejoin="round"/>
<path d="M59 502.9 L103.9 502.9 L104.6 499.45 L105.3 496.15 L106 493 L106.67 490.14 L107.33 487.4 L108 484.8 L110.2 491.4 L112.9 498.6 L113.6 500.07 L114.3 501.44 L115 502.7 L115.7 503.82 L116.4 504.8 L117.12 505.68 L117.84 506.48 L118.56 507.2 L119.28 507.84 L120 508.4 L120.67 508.87 L121.35 509.32 L122.03 509.73 L122.7 510.11 L123.38 510.46 L124.05 510.8 L124.73 511.11 L125.4 511.4 L126.06 511.67 L126.72 511.93 L127.39 512.18 L128.05 512.41 L128.71 512.63 L129.38 512.84 L130.04 513.03 L130.7 513.2 L131.42 513.37 L132.14 513.54 L132.86 513.69 L133.58 513.84 L134.3 513.98 L135.02 514.11 L135.74 514.24 L136.46 514.36 L137.18 514.48 L137.9 514.6 L138.61 514.72 L139.32 514.83 L140.03 514.95 L140.74 515.06 L141.45 515.17 L142.16 515.27 L142.87 515.36 L143.58 515.45 L144.29 515.53 L145 515.6 L145.75 515.66 L146.5 515.72 L147.25 515.78 L148 515.83 L148.75 515.88 L149.5 515.92 L150.25 515.96 L151 516 L151.75 516.04 L152.5 516.08 L153.25 516.12 L154 516.15 L154.75 516.19 L155.5 516.23 L156.25 516.27 L157 516.31 L157.75 516.35 L158.5 516.4 L159.25 516.45 L160 516.5 L160.75 516.55 L161.5 516.61 L162.25 516.66 L163 516.72 L163.75 516.77 L164.5 516.83 L165.25 516.89 L166 516.95 L166.75 517.01 L167.5 517.07 L168.25 517.14 L169 517.21 L169.75 517.28 L170.5 517.35 L171.25 517.43 L172 517.52 L172.75 517.61 L173.5 517.7 L174.25 517.8 L175 517.9 L175.71 518.01 L176.43 518.14 L177.14 518.29 L177.86 518.45 L178.57 518.62 L179.29 518.81 L180 519 L180.71 519.21 L181.43 519.42 L182.14 519.63 L182.86 519.85 L183.57 520.07 L184.29 520.29 L185 520.5 L185.71 520.72 L186.43 520.96 L187.14 521.21 L187.86 521.47 L188.57 521.74 L189.29 522.01 L190 522.28 L190.71 522.56 L191.43 522.82 L192.14 523.08 L192.86 523.33 L193.57 523.57 L194.29 523.8 L195 524 L195.73 524.2 L196.45 524.39 L197.18 524.59 L197.91 524.78 L198.64 524.96 L199.36 525.13 L200.09 525.29 L200.82 525.44 L201.55 525.58 L202.27 525.7 L203 525.8 L203.75 525.89 L204.5 525.99 L205.25 526.08 L206 526.17 L206.75 526.25 L207.5 526.34 L208.25 526.42 L209 526.49 L209.75 526.56 L210.5 526.62 L211.25 526.67 L212 526.71 L212.75 526.75 L213.5 526.78 L214.25 526.79 L215 526.8 L215.75 526.8 L216.5 526.8 L217.25 526.8 L218 526.8 L218.75 526.8 L219.5 526.8 L220.25 526.79 L221 526.79 L221.75 526.79 L222.5 526.79 L223.25 526.79 L224 526.78 L224.75 526.78 L225.5 526.78 L226.25 526.78 L227 526.77 L227.75 526.77 L228.5 526.77 L229.25 526.76 L230 526.76 L230.75 526.75 L231.5 526.75 L232.25 526.75 L233 526.74 L233.75 526.74 L234.5 526.73 L235.25 526.73 L236 526.72 L236.75 526.72 L237.5 526.71 L238.25 526.71 L239 526.7 L239.75 526.69 L240.5 526.69 L241.25 526.68 L242 526.68 L242.75 526.67 L243.5 526.66 L244.25 526.66 L245 526.65 L245.75 526.64 L246.5 526.64 L247.25 526.63 L248 526.62 L248.75 526.62 L249.5 526.61 L250.25 526.6 L251 526.59 L251.75 526.59 L252.5 526.58 L253.25 526.57 L254 526.56 L254.75 526.56 L255.5 526.55 L256.25 526.54 L257 526.53 L257.75 526.52 L258.5 526.52 L259.25 526.51 L260 526.5 L260.75 526.49 L261.5 526.48 L262.25 526.47 L263 526.46 L263.75 526.45 L264.5 526.44 L265.25 526.43 L266 526.41 L266.75 526.4 L267.5 526.39 L268.25 526.37 L269 526.36 L269.75 526.34 L270.5 526.33 L271.25 526.31 L272 526.29 L272.75 526.27 L273.5 526.26 L274.25 526.24 L275 526.22 L275.75 526.2 L276.5 526.18 L277.25 526.16 L278 526.14 L278.75 526.11 L279.5 526.09 L280.25 526.07 L281 526.05 L281.75 526.03 L282.5 526 L283.25 525.98 L284 525.95 L284.75 525.93 L285.5 525.91 L286.25 525.88 L287 525.86 L287.75 525.83 L288.5 525.8 L289.25 525.78 L290 525.75 L290.75 525.72 L291.5 525.7 L292.25 525.67 L293 525.64 L293.75 525.62 L294.5 525.59 L295.25 525.56 L296 525.53 L296.75 525.5 L297.5 525.47 L298.25 525.45 L299 525.42 L299.75 525.39 L300.5 525.36 L301.25 525.33 L302 525.3 L305 524 L309 521.8 L315 520.9 L339.2 520.4" fill="none" stroke="#008000" stroke-width="1.875" stroke-linejoin="round" stroke-linecap="butt" />
<path d="M59 518.6 L59.74 518.6 L60.48 518.6 L61.21 518.6 L61.95 518.59 L62.69 518.59 L63.43 518.58 L64.17 518.58 L64.9 518.57 L65.64 518.56 L66.38 518.56 L67.12 518.55 L67.86 518.54 L68.6 518.53 L69.33 518.51 L70.07 518.5 L70.81 518.49 L71.55 518.47 L72.29 518.46 L73.02 518.44 L73.76 518.43 L74.5 518.41 L75.24 518.39 L75.98 518.38 L76.71 518.36 L77.45 518.34 L78.19 518.32 L78.93 518.29 L79.67 518.27 L80.4 518.25 L81.14 518.23 L81.88 518.2 L82.62 518.18 L83.36 518.15 L84.1 518.13 L84.83 518.1 L85.57 518.07 L86.31 518.05 L87.05 518.02 L87.79 517.99 L88.52 517.96 L89.26 517.93 L90 517.9 L90.72 517.87 L91.44 517.82 L92.17 517.77 L92.89 517.71 L93.61 517.64 L94.33 517.57 L95.06 517.49 L95.78 517.4 L96.5 517.31 L97.22 517.22 L97.94 517.12 L98.67 517.02 L99.39 516.92 L100.11 516.82 L100.83 516.71 L101.56 516.61 L102.28 516.5 L103 516.4 L104.8 515.5 L105.45 512.59 L106.1 510.2 L106.7 508.41 L107.3 506.87 L107.9 505.7 L110.2 511 L112.9 518.2 L115.5 524.5 L116.17 525.75 L116.85 526.92 L117.53 527.98 L118.2 528.9 L118.92 529.76 L119.64 530.56 L120.36 531.27 L121.08 531.92 L121.8 532.5 L122.55 533.05 L123.3 533.57 L124.05 534.04 L124.8 534.48 L125.55 534.86 L126.3 535.2 L127.03 535.49 L127.77 535.76 L128.5 536 L129.23 536.22 L129.97 536.42 L130.7 536.6 L131.42 536.77 L132.14 536.92 L132.86 537.07 L133.58 537.21 L134.3 537.35 L135.02 537.47 L135.74 537.59 L136.46 537.7 L137.18 537.8 L137.9 537.9 L138.61 537.99 L139.32 538.09 L140.03 538.18 L140.74 538.28 L141.45 538.36 L142.16 538.44 L142.87 538.51 L143.58 538.56 L144.29 538.59 L145 538.6 L145.74 538.6 L146.47 538.6 L147.21 538.59 L147.94 538.59 L148.68 538.58 L149.41 538.58 L150.15 538.57 L150.88 538.56 L151.62 538.55 L152.35 538.54 L153.09 538.53 L153.82 538.51 L154.56 538.5 L155.29 538.49 L156.03 538.48 L156.76 538.46 L157.5 538.45 L158.24 538.44 L158.97 538.42 L159.71 538.41 L160.44 538.4 L161.18 538.39 L161.91 538.37 L162.65 538.36 L163.38 538.35 L164.12 538.34 L164.85 538.33 L165.59 538.32 L166.32 538.32 L167.06 538.31 L167.79 538.31 L168.53 538.3 L169.26 538.3 L170 538.3 L170.75 538.3 L171.5 538.3 L172.25 538.31 L173 538.32 L173.75 538.33 L174.5 538.34 L175.25 538.35 L176 538.36 L176.75 538.38 L177.5 538.39 L178.25 538.41 L179 538.43 L179.75 538.45 L180.5 538.47 L181.25 538.49 L182 538.51 L182.75 538.53 L183.5 538.55 L184.25 538.58 L185 538.6 L185.75 538.63 L186.5 538.66 L187.25 538.69 L188 538.73 L188.75 538.78 L189.5 538.83 L190.25 538.88 L191 538.93 L191.75 538.99 L192.5 539.05 L193.25 539.11 L194 539.16 L194.75 539.22 L195.5 539.28 L196.25 539.34 L197 539.4 L197.75 539.45 L198.5 539.5 L199.25 539.55 L200 539.6 L200.75 539.65 L201.5 539.69 L202.25 539.74 L203 539.79 L203.75 539.84 L204.5 539.89 L205.25 539.95 L206 540 L206.75 540.05 L207.5 540.09 L208.25 540.14 L209 540.18 L209.75 540.22 L210.5 540.26 L211.25 540.3 L212 540.33 L212.75 540.35 L213.5 540.37 L214.25 540.39 L215 540.4 L215.75 540.41 L216.5 540.41 L217.25 540.42 L218 540.43 L218.75 540.43 L219.5 540.44 L220.25 540.45 L221 540.45 L221.75 540.46 L222.5 540.46 L223.25 540.47 L224 540.48 L224.75 540.48 L225.5 540.49 L226.25 540.49 L227 540.5 L227.75 540.5 L228.5 540.51 L229.25 540.51 L230 540.52 L230.75 540.52 L231.5 540.52 L232.25 540.53 L233 540.53 L233.75 540.54 L234.5 540.54 L235.25 540.54 L236 540.55 L236.75 540.55 L237.5 540.55 L238.25 540.56 L239 540.56 L239.75 540.56 L240.5 540.57 L241.25 540.57 L242 540.57 L242.75 540.57 L243.5 540.58 L244.25 540.58 L245 540.58 L245.75 540.58 L246.5 540.58 L247.25 540.59 L248 540.59 L248.75 540.59 L249.5 540.59 L250.25 540.59 L251 540.59 L251.75 540.59 L252.5 540.6 L253.25 540.6 L254 540.6 L254.75 540.6 L255.5 540.6 L256.25 540.6 L257 540.6 L257.75 540.6 L258.5 540.6 L259.25 540.6 L260 540.6 L260.75 540.6 L261.5 540.6 L262.25 540.6 L263 540.59 L263.75 540.59 L264.5 540.58 L265.25 540.58 L266 540.57 L266.75 540.56 L267.5 540.56 L268.25 540.55 L269 540.54 L269.75 540.53 L270.5 540.52 L271.25 540.51 L272 540.49 L272.75 540.48 L273.5 540.47 L274.25 540.45 L275 540.44 L275.75 540.42 L276.5 540.41 L277.25 540.39 L278 540.37 L278.75 540.35 L279.5 540.34 L280.25 540.32 L281 540.3 L281.75 540.28 L282.5 540.26 L283.25 540.24 L284 540.21 L284.75 540.19 L285.5 540.17 L286.25 540.15 L287 540.12 L287.75 540.1 L288.5 540.08 L289.25 540.05 L290 540.03 L290.75 540 L291.5 539.98 L292.25 539.95 L293 539.93 L293.75 539.9 L294.5 539.87 L295.25 539.85 L296 539.82 L296.75 539.79 L297.5 539.77 L298.25 539.74 L299 539.71 L299.75 539.68 L300.5 539.66 L301.25 539.63 L302 539.6 L305 536 L310 528.5 L315 525.5 L339.2 525" fill="none" stroke="#0000ff" stroke-width="1.875" stroke-linejoin="round" stroke-linecap="butt" />
<path d="M59 497.7 L103.9 498 L104.55 495 L105.2 492 L105.85 489 L106.5 486 L107.15 483 L107.8 480 L108.54 476.58 L109.28 473.16 L110.02 469.74 L110.76 466.32 L111.5 462.9 L115.5 463.5 L116.17 463.89 L116.85 464.37 L117.53 464.9 L118.2 465.5 L118.92 466.26 L119.64 467.17 L120.36 468.16 L121.08 469.12 L121.8 470 L122.55 470.81 L123.3 471.58 L124.05 472.32 L124.8 473.04 L125.55 473.76 L126.3 474.5 L127.03 475.23 L127.77 475.97 L128.5 476.7 L129.23 477.43 L129.97 478.17 L130.7 478.9 L131.45 479.66 L132.2 480.42 L132.95 481.19 L133.7 481.95 L134.45 482.69 L135.2 483.4 L135.93 484.08 L136.67 484.75 L137.4 485.41 L138.13 486.04 L138.87 486.64 L139.6 487.2 L140.28 487.68 L140.95 488.14 L141.62 488.58 L142.3 489.01 L142.97 489.42 L143.65 489.82 L144.32 490.21 L145 490.6 L145.75 491.02 L146.49 491.44 L147.24 491.85 L147.98 492.25 L148.73 492.65 L149.47 493.03 L150.22 493.41 L150.96 493.78 L151.71 494.13 L152.45 494.47 L153.2 494.8 L153.91 495.1 L154.62 495.4 L155.33 495.69 L156.04 495.97 L156.75 496.24 L157.45 496.5 L158.16 496.76 L158.87 497.01 L159.58 497.25 L160.29 497.48 L161 497.7 L161.75 497.92 L162.49 498.13 L163.24 498.33 L163.98 498.53 L164.73 498.72 L165.47 498.9 L166.22 499.08 L166.96 499.26 L167.71 499.44 L168.45 499.62 L169.2 499.8 L169.94 499.98 L170.67 500.16 L171.41 500.34 L172.14 500.51 L172.88 500.69 L173.61 500.87 L174.34 501.04 L175.08 501.21 L175.81 501.39 L176.55 501.56 L177.28 501.73 L178.02 501.9 L178.75 502.07 L179.49 502.23 L180.22 502.4 L180.96 502.56 L181.69 502.72 L182.43 502.88 L183.16 503.04 L183.9 503.2 L184.62 503.35 L185.34 503.5 L186.06 503.65 L186.79 503.8 L187.51 503.95 L188.23 504.1 L188.95 504.24 L189.67 504.39 L190.39 504.53 L191.11 504.67 L191.84 504.8 L192.56 504.94 L193.28 505.07 L194 505.2 L194.72 505.33 L195.43 505.45 L196.15 505.58 L196.87 505.7 L197.58 505.82 L198.3 505.93 L199.02 506.05 L199.73 506.16 L200.45 506.28 L201.17 506.39 L201.88 506.49 L202.6 506.6 L203.28 507.88 L203.95 509.36 L204.62 511.01 L205.3 512.8 L205.95 514.84 L206.6 517.19 L207.25 519.55 L207.9 521.6 L208.55 523.39 L209.2 525.09 L209.85 526.56 L210.5 527.7 L211.2 528.65 L211.9 529.48 L212.6 530.18 L213.3 530.76 L214 531.2 L214.66 531.53 L215.32 531.84 L215.99 532.12 L216.65 532.37 L217.31 532.58 L217.98 532.76 L218.64 532.9 L219.3 533 L220.01 533.08 L220.73 533.16 L221.44 533.23 L222.15 533.29 L222.87 533.35 L223.58 533.41 L224.29 533.46 L225.01 533.5 L225.72 533.55 L226.43 533.58 L227.15 533.61 L227.86 533.64 L228.57 533.66 L229.29 533.68 L230 533.7 L230.75 533.71 L231.5 533.73 L232.25 533.74 L233 533.76 L233.75 533.77 L234.5 533.78 L235.25 533.79 L236 533.81 L236.75 533.82 L237.5 533.83 L238.25 533.84 L239 533.85 L239.75 533.86 L240.5 533.87 L241.25 533.88 L242 533.89 L242.75 533.9 L243.5 533.91 L244.25 533.92 L245 533.92 L245.75 533.93 L246.5 533.94 L247.25 533.94 L248 533.95 L248.75 533.96 L249.5 533.96 L250.25 533.97 L251 533.97 L251.75 533.98 L252.5 533.98 L253.25 533.98 L254 533.99 L254.75 533.99 L255.5 533.99 L256.25 534 L257 534 L257.75 534 L258.5 534 L259.25 534 L260 534 L260.75 534 L261.5 534 L262.25 534 L263 534 L263.75 534 L264.5 533.99 L265.25 533.99 L266 533.99 L266.75 533.99 L267.5 533.99 L268.25 533.98 L269 533.98 L269.75 533.97 L270.5 533.97 L271.25 533.97 L272 533.96 L272.75 533.96 L273.5 533.95 L274.25 533.95 L275 533.94 L275.75 533.93 L276.5 533.93 L277.25 533.92 L278 533.91 L278.75 533.9 L279.5 533.9 L280.25 533.89 L281 533.88 L281.75 533.87 L282.5 533.86 L283.25 533.85 L284 533.84 L284.75 533.83 L285.5 533.82 L286.25 533.81 L287 533.8 L287.75 533.79 L288.5 533.78 L289.25 533.76 L290 533.75 L290.75 533.74 L291.5 533.72 L292.25 533.71 L293 533.7 L293.75 533.68 L294.5 533.67 L295.25 533.65 L296 533.64 L296.75 533.62 L297.5 533.6 L298.25 533.59 L299 533.57 L299.75 533.55 L300.5 533.54 L301.25 533.52 L302 533.5 L302.75 532.72 L303.5 531.5 L304.25 529.76 L305 527.4 L305.75 524.71 L306.5 522.3 L307.25 520.38 L308 519.2 L308.67 518.58 L309.33 518.02 L310 517.56 L310.67 517.21 L311.33 516.98 L312 516.9 L312.73 517.04 L313.45 517.18 L314.18 517.32 L314.91 517.45 L315.64 517.58 L316.36 517.7 L317.09 517.82 L317.82 517.92 L318.55 518.02 L319.27 518.12 L320 518.2 L320.71 518.28 L321.43 518.36 L322.14 518.44 L322.86 518.52 L323.57 518.59 L324.29 518.67 L325 518.74 L325.71 518.8 L326.43 518.86 L327.14 518.9 L327.86 518.94 L328.57 518.97 L329.29 518.99 L330 519 L330.67 518.94 L331.33 518.77 L332 518.51 L332.67 518.2 L333.33 517.85 L334 517.5 L334.75 517 L335.5 516.35 L336.25 515.65 L337 515 L337.73 514.42 L338.47 513.85 L339.2 513.3" fill="none" stroke="#bfbf00" stroke-width="1.875" stroke-linejoin="round" stroke-linecap="butt" />
</g>
<g id="axes" stroke="#000" stroke-width="1.35" fill="none">
<rect x="59" y="6.5" width="280.2" height="108.95"/>
<rect x="59" y="115.45" width="280.2" height="108.95"/>
<rect x="59" y="224.4" width="280.2" height="108.95"/>
<rect x="59" y="333.35" width="280.2" height="108.95"/>
<rect x="59" y="442.3" width="280.2" height="108.95"/>
</g>
<g stroke="#000" stroke-width="1">
<line x1="54.62" y1="115.45" x2="59" y2="115.45"/>
<line x1="54.62" y1="88.21" x2="59" y2="88.21"/>
<line x1="54.62" y1="60.98" x2="59" y2="60.98"/>
<line x1="54.62" y1="33.74" x2="59" y2="33.74"/>
<line x1="54.62" y1="6.5" x2="59" y2="6.5"/>
<line x1="54.62" y1="224.4" x2="59" y2="224.4"/>
<line x1="54.62" y1="197.16" x2="59" y2="197.16"/>
<line x1="54.62" y1="169.93" x2="59" y2="169.93"/>
<line x1="54.62" y1="142.69" x2="59" y2="142.69"/>
<line x1="54.62" y1="332.5" x2="59" y2="332.5"/>
<line x1="54.62" y1="304.67" x2="59" y2="304.67"/>
<line x1="54.62" y1="276.83" x2="59" y2="276.83"/>
<line x1="54.62" y1="249" x2="59" y2="249"/>
<line x1="54.62" y1="442.3" x2="59" y2="442.3"/>
<line x1="54.62" y1="405.8" x2="59" y2="405.8"/>
<line x1="54.62" y1="369.3" x2="59" y2="369.3"/>
<line x1="54.62" y1="551.25" x2="59" y2="551.25"/>
<line x1="54.62" y1="519.33" x2="59" y2="519.33"/>
<line x1="54.62" y1="487.42" x2="59" y2="487.42"/>
<line x1="54.62" y1="455.5" x2="59" y2="455.5"/>
<line x1="59" y1="551.25" x2="59" y2="555.62"/>
<line x1="100.25" y1="551.25" x2="100.25" y2="555.62"/>
<line x1="141.5" y1="551.25" x2="141.5" y2="555.62"/>
<line x1="182.75" y1="551.25" x2="182.75" y2="555.62"/>
<line x1="224" y1="551.25" x2="224" y2="555.62"/>
<line x1="265.25" y1="551.25" x2="265.25" y2="555.62"/>
<line x1="306.5" y1="551.25" x2="306.5" y2="555.62"/>
</g>
<text x="50.25" y="120.45" style="font-family:'Liberation Sans',sans-serif;font-size:13.25px" fill="#000" text-anchor="end" textLength="19.88" lengthAdjust="spacingAndGlyphs" >0.0</text>
<text x="50.25" y="93.21" style="font-family:'Liberation Sans',sans-serif;font-size:13.25px" fill="#000" text-anchor="end" textLength="19.88" lengthAdjust="spacingAndGlyphs" >0.5</text>
<text x="50.25" y="65.97" style="font-family:'Liberation Sans',sans-serif;font-size:13.25px" fill="#000" text-anchor="end" textLength="19.88" lengthAdjust="spacingAndGlyphs" >1.0</text>
<text x="50.25" y="38.74" style="font-family:'Liberation Sans',sans-serif;font-size:13.25px" fill="#000" text-anchor="end" textLength="19.88" lengthAdjust="spacingAndGlyphs" >1.5</text>
<text x="50.25" y="11.5" style="font-family:'Liberation Sans',sans-serif;font-size:13.25px" fill="#000" text-anchor="end" textLength="19.88" lengthAdjust="spacingAndGlyphs" >2.0</text>
<text x="50.25" y="229.4" style="font-family:'Liberation Sans',sans-serif;font-size:13.25px" fill="#000" text-anchor="end" textLength="19.88" lengthAdjust="spacingAndGlyphs" >0.0</text>
<text x="50.25" y="202.16" style="font-family:'Liberation Sans',sans-serif;font-size:13.25px" fill="#000" text-anchor="end" textLength="19.88" lengthAdjust="spacingAndGlyphs" >0.5</text>
<text x="50.25" y="174.93" style="font-family:'Liberation Sans',sans-serif;font-size:13.25px" fill="#000" text-anchor="end" textLength="19.88" lengthAdjust="spacingAndGlyphs" >1.0</text>
<text x="50.25" y="147.69" style="font-family:'Liberation Sans',sans-serif;font-size:13.25px" fill="#000" text-anchor="end" textLength="19.88" lengthAdjust="spacingAndGlyphs" >1.5</text>
<text x="50.25" y="337.5" style="font-family:'Liberation Sans',sans-serif;font-size:13.25px" fill="#000" text-anchor="end" textLength="19.88" lengthAdjust="spacingAndGlyphs" >1.5</text>
<text x="50.25" y="309.67" style="font-family:'Liberation Sans',sans-serif;font-size:13.25px" fill="#000" text-anchor="end" textLength="19.88" lengthAdjust="spacingAndGlyphs" >2.0</text>
<text x="50.25" y="281.83" style="font-family:'Liberation Sans',sans-serif;font-size:13.25px" fill="#000" text-anchor="end" textLength="19.88" lengthAdjust="spacingAndGlyphs" >2.5</text>
<text x="50.25" y="254" style="font-family:'Liberation Sans',sans-serif;font-size:13.25px" fill="#000" text-anchor="end" textLength="19.88" lengthAdjust="spacingAndGlyphs" >3.0</text>
<text x="50.25" y="447.3" style="font-family:'Liberation Sans',sans-serif;font-size:13.25px" fill="#000" text-anchor="end" textLength="19.88" lengthAdjust="spacingAndGlyphs" >0.0</text>
<text x="50.25" y="410.8" style="font-family:'Liberation Sans',sans-serif;font-size:13.25px" fill="#000" text-anchor="end" textLength="19.88" lengthAdjust="spacingAndGlyphs" >2.0</text>
<text x="50.25" y="374.3" style="font-family:'Liberation Sans',sans-serif;font-size:13.25px" fill="#000" text-anchor="end" textLength="19.88" lengthAdjust="spacingAndGlyphs" >4.0</text>
<text x="50.25" y="556.25" style="font-family:'Liberation Sans',sans-serif;font-size:13.25px" fill="#000" text-anchor="end" textLength="19.88" lengthAdjust="spacingAndGlyphs" >0.0</text>
<text x="50.25" y="524.33" style="font-family:'Liberation Sans',sans-serif;font-size:13.25px" fill="#000" text-anchor="end" textLength="19.88" lengthAdjust="spacingAndGlyphs" >2.5</text>
<text x="50.25" y="492.42" style="font-family:'Liberation Sans',sans-serif;font-size:13.25px" fill="#000" text-anchor="end" textLength="19.88" lengthAdjust="spacingAndGlyphs" >5.0</text>
<text x="50.25" y="460.5" style="font-family:'Liberation Sans',sans-serif;font-size:13.25px" fill="#000" text-anchor="end" textLength="19.88" lengthAdjust="spacingAndGlyphs" >7.5</text>
<text x="59" y="570.6" style="font-family:'Liberation Sans',sans-serif;font-size:13.25px" fill="#000" text-anchor="middle" textLength="27.83" lengthAdjust="spacingAndGlyphs" >0.45</text>
<text x="100.25" y="570.6" style="font-family:'Liberation Sans',sans-serif;font-size:13.25px" fill="#000" text-anchor="middle" textLength="27.83" lengthAdjust="spacingAndGlyphs" >0.50</text>
<text x="141.5" y="570.6" style="font-family:'Liberation Sans',sans-serif;font-size:13.25px" fill="#000" text-anchor="middle" textLength="27.83" lengthAdjust="spacingAndGlyphs" >0.55</text>
<text x="182.75" y="570.6" style="font-family:'Liberation Sans',sans-serif;font-size:13.25px" fill="#000" text-anchor="middle" textLength="27.83" lengthAdjust="spacingAndGlyphs" >0.60</text>
<text x="224" y="570.6" style="font-family:'Liberation Sans',sans-serif;font-size:13.25px" fill="#000" text-anchor="middle" textLength="27.83" lengthAdjust="spacingAndGlyphs" >0.65</text>
<text x="265.25" y="570.6" style="font-family:'Liberation Sans',sans-serif;font-size:13.25px" fill="#000" text-anchor="middle" textLength="27.83" lengthAdjust="spacingAndGlyphs" >0.70</text>
<text x="306.5" y="570.6" style="font-family:'Liberation Sans',sans-serif;font-size:13.25px" fill="#000" text-anchor="middle" textLength="27.83" lengthAdjust="spacingAndGlyphs" >0.75</text>
<text x="199.2" y="588.5" style="font-family:'Liberation Sans',sans-serif;font-size:13.25px" fill="#000" text-anchor="middle" textLength="50.83" lengthAdjust="spacingAndGlyphs" >Time [s]</text>
<text x="328.2" y="27" style="font-family:'Liberation Sans',sans-serif;font-size:16.01px" fill="#000" text-anchor="end" textLength="82.91" lengthAdjust="spacingAndGlyphs" >ECH power</text>
<text x="328.2" y="135.95" style="font-family:'Liberation Sans',sans-serif;font-size:16.01px" fill="#000" text-anchor="end" textLength="64.68" lengthAdjust="spacingAndGlyphs" >DCN H-1</text>
<text x="328.2" y="244.9" style="font-family:'Liberation Sans',sans-serif;font-size:16.01px" fill="#000" text-anchor="end" textLength="64.72" lengthAdjust="spacingAndGlyphs" >Gas flow</text>
<text x="328.2" y="353.85" style="font-family:'Liberation Sans',sans-serif;font-size:16.01px" fill="#000" text-anchor="end" textLength="71.46" lengthAdjust="spacingAndGlyphs" >B vertical</text>
<text x="328.2" y="462.8" style="font-family:'Liberation Sans',sans-serif;font-size:16.01px" fill="#000" text-anchor="end" textLength="126.07" lengthAdjust="spacingAndGlyphs" >AUG manometer</text>
<text x="62.4" y="23.5" style="font-family:'Liberation Serif',serif;font-size:17.5px" stroke="#000" stroke-width="0.3">a</text>
<text x="62.4" y="132.5" style="font-family:'Liberation Serif',serif;font-size:17.5px" stroke="#000" stroke-width="0.3">b</text>
<text x="62.4" y="241.3" style="font-family:'Liberation Serif',serif;font-size:17.5px" stroke="#000" stroke-width="0.3">c</text>
<text x="62.4" y="349.2" style="font-family:'Liberation Serif',serif;font-size:17.5px" stroke="#000" stroke-width="0.3">d</text>
<text x="62.4" y="458" style="font-family:'Liberation Serif',serif;font-size:17.5px" stroke="#000" stroke-width="0.3">e</text>
<text x="207.3" y="89.1" style="font-family:'Liberation Sans',sans-serif;font-size:13.25px" fill="#6495ed" text-anchor="start" textLength="115.92" lengthAdjust="spacingAndGlyphs" >Stray 39358 [A.U.]</text>
<g transform="translate(21.4 62.5) rotate(-90)"><text x="-16.45" y="0" style="font-family:'Liberation Sans',sans-serif;font-size:13.25px" textLength="32.9" lengthAdjust="spacingAndGlyphs">[MW]</text></g>
<g transform="translate(19.9 170.2) rotate(-90)"><text x="-37.46" y="0" style="font-family:'Liberation Sans',sans-serif;font-size:13.25px" textLength="64.48" lengthAdjust="spacingAndGlyphs">[1e19 e/m</text><text x="27.02" y="-5" style="font-family:'Liberation Sans',sans-serif;font-size:9.28px" textLength="5.57" lengthAdjust="spacingAndGlyphs">2</text><text x="32.58" y="0" style="font-family:'Liberation Sans',sans-serif;font-size:13.25px" textLength="4.88" lengthAdjust="spacingAndGlyphs">]</text></g>
<g transform="translate(19.7 279.5) rotate(-90)"><text x="-28.42" y="0" style="font-family:'Liberation Sans',sans-serif;font-size:13.25px" textLength="35.66" lengthAdjust="spacingAndGlyphs">[Pa.m</text><text x="7.25" y="-5" style="font-family:'Liberation Sans',sans-serif;font-size:9.28px" textLength="5.57" lengthAdjust="spacingAndGlyphs">3</text><text x="12.81" y="0" style="font-family:'Liberation Sans',sans-serif;font-size:13.25px" textLength="15.6" lengthAdjust="spacingAndGlyphs">/s]</text></g>
<g transform="translate(21.4 389.6) rotate(-90)"><text x="-17.59" y="0" style="font-family:'Liberation Sans',sans-serif;font-size:13.25px" textLength="35.18" lengthAdjust="spacingAndGlyphs">[A.U.]</text></g>
<g transform="translate(20.2 497.3) rotate(-90)"><text x="-42.4" y="0" style="font-family:'Liberation Sans',sans-serif;font-size:13.25px" textLength="74.37" lengthAdjust="spacingAndGlyphs">[1e18 D2/m</text><text x="31.96" y="-5" style="font-family:'Liberation Sans',sans-serif;font-size:9.28px" textLength="5.57" lengthAdjust="spacingAndGlyphs">3</text><text x="37.53" y="0" style="font-family:'Liberation Sans',sans-serif;font-size:13.25px" textLength="4.88" lengthAdjust="spacingAndGlyphs">]</text></g>
<rect x="214.7" y="266.3" width="118.9" height="60.8" rx="2.5" fill="#fff" fill-opacity="0.8" stroke="#cccccc" stroke-width="1"/>
<line x1="219.6" y1="277" x2="244.6" y2="277" stroke="#008000" stroke-width="1.875" stroke-linecap="square"/>
<text x="254.2" y="281.4" style="font-family:'Liberation Sans',sans-serif;font-size:13.25px" fill="#000" text-anchor="start" textLength="73.4" lengthAdjust="spacingAndGlyphs" >AUG39145*</text>
<line x1="219.6" y1="296" x2="244.6" y2="296" stroke="#0000ff" stroke-width="1.875" stroke-linecap="square"/>
<text x="254.2" y="300.4" style="font-family:'Liberation Sans',sans-serif;font-size:13.25px" fill="#000" text-anchor="start" textLength="67.15" lengthAdjust="spacingAndGlyphs" >AUG39358</text>
<line x1="219.6" y1="315.1" x2="244.6" y2="315.1" stroke="#bfbf00" stroke-width="1.875" stroke-linecap="square"/>
<text x="254.2" y="319.5" style="font-family:'Liberation Sans',sans-serif;font-size:13.25px" fill="#000" text-anchor="start" textLength="67.15" lengthAdjust="spacingAndGlyphs" >AUG39359</text></svg>
</body></html>
